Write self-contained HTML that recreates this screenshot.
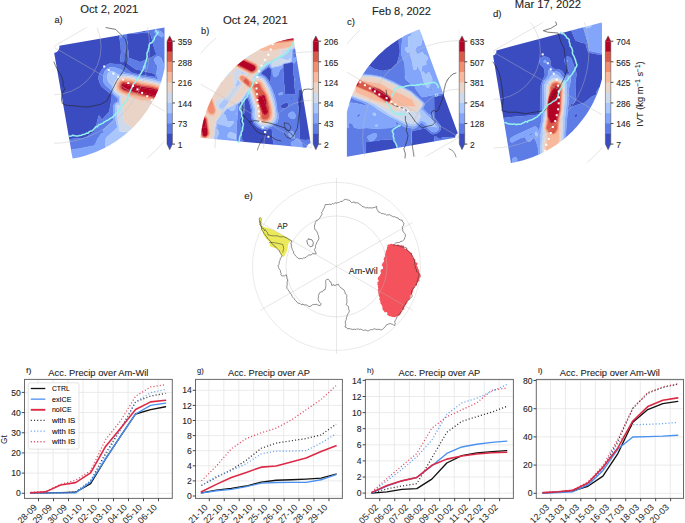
<!DOCTYPE html>
<html><head><meta charset="utf-8"><style>
html,body{margin:0;padding:0;background:#fff;}
body{width:685px;height:523px;overflow:hidden;}
svg{display:block;font-family:"Liberation Sans", sans-serif;}
text{paint-order:stroke;}
</style></head><body>
<svg width="685" height="523" viewBox="0 0 685 523">
<defs><clipPath id="ra"><rect x="0" y="0" width="164.5" height="200"/></clipPath><clipPath id="ca" clip-path="url(#ra)"><path d="M164.94 27.48 L165.42 30.46 L165.81 33.45 L166.13 36.46 L166.36 39.47 L166.52 42.48 L166.59 45.5 L166.59 48.52 L166.5 51.53 L166.34 54.55 L166.09 57.55 L165.76 60.56 L165.36 63.55 L164.87 66.53 L164.31 69.49 L163.67 72.44 L162.95 75.37 L162.15 78.28 L161.27 81.17 L160.32 84.03 L159.29 86.87 L158.19 89.68 L157.01 92.46 L155.76 95.21 L154.44 97.92 L153.04 100.6 L151.57 103.24 L150.04 105.83 L148.44 108.39 L146.76 110.9 L145.03 113.37 L143.22 115.79 L141.36 118.17 L139.43 120.49 L137.44 122.76 L135.39 124.97 L133.28 127.13 L131.12 129.24 L128.9 131.28 L126.62 133.27 L124.3 135.19 L121.92 137.05 L119.5 138.85 L117.03 140.58 L114.51 142.25 L111.95 143.85 L109.35 145.38 L106.71 146.84 L104.03 148.23 L101.31 149.55 L98.56 150.8 L95.78 151.97 L92.97 153.07 L90.13 154.09 L87.27 155.04 L84.38 155.91 L81.46 156.7 L78.53 157.41 L75.58 158.05 L72.61 158.61 L54.18 53.01 L55.54 52.61 L56.77 51.92 L57.81 50.98 L58.62 49.83 L59.16 48.52 L59.39 47.13 L59.31 45.73 Z"/></clipPath><clipPath id="ga"><rect x="54.2" y="27.5" width="110.3" height="130.9"/></clipPath><clipPath id="cb"><path d="M200.49 137.71 L200.76 135.24 L201.07 132.78 L201.44 130.33 L201.87 127.88 L202.35 125.45 L202.88 123.03 L203.47 120.62 L204.11 118.22 L204.8 115.84 L205.55 113.47 L206.34 111.13 L207.19 108.8 L208.1 106.49 L209.05 104.2 L210.05 101.93 L211.11 99.68 L212.21 97.46 L213.37 95.27 L214.57 93.1 L215.82 90.95 L217.11 88.84 L218.46 86.76 L219.85 84.7 L221.28 82.68 L222.76 80.69 L224.29 78.73 L225.85 76.81 L227.46 74.92 L229.11 73.07 L230.8 71.25 L232.54 69.48 L234.31 67.74 L236.12 66.04 L237.96 64.39 L239.84 62.77 L241.76 61.2 L243.71 59.67 L245.7 58.18 L247.72 56.74 L249.77 55.35 L251.85 54 L253.96 52.69 L256.1 51.44 L258.26 50.23 L260.46 49.07 L262.67 47.96 L264.92 46.9 L267.18 45.89 L269.47 44.93 L271.78 44.02 L274.1 43.16 L276.45 42.35 L278.81 41.6 L281.19 40.9 L283.59 40.25 L285.99 39.66 L288.41 39.12 L290.85 38.63 L293.29 38.2 L310.68 143.27 L309.78 143.51 L308.93 143.91 L308.18 144.46 L307.54 145.15 L307.04 145.94 L306.7 146.81 L306.52 147.73 Z"/></clipPath><clipPath id="gb"><rect x="200.7" y="38" width="110.80000000000001" height="110.19999999999999"/></clipPath><clipPath id="rc"><rect x="346.9" y="0" width="200" height="200"/></clipPath><clipPath id="cc" clip-path="url(#rc)"><path d="M345.91 156.87 L345.48 154.2 L345.11 151.51 L344.8 148.82 L344.55 146.12 L344.37 143.41 L344.26 140.7 L344.2 137.99 L344.21 135.28 L344.29 132.57 L344.43 129.86 L344.63 127.16 L344.9 124.46 L345.23 121.77 L345.62 119.09 L346.08 116.41 L346.59 113.75 L347.18 111.1 L347.82 108.47 L348.53 105.85 L349.29 103.25 L350.12 100.67 L351.01 98.11 L351.96 95.57 L352.97 93.05 L354.04 90.56 L355.16 88.1 L356.35 85.66 L357.59 83.25 L358.89 80.87 L360.24 78.52 L361.65 76.2 L363.11 73.92 L364.63 71.67 L366.2 69.46 L367.82 67.28 L369.49 65.15 L371.21 63.05 L372.98 61 L374.8 58.99 L376.66 57.02 L378.57 55.1 L380.53 53.22 L382.53 51.39 L384.57 49.6 L386.65 47.87 L388.78 46.18 L390.94 44.55 L393.14 42.97 L395.38 41.43 L397.65 39.96 L399.96 38.53 L402.3 37.16 L404.67 35.85 L407.07 34.59 L409.5 33.39 L411.96 32.25 L414.45 31.17 L416.96 30.14 L419.49 29.17 L457.82 133.35 L457.1 133.69 L456.47 134.17 L455.95 134.77 L455.55 135.46 L455.3 136.21 L455.2 137 L455.26 137.79 Z"/></clipPath><clipPath id="gc"><rect x="346.9" y="30.3" width="112.30000000000001" height="126.3"/></clipPath><clipPath id="rd"><rect x="0" y="0" width="602" height="200"/></clipPath><clipPath id="cd" clip-path="url(#rd)"><path d="M601.6 22.44 L602.38 25.54 L603.07 28.66 L603.67 31.79 L604.18 34.94 L604.6 38.11 L604.94 41.28 L605.18 44.46 L605.33 47.65 L605.4 50.84 L605.37 54.04 L605.25 57.23 L605.05 60.41 L604.75 63.59 L604.36 66.76 L603.89 69.92 L603.32 73.06 L602.67 76.18 L601.93 79.29 L601.1 82.37 L600.19 85.43 L599.18 88.46 L598.1 91.46 L596.93 94.43 L595.67 97.37 L594.34 100.27 L592.92 103.13 L591.42 105.94 L589.84 108.72 L588.19 111.45 L586.46 114.13 L584.65 116.76 L582.77 119.34 L580.82 121.87 L578.79 124.34 L576.7 126.75 L574.54 129.1 L572.32 131.39 L570.03 133.61 L567.68 135.77 L565.27 137.87 L562.8 139.89 L560.27 141.84 L557.7 143.73 L555.06 145.53 L552.38 147.27 L549.65 148.92 L546.88 150.5 L544.06 152 L541.2 153.42 L538.3 154.76 L535.37 156.01 L532.4 157.18 L529.4 158.27 L526.37 159.27 L523.31 160.19 L520.23 161.02 L517.12 161.76 L514 162.42 L510.86 162.98 L493.05 55.45 L493.97 55.18 L494.79 54.71 L495.48 54.05 L495.99 53.26 L496.31 52.36 L496.4 51.41 L496.27 50.47 Z"/></clipPath><clipPath id="gd"><rect x="493.4" y="22.4" width="108.60000000000002" height="140.2"/></clipPath></defs>
<rect width="685" height="523" fill="#fff"/>
<g clip-path="url(#ca)"><path d="M45.8 20.0 163.4 20.0 156.6 22.2 156.0 23.2 154.8 23.8 153.6 23.8 151.5 22.9 147.0 23.0 126.8 25.8 120.8 26.9 120.1 27.5 120.5 30.5 119.2 31.4 118.7 32.8 120.6 45.5 121.0 52.2 120.0 59.8 120.3 61.2 121.5 62.2 122.2 62.3 123.8 61.5 124.2 60.5 124.3 53.8 125.3 47.5 126.0 55.2 126.0 62.0 126.4 62.8 135.0 69.0 154.5 73.8 155.6 77.0 140.2 74.8 131.5 72.5 123.3 65.8 120.0 63.9 115.5 64.1 109.5 63.5 106.5 64.9 102.9 68.0 100.0 72.5 98.5 76.2 98.3 78.5 100.0 83.8 101.7 86.8 111.9 95.0 111.5 99.5 109.2 111.5 102.0 119.7 99.6 116.0 99.0 115.5 98.5 116.0 95.8 127.2 94.1 131.8 85.5 137.6 80.2 138.6 75.8 138.6 69.0 139.3 68.3 140.0 69.3 161.8 69.8 164.8 71.0 165.5 45.0 165.5 45.0 20.0 45.8 20.0ZM143.2 28.7 144.8 28.9 145.6 30.5 145.1 32.0 144.0 32.6 142.6 32.0 141.9 30.5 142.5 29.0 143.2 28.7ZM135.7 33.5 143.2 32.8 150.0 33.2 150.3 35.0 151.1 35.8 151.3 38.0 151.9 38.8 152.6 43.2 153.3 44.0 153.5 46.2 154.1 47.0 154.1 48.5 154.8 49.2 155.0 51.5 155.8 52.2 156.2 54.5 149.2 58.5 146.2 59.3 145.5 60.0 140.2 61.9 138.0 61.6 137.2 60.8 132.0 59.3 131.2 58.6 129.8 58.6 128.6 57.5 128.6 51.5 127.9 49.2 127.8 42.5 127.0 40.2 127.0 34.2 127.5 33.8 135.7 33.5ZM170.2 39.1 170.2 39.5 170.2 51.6 169.5 50.2 166.7 47.8 166.1 45.5 166.9 43.2 169.5 41.0 170.2 39.1ZM153.8 66.3 154.6 66.5 154.5 68.4 153.4 68.0 153.8 66.3ZM168.8 75.6 170.2 75.6 170.2 86.4 168.2 82.2 169.0 80.0 168.3 76.2 168.8 75.6ZM170.2 102.0 170.2 165.5 111.3 165.5 111.8 163.7 150.0 161.5 151.1 161.0 153.4 149.8 158.2 119.8 158.8 116.8 160.5 113.8 161.4 108.5 167.2 105.2 170.2 102.0ZM101.2 130.4 101.3 131.0 101.2 131.3 100.9 131.0 101.2 130.4Z" fill="#3b4cc0" stroke="#3b4cc0" stroke-width="0.3" fill-rule="evenodd"/><path d="M160.5 20.7 163.4 20.0 170.2 20.0 170.2 39.1 169.5 41.0 166.9 43.2 166.1 45.5 166.7 47.8 169.5 50.2 170.2 51.6 170.2 75.6 168.8 75.6 168.3 76.2 169.0 80.0 168.2 82.2 170.2 86.4 170.2 89.9 168.4 86.0 165.7 82.2 166.8 80.8 167.1 79.2 164.6 66.5 161.3 58.2 159.7 56.8 157.5 56.5 156.0 57.0 154.7 58.2 154.1 59.8 156.0 64.4 157.1 65.0 157.4 65.8 156.4 74.0 156.9 76.2 158.6 79.2 158.2 79.5 153.8 78.2 140.2 76.4 132.8 74.2 125.2 72.7 121.1 69.5 114.8 67.4 110.2 67.2 107.0 68.8 104.8 71.0 103.9 73.2 103.1 79.2 103.5 82.2 105.5 85.2 110.6 89.8 113.2 94.6 117.9 98.8 117.8 101.4 114.8 102.9 113.3 105.5 113.4 114.5 113.2 116.0 112.4 116.8 113.6 119.8 103.4 129.5 103.0 131.0 104.0 132.5 103.5 133.2 102.0 132.7 100.5 134.5 97.8 138.5 94.5 145.6 79.5 148.5 72.0 149.4 71.6 149.8 71.6 160.2 72.0 165.1 83.5 165.5 71.0 165.5 69.8 164.8 69.3 161.8 68.3 140.0 69.0 139.3 75.8 138.6 80.2 138.6 85.5 137.6 94.1 131.8 95.8 127.3 98.5 116.0 99.0 115.5 99.6 116.0 102.0 119.7 109.2 111.5 111.5 99.5 111.9 95.0 101.7 86.8 100.0 83.8 98.3 78.5 98.5 76.2 100.0 72.5 102.9 68.0 106.5 64.9 109.5 63.5 115.5 64.1 120.0 63.9 123.3 65.8 131.5 72.5 140.2 74.8 155.6 77.0 154.5 73.8 135.0 69.0 126.4 62.8 126.0 62.0 126.0 55.3 125.2 47.5 124.3 53.8 124.2 60.5 123.8 61.5 122.2 62.3 121.5 62.2 120.3 61.2 120.0 59.8 121.0 52.2 120.6 45.5 118.7 32.8 119.2 31.4 120.5 30.5 120.1 27.5 120.8 26.9 126.7 25.8 147.0 23.0 151.5 22.9 153.6 23.8 154.8 23.8 156.0 23.2 156.6 22.2 160.5 20.7ZM128.0 26.8 126.8 27.3 124.0 27.5 122.4 28.3 121.9 29.8 122.2 31.2 120.6 32.0 120.0 33.1 120.0 36.2 120.8 37.4 121.5 37.4 122.5 36.5 123.1 34.2 123.3 31.2 124.0 29.8 126.0 28.4 130.5 27.5 131.1 26.8 128.0 26.8ZM142.5 29.0 141.9 30.5 142.5 31.9 144.0 32.6 144.8 32.4 145.5 31.2 145.4 29.8 144.0 28.7 142.5 29.0ZM155.1 30.5 154.5 32.0 155.8 33.5 161.2 37.0 162.0 37.2 163.2 36.5 163.5 34.2 161.8 32.0 158.2 30.3 155.1 30.5ZM135.6 33.5 127.5 33.8 127.0 34.2 127.0 40.2 127.8 42.5 127.9 49.2 128.6 51.5 128.6 57.5 129.8 58.6 131.2 58.6 132.0 59.3 137.2 60.8 138.0 61.6 140.2 61.9 145.5 60.0 146.2 59.3 149.2 58.5 156.2 54.5 155.8 52.2 155.0 51.5 154.8 49.2 154.1 48.5 154.1 47.0 153.5 46.2 153.3 44.0 152.6 43.2 151.9 38.8 151.3 38.0 151.1 35.8 150.3 35.0 150.0 33.2 143.2 32.8 135.6 33.5ZM143.8 65.8 143.0 66.5 142.9 68.0 143.6 68.8 144.8 68.9 145.7 68.0 145.8 65.8 144.8 65.4 143.8 65.8ZM153.6 66.5 153.4 68.0 154.5 68.4 154.5 66.3 153.6 66.5ZM100.9 131.0 101.2 131.3 101.2 130.4 100.9 131.0ZM170.2 98.0 170.2 102.0 167.2 105.2 161.4 108.5 160.5 113.8 158.8 116.8 153.4 149.8 151.1 161.0 150.0 161.5 111.8 163.7 111.3 165.5 110.3 165.5 111.0 163.1 133.5 161.8 140.2 161.0 150.0 160.9 150.8 160.4 157.4 121.2 160.5 107.0 164.2 105.7 167.2 103.5 169.2 101.0 170.2 98.0ZM90.0 165.4 93.8 165.0 98.4 165.5 89.4 165.5 90.0 165.4Z" fill="#5d7ce6" stroke="#5d7ce6" stroke-width="0.3" fill-rule="evenodd"/><path d="M128.2 26.7 131.1 26.8 130.5 27.5 126.0 28.4 124.0 29.8 123.3 31.2 123.1 34.2 122.5 36.5 121.5 37.4 120.8 37.4 120.0 36.2 120.0 33.1 120.6 32.0 122.2 31.2 121.9 29.8 122.4 28.2 124.0 27.5 126.8 27.3 128.2 26.7ZM155.2 30.4 158.2 30.3 161.8 32.0 163.5 34.2 163.2 36.5 162.0 37.2 161.2 37.0 155.8 33.5 154.5 32.0 154.5 31.2 155.2 30.4ZM156.8 56.7 159.0 56.5 160.8 57.5 164.6 66.5 167.1 79.2 166.8 80.8 165.7 82.2 168.4 86.0 170.2 89.9 170.2 98.0 169.2 101.0 167.2 103.5 164.2 105.7 160.5 107.0 157.4 121.2 150.8 160.4 150.0 160.9 140.2 161.0 133.5 161.8 111.0 163.1 110.3 165.5 98.4 165.5 93.8 165.0 83.5 165.5 72.0 165.1 71.6 160.2 71.6 149.8 72.0 149.4 79.5 148.5 94.5 145.6 97.8 138.5 100.5 134.5 102.0 132.7 103.5 133.2 104.0 132.5 103.0 131.0 103.4 129.5 113.6 119.8 112.4 116.8 113.2 116.0 113.4 114.5 113.3 105.5 114.8 102.9 117.8 101.4 117.9 98.8 113.2 94.6 110.6 89.8 105.5 85.2 103.9 83.0 103.2 80.8 103.2 77.8 103.9 73.2 105.4 70.2 107.2 68.5 109.5 67.4 114.0 67.3 120.8 69.3 125.2 72.7 132.8 74.2 140.2 76.4 153.8 78.2 158.2 79.5 158.6 79.2 156.9 76.2 156.4 74.0 157.4 65.8 157.1 65.0 156.0 64.4 154.1 59.8 154.7 58.2 156.8 56.7ZM110.8 71.0 108.8 72.0 107.5 74.0 107.1 76.2 107.6 80.0 109.1 83.0 111.8 85.2 112.3 89.8 113.6 92.8 115.5 94.8 119.1 97.2 119.3 102.5 116.2 103.7 115.4 104.8 115.1 106.2 115.4 118.2 117.3 127.2 113.2 131.5 106.1 137.8 105.8 138.5 105.4 146.8 106.3 153.5 105.1 160.2 105.8 160.9 124.5 160.5 132.0 160.9 140.2 160.2 150.0 160.3 154.6 135.5 158.9 107.8 159.8 105.6 162.8 105.0 164.8 104.0 166.6 102.5 168.1 100.2 169.5 93.5 168.5 89.0 165.5 84.5 161.2 82.1 153.0 79.8 139.5 77.6 131.2 75.3 124.5 74.2 120.0 74.9 117.0 74.0 113.2 71.3 110.8 71.0ZM101.9 160.2 101.4 161.8 102.9 164.8 106.4 164.8 105.8 162.5 104.8 161.0 103.5 160.1 101.9 160.2ZM144.0 65.7 145.5 65.4 145.8 65.8 145.7 68.0 144.8 68.9 143.6 68.8 142.9 68.0 143.0 66.5 144.0 65.7Z" fill="#83a6fb" stroke="#83a6fb" stroke-width="0.3" fill-rule="evenodd"/><path d="M111.0 71.0 113.2 71.3 117.0 74.0 120.0 74.9 124.5 74.2 131.2 75.3 139.5 77.6 153.0 79.8 161.2 82.1 165.5 84.5 168.5 89.0 169.5 93.5 168.1 100.2 166.6 102.5 164.8 104.0 162.8 105.0 159.7 105.6 158.9 107.8 154.6 135.5 150.0 160.3 140.2 160.2 132.0 160.9 124.5 160.5 105.8 160.9 105.1 160.2 106.3 153.5 105.4 146.8 105.8 138.5 106.1 137.8 113.2 131.5 117.3 127.2 115.4 118.3 115.1 106.2 115.4 104.8 116.2 103.7 119.3 102.5 119.1 97.2 115.5 94.8 113.6 92.8 112.3 89.8 111.8 85.2 109.1 83.0 107.6 80.0 107.1 76.2 107.5 74.0 108.8 72.0 111.0 71.0ZM121.2 76.2 117.8 78.2 115.3 80.8 113.9 83.8 113.4 86.8 113.8 89.8 114.9 92.0 120.6 96.5 120.8 106.2 117.8 104.7 116.9 105.5 116.8 106.2 117.4 111.5 117.3 118.2 118.9 125.8 118.9 130.2 119.3 131.0 120.8 131.5 132.0 132.8 132.7 131.8 132.3 128.8 145.5 125.5 150.0 121.1 156.8 113.0 158.5 104.8 163.5 103.4 166.5 100.5 167.9 96.5 168.2 92.0 167.2 89.2 165.8 86.8 163.5 84.8 161.2 83.7 152.2 81.2 140.2 79.1 131.2 76.6 124.5 75.7 121.2 76.2ZM102.0 160.2 103.5 160.1 104.8 161.0 105.8 162.5 106.4 164.8 102.9 164.8 101.4 161.8 102.0 160.2Z" fill="#aac7fd" stroke="#aac7fd" stroke-width="0.3" fill-rule="evenodd"/><path d="M121.5 76.1 124.5 75.7 131.2 76.6 140.2 79.1 152.2 81.2 161.2 83.7 163.5 84.8 165.8 86.8 167.2 89.2 168.2 92.0 167.9 96.5 166.5 100.5 163.5 103.4 158.5 104.8 156.8 113.0 150.0 121.1 145.5 125.5 132.3 128.8 132.7 131.8 132.0 132.8 120.8 131.5 119.3 131.0 118.9 130.2 118.9 125.8 117.3 118.2 117.4 111.5 116.8 106.2 116.9 105.5 117.8 104.7 120.8 106.2 120.6 96.5 114.9 92.0 113.8 89.8 113.4 86.8 114.0 83.4 115.5 80.5 118.4 77.8 121.5 76.1ZM121.1 77.8 117.7 80.0 115.7 83.0 115.0 87.5 116.2 91.1 118.5 93.1 122.2 95.2 131.2 98.3 136.7 99.5 135.0 99.9 130.5 98.4 123.0 96.9 121.8 97.2 121.8 102.5 123.2 109.2 123.6 116.8 124.5 122.0 132.0 127.4 145.0 124.2 155.2 113.0 156.5 106.2 157.7 103.2 162.4 102.5 165.2 100.2 166.5 97.3 167.1 94.3 166.9 92.0 166.2 89.8 164.2 87.1 162.0 85.6 153.8 83.0 141.0 80.7 130.5 77.9 124.5 77.1 121.1 77.8ZM147.0 105.0 148.4 105.5 148.4 106.2 147.8 106.8 147.0 106.9 146.2 106.2 146.3 105.5 147.0 105.0Z" fill="#ced9ec" stroke="#ced9ec" stroke-width="0.3" fill-rule="evenodd"/><path d="M121.5 77.6 124.5 77.1 130.5 77.9 141.0 80.7 153.8 83.0 162.0 85.6 164.2 87.1 166.2 89.8 166.9 92.0 167.1 94.2 166.5 97.3 165.2 100.2 162.4 102.5 157.7 103.2 156.5 106.2 155.2 113.0 145.0 124.2 132.0 127.4 124.5 122.0 123.6 116.8 123.2 109.2 121.8 102.5 121.8 97.2 123.0 96.9 130.5 98.4 135.0 99.9 136.7 99.5 131.2 98.3 122.2 95.2 118.5 93.1 116.2 91.1 115.0 87.5 115.7 83.0 117.8 80.0 121.5 77.6ZM124.4 78.5 121.5 79.1 119.2 80.5 117.8 82.3 116.7 85.2 116.6 87.5 117.4 89.8 119.2 91.7 122.2 93.5 141.0 100.5 150.0 100.6 160.5 101.7 163.5 100.2 165.0 98.0 165.9 94.2 165.5 91.2 163.5 88.3 161.2 86.8 152.2 84.0 141.8 82.3 131.2 79.5 124.4 78.5ZM146.3 105.5 146.2 106.2 147.0 106.9 148.4 106.2 148.4 105.5 147.8 105.0 146.3 105.5Z" fill="#ead4c8" stroke="#ead4c8" stroke-width="0.3" fill-rule="evenodd"/><path d="M124.5 78.5 131.2 79.5 141.8 82.3 152.2 84.0 161.2 86.8 163.5 88.3 165.5 91.2 165.9 94.2 165.0 98.0 163.5 100.2 160.5 101.7 150.0 100.6 141.0 100.5 122.2 93.5 119.2 91.7 117.4 89.8 116.6 87.5 116.7 85.2 117.8 82.3 119.2 80.5 121.5 79.1 124.5 78.5ZM123.4 80.0 121.3 80.8 119.5 82.2 118.6 83.7 118.2 86.0 118.5 88.2 119.4 89.8 123.0 92.3 129.0 94.3 158.2 100.4 160.5 100.3 162.0 99.6 163.9 97.2 164.6 94.2 164.4 92.0 163.1 89.8 160.5 87.9 152.2 85.4 141.8 83.7 126.0 80.0 123.4 80.0Z" fill="#f7b89c" stroke="#f7b89c" stroke-width="0.3" fill-rule="evenodd"/><path d="M123.8 79.9 132.0 81.2 142.5 83.9 152.2 85.4 160.5 87.9 163.1 89.8 164.4 92.0 164.6 94.2 163.9 97.2 162.0 99.6 160.5 100.3 158.2 100.4 129.0 94.3 123.0 92.3 119.4 89.8 118.5 88.2 118.2 86.0 118.6 83.8 120.0 81.7 121.5 80.6 123.8 79.9ZM123.2 81.5 120.8 83.1 119.7 86.0 120.7 89.0 123.8 91.1 128.2 92.6 135.0 93.6 143.2 95.9 158.2 98.9 161.2 98.3 163.1 95.8 163.3 93.5 162.9 92.0 161.9 90.5 159.8 89.1 152.2 86.8 141.0 85.0 125.2 81.4 123.2 81.5Z" fill="#f18e70" stroke="#f18e70" stroke-width="0.3" fill-rule="evenodd"/><path d="M123.7 81.4 132.8 82.9 142.3 85.2 152.2 86.8 159.8 89.1 161.9 90.5 162.9 92.0 163.3 93.5 163.1 95.8 161.2 98.3 158.2 98.9 143.2 95.9 135.0 93.6 128.2 92.6 123.8 91.1 120.7 89.0 119.7 86.0 120.8 83.0 122.2 81.9 123.7 81.4ZM123.6 83.0 121.6 84.5 121.2 86.0 121.5 87.5 123.0 89.3 126.0 90.4 135.2 92.0 142.5 94.2 157.5 97.4 159.0 97.5 160.5 96.9 161.8 95.0 161.7 92.8 160.5 91.0 154.5 88.8 139.5 86.1 125.2 82.9 123.6 83.0Z" fill="#da5948" stroke="#da5948" stroke-width="0.3" fill-rule="evenodd"/><path d="M123.7 82.9 145.5 87.3 152.2 88.2 159.0 90.2 161.4 92.0 161.9 93.5 161.8 95.0 160.5 96.9 159.0 97.5 157.5 97.4 142.5 94.2 135.2 92.0 126.0 90.4 123.0 89.3 121.5 87.5 121.2 86.0 121.6 84.5 123.7 82.9ZM124.2 84.5 123.1 85.2 122.8 86.8 124.5 88.5 129.9 89.8 134.2 90.1 141.8 92.5 153.0 95.3 158.2 96.0 159.8 95.4 160.4 94.2 160.2 92.8 159.0 91.6 153.8 89.9 139.5 87.7 124.2 84.5Z" fill="#b40426" stroke="#b40426" stroke-width="0.3" fill-rule="evenodd"/><path d="M124.5 84.4 135.8 87.0 153.8 89.9 159.0 91.6 160.2 92.8 160.4 94.2 159.8 95.4 158.2 96.0 153.0 95.3 141.8 92.5 134.2 90.1 129.9 89.8 124.5 88.5 123.0 87.4 122.7 86.0 123.1 85.2 124.5 84.4Z" fill="#b40426" stroke="#b40426" stroke-width="0.3" fill-rule="evenodd"/></g>
<g clip-path="url(#ga)" stroke="#bdbdbd" stroke-width="0.5" fill="none" stroke-opacity="0.8"><circle cx="53.1" cy="46.8" r="48"/><circle cx="53.1" cy="46.8" r="96.5"/><circle cx="53.1" cy="46.8" r="146"/><line x1="53.1" y1="46.8" x2="269.61" y2="-78.2"/><line x1="53.1" y1="46.8" x2="269.61" y2="171.8"/><line x1="53.1" y1="46.8" x2="53.1" y2="296.8"/></g>
<g clip-path="url(#ra)"><polyline points="106,27.6 115.7,29.4 119.2,32.9 121.8,35.5 125.3,39 127.1,46 126.2,53 127.1,60 125.3,66.2 123.6,70.5 120.1,75.8 116.6,81.1 113.1,88.1 109.6,95.5 106.9,100.8 100.8,104.3 97.3,105.1 88.5,106.9 83.3,106.9 76.3,106 71,105.7 65.8,105.1 62.3,103.4 61.4,99 62.3,93.8 64.9,88.5 63.1,86.3 63.1,81.1 61.4,75.8 57.9,70.5 55.3,65.3 54,62" fill="none" stroke="#222" stroke-width="0.6" stroke-linejoin="round" stroke-linecap="round"/></g>
<polyline points="155.72,29.98 156.27,31.63 158.1,32.74 156.98,34.45 155.83,35.53 154.39,37.79 154.22,39.62 153.66,40.26 152.27,42.09 151.02,43.05 149.76,43.47 148.92,45.75 148.97,46.32 148.83,47.66 148.37,49.09 148.07,50.88 147.01,52.79 146.91,54.94 147.21,56.68 146.81,58.13 146.36,60.37 145.86,61.48 145.16,63.42 144.59,65.91 143.79,66.62 143.44,68.98 142.81,70.16 141.72,71.7 141.44,72.81 140.17,74.26 139.41,75.94 137.91,77.96 137.62,78.27 136.36,79.68 135.81,81.31 134.94,82.7 133.5,83.7 132.85,85.46 132.49,86.35 131.41,88.59 130.92,89.41 130.21,91.45 129.28,93.55 128.46,94.3 128.43,96.02 127.62,97.95 127.61,99.32 126.39,100.38 124.57,102.57 123.58,103.98 122.82,104.68 121.74,106.34 120.58,108.05 119.91,108.86 118.48,110.3 117.64,112.26 116.93,112.45 115.81,113.49 114.49,114.99 112.63,117.26 111.3,117.92 110.33,118.38 107.99,120.18 106.8,120.49 105.98,121.06 104.4,121.84 102.97,123.1 101.83,123.67 100.42,124.25 98.43,124.97 97.57,126.77 96,126.58 94.47,128.51 93.43,129.46 92.35,130.82 90.13,131.35 88.94,131.98 88.24,133.24 86.64,133.12 84.88,134.19 82.9,134.43 81.71,135.22 79.65,135.48 78.48,135.91 75.65,135.88 74.59,135.65 72.77,135.28 71.44,135.95 68.9,136.2" fill="none" stroke="#96f0ec" stroke-width="1.5" stroke-linejoin="round" stroke-linecap="round"/><rect x="103.2" y="65.5" width="2" height="2" fill="#fff"/><rect x="107.7" y="69" width="2" height="2" fill="#fff"/><rect x="112.4" y="72.5" width="2" height="2" fill="#fff"/><rect x="117.3" y="75.8" width="2" height="2" fill="#fff"/><rect x="122.1" y="78.7" width="2" height="2" fill="#fff"/><rect x="127.3" y="82.1" width="2" height="2" fill="#fff"/><rect x="131.9" y="85" width="2" height="2" fill="#fff"/><rect x="136.5" y="88.4" width="2" height="2" fill="#fff"/><rect x="141.1" y="91.9" width="2" height="2" fill="#fff"/><rect x="146.2" y="95.3" width="2" height="2" fill="#fff"/><rect x="150.8" y="98.8" width="2" height="2" fill="#fff"/>
<path d="M167 41.2 L169.7 35.9 L172.4 41.2 Z" fill="#b40426"/>
<path d="M167 144.1 L169.7 149.7 L172.4 144.1 Z" fill="#3b4cc0"/>
<rect x="167" y="41.2" width="5.4" height="10.89" fill="#b40426"/>
<rect x="167" y="51.49" width="5.4" height="10.89" fill="#da5948"/>
<rect x="167" y="61.78" width="5.4" height="10.89" fill="#f18e70"/>
<rect x="167" y="72.07" width="5.4" height="10.89" fill="#f7b89c"/>
<rect x="167" y="82.36" width="5.4" height="10.89" fill="#ead4c8"/>
<rect x="167" y="92.65" width="5.4" height="10.89" fill="#ced9ec"/>
<rect x="167" y="102.94" width="5.4" height="10.89" fill="#aac7fd"/>
<rect x="167" y="113.23" width="5.4" height="10.89" fill="#83a6fb"/>
<rect x="167" y="123.52" width="5.4" height="10.89" fill="#5d7ce6"/>
<rect x="167" y="133.81" width="5.4" height="10.29" fill="#3b4cc0"/>
<path d="M167 41.2 L169.7 35.9 L172.4 41.2 L172.4 144.1 L169.7 149.7 L167 144.1 Z" fill="none" stroke="#444" stroke-width="0.5"/>
<line x1="172.4" y1="41.2" x2="175" y2="41.2" stroke="#333" stroke-width="0.9"/>
<text x="177.8" y="45.05" font-size="8.5" fill="#262626" stroke="#262626" stroke-width="0.1">359</text>
<line x1="172.4" y1="61.78" x2="175" y2="61.78" stroke="#333" stroke-width="0.9"/>
<text x="177.8" y="65.63" font-size="8.5" fill="#262626" stroke="#262626" stroke-width="0.1">288</text>
<line x1="172.4" y1="82.36" x2="175" y2="82.36" stroke="#333" stroke-width="0.9"/>
<text x="177.8" y="86.21" font-size="8.5" fill="#262626" stroke="#262626" stroke-width="0.1">216</text>
<line x1="172.4" y1="102.94" x2="175" y2="102.94" stroke="#333" stroke-width="0.9"/>
<text x="177.8" y="106.79" font-size="8.5" fill="#262626" stroke="#262626" stroke-width="0.1">144</text>
<line x1="172.4" y1="123.52" x2="175" y2="123.52" stroke="#333" stroke-width="0.9"/>
<text x="177.8" y="127.37" font-size="8.5" fill="#262626" stroke="#262626" stroke-width="0.1">73</text>
<line x1="172.4" y1="144.1" x2="175" y2="144.1" stroke="#333" stroke-width="0.9"/>
<text x="177.8" y="147.95" font-size="8.5" fill="#262626" stroke="#262626" stroke-width="0.1">1</text>
<text x="109.3" y="13.1" font-size="10.9" text-anchor="middle" textLength="58.2" lengthAdjust="spacingAndGlyphs" fill="#1e1e1e" stroke="#1e1e1e" stroke-width="0.1">Oct 2, 2021</text>
<text x="54.4" y="22.8" font-size="9" textLength="8.2" lengthAdjust="spacingAndGlyphs" fill="#1e1e1e" stroke="#1e1e1e" stroke-width="0.1">a)</text>
<g clip-path="url(#cb)"><path d="M195.8 30.0 196.5 30.0 267.3 30.0 264.8 31.0 262.1 33.8 261.0 35.5 257.2 36.6 232.5 49.4 217.5 56.6 215.9 58.5 204.8 77.4 199.9 84.0 195.0 92.0 195.0 30.0 195.8 30.0ZM301.5 30.0 315.0 30.0 315.0 142.0 313.4 136.5 313.4 131.2 311.5 123.0 311.2 115.3 309.8 110.2 309.0 110.1 308.2 111.3 308.2 114.0 308.8 116.2 308.8 120.8 309.5 122.2 309.4 127.5 310.1 129.0 310.1 133.5 310.9 135.8 310.8 139.5 305.2 139.9 299.7 139.5 298.7 108.0 297.8 103.5 298.5 89.7 300.0 89.7 300.8 89.0 302.2 89.0 303.8 88.2 304.8 88.5 305.5 90.0 305.8 94.5 306.5 96.8 306.5 101.2 307.3 102.8 307.5 105.1 309.0 105.3 309.3 101.2 308.2 94.5 307.9 87.8 306.9 78.8 304.1 68.2 304.0 60.0 303.3 55.5 301.5 51.7 299.2 52.4 294.7 51.0 294.6 50.2 297.0 47.3 299.2 47.1 300.8 47.7 301.0 47.2 301.7 41.2 302.7 39.0 303.2 36.0 302.7 33.0 300.9 30.0 301.5 30.0ZM291.8 62.1 292.7 62.2 293.5 66.0 293.6 75.0 294.3 78.0 294.3 87.0 295.1 90.0 295.1 93.8 294.8 94.2 291.8 94.3 285.0 94.0 284.5 85.5 283.8 82.5 283.9 74.2 283.2 71.2 283.3 64.5 284.2 63.7 291.0 62.7 291.8 62.1ZM267.8 67.4 268.5 66.9 271.4 69.8 270.6 81.0 270.0 82.3 266.7 77.2 261.3 73.5 262.5 71.6 267.8 67.4ZM246.8 96.8 247.4 97.5 249.1 102.0 251.0 109.5 251.1 116.2 251.7 119.2 254.2 124.5 257.5 127.5 261.8 129.4 265.5 129.7 271.7 128.2 272.5 138.0 273.7 144.8 273.9 150.0 274.5 151.1 280.5 151.4 287.2 150.3 295.5 151.4 315.0 151.0 315.0 152.2 195.0 152.2 195.0 132.7 196.0 141.8 197.2 143.4 198.8 144.2 207.8 143.6 208.3 144.0 208.3 145.5 209.2 146.5 216.0 148.0 222.8 148.5 238.5 150.8 240.0 150.8 241.7 150.0 242.5 148.5 243.2 140.2 242.0 139.5 241.8 132.0 240.8 123.8 239.9 123.0 239.3 120.8 239.9 119.3 240.8 118.8 241.2 114.0 244.3 113.2 244.4 100.5 246.8 96.8ZM291.8 97.2 292.4 98.2 291.8 99.2 291.0 99.3 290.7 98.2 291.0 97.6 291.8 97.2ZM285.8 102.7 287.2 102.7 288.1 103.5 288.4 105.8 287.2 107.8 285.8 108.4 284.2 108.5 281.7 108.0 280.5 107.2 280.3 106.5 281.4 105.0 283.6 103.5 285.8 102.7Z" fill="#3b4cc0" stroke="#3b4cc0" stroke-width="0.3" fill-rule="evenodd"/><path d="M265.5 30.6 267.3 30.0 270.1 30.0 266.4 30.8 264.0 32.2 261.5 36.0 258.7 36.8 233.2 50.1 217.5 57.4 205.5 78.0 200.3 84.9 195.0 93.4 195.0 92.0 196.2 90.0 204.8 77.4 217.0 57.0 218.2 56.0 232.5 49.4 257.2 36.6 261.0 35.5 263.2 32.4 265.5 30.6ZM300.0 30.0 300.9 30.0 302.0 31.5 303.1 35.2 302.9 38.2 301.5 42.0 301.3 46.5 300.8 47.7 299.2 47.1 297.0 47.3 294.6 50.2 294.7 51.0 299.2 52.4 301.5 51.7 303.3 55.5 304.0 60.0 304.1 68.2 306.9 78.8 307.9 87.8 308.2 94.5 309.3 101.2 309.0 105.3 307.5 105.1 307.3 102.8 306.5 101.2 306.5 96.8 305.8 94.5 305.5 90.0 304.8 88.5 303.8 88.2 302.2 89.0 300.8 89.0 300.0 89.7 298.5 89.7 297.8 103.5 298.7 108.0 299.7 139.5 305.2 139.9 310.8 139.5 310.9 135.8 310.1 133.5 310.1 129.0 309.4 127.5 309.5 122.2 308.8 120.8 308.8 116.3 308.2 114.0 308.2 111.3 309.0 110.1 309.8 110.2 311.4 116.2 311.5 123.0 313.3 130.5 313.4 136.5 315.0 142.0 315.0 151.0 295.5 151.4 287.2 150.3 280.5 151.4 274.5 151.1 273.9 150.0 273.7 144.8 272.5 138.0 271.7 128.2 265.5 129.7 261.8 129.4 257.5 127.5 254.2 124.5 251.7 119.2 251.1 116.3 251.0 109.5 249.1 102.0 247.4 97.5 246.8 96.8 244.4 100.5 244.3 113.2 241.2 114.0 240.8 118.8 239.9 119.2 239.3 120.8 239.9 123.0 240.8 123.8 241.8 132.0 242.0 139.5 243.2 140.2 242.5 148.5 241.7 150.0 240.0 150.8 238.5 150.8 222.8 148.5 216.8 148.2 209.2 146.5 208.3 145.5 208.3 144.0 207.8 143.6 199.5 144.4 197.2 143.4 196.0 141.8 195.5 139.5 195.0 126.4 196.2 135.0 196.3 141.0 198.0 143.3 199.5 143.6 209.2 142.7 209.7 143.2 209.6 144.8 210.4 145.5 216.8 146.8 225.8 147.3 235.5 149.5 237.4 149.2 237.0 148.4 236.2 148.0 236.1 144.0 236.7 137.2 236.6 126.8 237.4 117.0 237.8 104.2 239.2 103.2 243.0 102.0 243.2 100.5 247.5 94.2 250.2 101.2 252.1 109.5 252.0 114.8 252.5 117.8 254.4 122.2 256.9 125.2 261.0 127.9 264.8 128.4 270.9 126.8 273.5 125.2 276.0 123.0 276.8 123.1 277.5 122.1 279.1 116.2 277.5 111.9 276.1 101.2 274.8 96.0 271.2 87.0 266.8 79.5 264.1 76.5 259.8 74.2 261.7 71.2 269.2 65.2 270.2 67.5 272.6 69.0 273.0 75.6 274.5 76.8 276.0 76.8 278.1 75.0 279.8 70.1 282.8 67.8 283.4 63.7 290.2 62.4 292.5 61.5 294.0 63.5 294.8 62.7 296.2 60.3 296.5 58.5 295.9 57.8 294.8 57.5 293.2 58.2 292.9 50.2 295.9 47.2 297.0 44.2 300.0 41.9 301.9 39.0 302.2 34.5 301.4 32.2 300.0 30.0ZM291.4 62.2 291.0 62.7 284.2 63.7 283.3 64.5 283.2 71.2 283.9 74.2 283.8 82.5 284.5 85.5 285.0 94.0 291.8 94.3 294.8 94.2 295.1 93.8 295.1 90.0 294.3 87.0 294.3 78.0 293.6 75.0 293.5 66.0 292.7 62.2 291.4 62.2ZM267.6 67.5 262.5 71.6 261.3 73.5 266.7 77.2 270.0 82.3 270.6 81.0 271.4 69.8 268.5 66.9 267.6 67.5ZM294.7 78.8 294.7 80.2 294.8 81.5 295.2 79.5 294.8 78.3 294.7 78.8ZM305.4 82.5 303.4 86.2 303.8 87.2 304.7 87.0 306.0 85.7 306.0 82.1 305.4 82.5ZM279.4 93.0 278.3 94.5 279.0 95.3 282.0 94.7 283.1 93.8 283.0 93.0 282.0 92.5 279.4 93.0ZM291.1 97.5 290.7 99.0 291.8 99.2 292.4 98.2 291.8 97.2 291.1 97.5ZM285.6 102.8 283.5 103.5 281.4 105.0 280.3 106.5 280.5 107.2 281.7 108.0 284.2 108.5 285.8 108.4 287.2 107.8 288.4 105.8 288.1 103.5 287.2 102.7 285.6 102.8ZM242.9 111.8 243.0 112.5 243.0 112.5 243.0 111.0 242.9 111.8ZM291.6 111.8 289.1 113.2 288.1 114.8 288.1 115.5 289.1 117.0 291.0 118.4 294.0 118.9 295.5 117.0 295.2 114.0 293.2 111.8 291.6 111.8ZM290.1 131.2 288.6 133.5 289.1 136.5 290.2 137.8 291.8 138.5 294.2 138.0 294.9 137.2 295.0 135.8 293.5 132.0 291.8 130.8 290.1 131.2ZM296.0 138.8 294.0 140.7 291.8 141.8 290.8 143.2 291.2 144.8 294.2 150.0 306.3 150.0 302.8 147.8 301.6 142.5 300.0 140.3 297.8 138.8 296.0 138.8Z" fill="#5d7ce6" stroke="#5d7ce6" stroke-width="0.3" fill-rule="evenodd"/><path d="M267.0 30.6 270.1 30.0 275.3 30.0 266.2 31.6 263.5 33.8 261.8 37.1 258.8 37.8 234.0 50.8 218.2 58.0 206.2 78.5 201.0 85.6 195.0 95.3 195.2 93.0 200.2 84.9 205.5 78.0 217.5 57.4 233.3 50.1 258.7 36.8 261.5 36.0 263.9 32.2 267.0 30.6ZM299.2 30.0 299.8 30.0 300.5 30.8 301.8 33.0 302.2 37.5 300.8 41.1 297.0 44.2 295.9 47.2 292.9 50.2 293.2 58.2 294.8 57.5 295.9 57.8 296.5 58.5 296.2 60.3 294.8 62.7 294.0 63.5 292.5 61.5 290.2 62.4 283.4 63.8 282.8 67.8 279.8 70.1 278.1 75.0 276.0 76.8 274.5 76.8 273.0 75.6 272.6 69.0 270.2 67.5 269.2 65.2 261.7 71.2 259.8 74.2 264.1 76.5 266.8 79.5 271.2 87.0 274.8 96.0 276.1 101.2 277.5 111.9 279.1 116.2 277.5 122.1 276.8 123.1 276.0 123.0 273.5 125.2 270.9 126.8 264.8 128.4 261.0 127.9 256.9 125.2 254.4 122.2 252.5 117.8 252.0 114.8 252.1 109.5 250.2 101.2 247.5 94.2 243.2 100.5 243.0 102.0 239.2 103.2 237.8 104.2 237.4 117.0 236.6 126.8 236.7 137.2 236.1 144.0 236.2 148.0 237.0 148.4 237.4 149.2 235.5 149.5 225.8 147.3 216.8 146.8 210.4 145.5 209.6 144.8 209.7 143.2 209.2 142.7 199.5 143.6 197.2 142.7 196.3 141.0 196.1 134.2 195.0 126.8 195.0 116.3 197.6 141.8 199.5 142.7 207.0 141.8 213.0 141.7 214.2 141.0 214.5 139.8 215.2 140.1 216.0 139.7 218.6 134.2 218.5 131.2 217.5 129.6 216.0 128.5 216.8 123.3 220.5 124.8 225.0 125.4 228.8 127.3 230.2 126.5 233.7 123.0 233.9 122.2 233.2 121.2 228.0 121.5 227.2 120.7 225.5 115.5 223.5 113.7 223.5 113.2 226.4 109.5 228.2 108.8 229.3 108.8 230.0 110.2 231.0 110.7 234.0 110.2 235.2 108.8 235.4 105.0 241.5 101.4 247.5 92.4 248.2 92.6 249.8 95.3 253.8 109.5 253.5 114.8 254.0 117.8 255.3 120.8 257.4 123.8 261.0 126.4 264.8 127.0 270.0 125.5 274.4 122.2 276.4 118.5 276.6 114.8 274.6 101.2 272.1 93.0 269.2 86.2 264.5 78.8 261.2 76.5 256.4 75.8 258.8 74.0 261.0 70.5 266.2 65.9 270.0 63.5 270.6 64.5 270.9 66.8 271.5 67.4 273.0 67.6 282.0 65.4 282.7 63.8 283.5 63.4 289.5 62.3 291.4 61.5 292.1 49.5 294.8 47.4 295.7 45.8 296.1 43.5 299.6 41.2 301.3 38.2 301.4 34.5 300.6 32.2 298.8 30.0 299.2 30.0ZM236.8 113.2 236.7 114.0 237.0 114.8 237.0 112.6 236.8 113.2ZM228.9 132.8 227.7 135.0 227.8 137.2 229.5 138.1 234.0 138.6 235.5 139.9 236.0 134.2 231.0 132.3 229.5 132.3 228.9 132.8ZM235.4 141.8 232.5 144.5 230.8 147.0 235.5 148.2 235.4 141.8ZM294.8 78.3 295.2 79.5 294.8 81.5 294.7 79.5 294.8 78.3ZM306.0 82.1 306.0 85.7 304.7 87.0 303.8 87.2 303.4 86.2 306.0 82.1ZM279.8 92.9 282.0 92.5 283.0 93.0 283.1 93.8 282.0 94.7 279.0 95.3 278.3 94.5 278.5 93.8 279.8 92.9ZM243.0 111.0 243.1 111.8 243.0 112.5 242.9 111.8 243.0 111.0ZM291.7 111.7 294.0 112.2 295.4 114.8 295.5 117.0 294.0 118.9 291.0 118.4 289.1 117.0 288.1 115.5 288.1 114.8 289.1 113.2 291.7 111.7ZM290.2 131.1 292.5 131.0 294.0 132.8 295.0 136.5 294.2 138.0 291.8 138.5 290.2 137.8 289.1 136.5 288.6 133.5 289.3 132.0 290.2 131.1ZM296.2 138.6 298.5 139.1 300.7 141.0 301.9 143.2 302.8 147.8 306.3 150.0 294.2 150.0 291.2 144.8 290.8 143.2 291.8 141.8 294.0 140.7 296.2 138.6Z" fill="#83a6fb" stroke="#83a6fb" stroke-width="0.3" fill-rule="evenodd"/><path d="M270.8 30.7 275.3 30.0 286.0 30.0 275.2 30.8 266.9 32.2 264.0 34.5 262.5 38.1 258.8 38.9 234.2 51.7 219.0 58.6 210.8 72.0 207.2 78.8 201.3 87.0 195.0 97.3 195.0 95.3 196.3 93.0 201.1 85.5 206.3 78.5 218.2 58.0 234.0 50.8 258.8 37.8 261.8 37.1 263.5 33.8 265.1 32.2 267.8 31.1 270.8 30.7ZM298.5 30.0 300.1 31.5 301.2 33.8 301.5 36.0 301.3 38.2 299.6 41.2 296.1 43.5 295.7 45.8 294.8 47.4 292.1 49.5 291.4 61.5 289.5 62.3 283.5 63.4 282.7 63.8 282.0 65.4 273.0 67.6 271.5 67.4 270.9 66.8 270.6 64.5 270.0 63.5 266.2 65.9 261.0 70.5 258.8 74.0 256.4 75.8 261.2 76.5 264.5 78.8 269.2 86.2 272.1 93.0 274.6 101.2 276.6 114.8 276.4 118.5 274.4 122.2 270.0 125.5 264.8 127.0 261.0 126.4 257.4 123.8 255.3 120.8 254.0 117.8 253.5 114.8 253.8 109.5 249.8 95.3 248.2 92.6 247.5 92.4 241.5 101.4 235.4 105.0 235.2 108.8 234.0 110.2 231.0 110.7 230.0 110.2 229.3 108.8 228.2 108.8 226.4 109.5 223.4 113.2 225.5 115.5 227.3 120.8 228.8 121.7 233.2 121.2 233.9 122.2 233.1 123.8 228.8 127.3 225.0 125.4 220.5 124.8 216.8 123.3 216.0 128.5 218.2 130.5 218.8 132.8 218.1 135.8 216.0 139.7 215.2 140.1 214.5 139.8 214.2 141.0 212.2 142.0 207.8 141.7 199.5 142.7 198.0 142.2 197.1 140.2 197.1 135.0 195.0 116.3 195.0 109.7 198.4 141.0 199.5 141.7 207.8 140.8 212.2 141.0 213.1 140.2 214.6 134.2 215.3 126.0 216.4 120.8 220.3 116.2 225.6 108.8 232.3 105.8 240.8 100.7 248.2 90.1 250.3 93.0 251.3 95.2 255.4 109.5 255.3 117.0 256.1 119.2 258.0 122.2 261.0 124.8 264.8 125.6 269.2 124.3 273.0 121.5 274.5 119.2 275.2 117.0 274.4 107.2 272.6 99.8 268.6 88.5 264.8 81.2 262.5 78.7 258.8 77.5 254.2 78.3 253.7 78.0 254.7 75.8 257.9 73.5 260.2 69.9 266.2 64.6 275.2 59.7 285.0 53.0 288.0 49.3 291.8 48.7 293.8 47.2 294.8 45.8 295.5 42.7 298.5 41.2 300.4 38.2 300.6 34.5 299.7 32.2 297.8 30.0 298.5 30.0ZM279.5 58.5 277.2 59.2 272.0 62.2 271.6 66.0 272.2 66.5 276.0 65.9 282.0 64.3 282.8 63.2 290.3 61.5 290.2 58.1 288.8 59.8 287.2 60.4 282.8 58.7 279.5 58.5ZM241.5 72.0 242.2 71.7 243.1 72.0 245.6 73.5 245.9 74.2 243.0 73.5 240.8 73.7 241.5 72.0ZM237.8 79.1 240.8 83.3 240.8 83.7 237.8 86.1 236.2 86.4 234.8 86.1 237.8 79.1ZM224.2 98.9 228.0 100.4 228.5 101.2 228.6 102.8 223.5 108.8 220.5 108.9 218.9 107.2 218.7 105.0 224.2 98.9ZM237.0 112.6 237.0 114.0 237.0 114.8 236.7 114.0 237.0 112.6ZM229.5 132.3 231.0 132.3 236.0 134.2 235.5 139.9 234.0 138.6 229.5 138.1 227.8 137.2 227.7 135.0 229.5 132.3ZM235.5 141.5 235.5 148.2 230.8 147.0 232.5 144.5 235.5 141.5Z" fill="#aac7fd" stroke="#aac7fd" stroke-width="0.3" fill-rule="evenodd"/><path d="M276.0 30.7 289.4 30.0 284.2 31.0 275.2 31.7 267.0 33.1 264.5 35.2 263.2 39.1 259.5 39.6 235.5 52.4 226.5 56.7 219.7 59.2 211.5 72.6 209.0 78.0 202.5 87.0 195.0 99.1 195.0 97.3 197.2 93.4 207.2 78.8 210.8 72.0 219.0 58.6 234.2 51.8 258.8 38.9 262.5 38.1 264.0 34.5 266.2 32.5 268.5 31.8 276.0 30.7ZM297.0 30.0 297.8 30.0 298.5 30.7 300.1 33.0 300.7 35.2 300.6 37.5 299.2 40.5 297.8 41.8 295.5 42.8 294.8 45.8 293.8 47.2 291.8 48.7 288.0 49.3 285.0 53.0 275.2 59.7 266.2 64.6 260.2 69.9 257.9 73.5 254.7 75.8 253.7 78.0 254.2 78.3 258.8 77.5 262.5 78.7 264.8 81.2 268.6 88.5 272.6 99.8 274.4 107.2 275.2 117.0 274.5 119.2 273.0 121.5 269.2 124.3 264.8 125.6 261.0 124.8 258.0 122.2 256.1 119.2 255.3 117.0 255.4 109.5 251.3 95.2 250.3 93.0 248.2 90.1 240.8 100.7 232.3 105.8 225.6 108.8 220.3 116.2 216.4 120.8 215.3 126.0 214.7 133.5 213.0 140.5 212.2 141.0 207.8 140.8 199.5 141.7 198.8 141.4 198.2 140.2 198.0 134.2 195.0 109.7 195.0 104.2 196.9 116.2 199.2 140.2 200.2 140.8 204.4 140.2 207.0 139.3 210.0 137.4 211.0 139.5 212.2 139.5 213.9 132.8 214.2 126.0 215.4 120.8 222.0 111.8 221.2 111.2 218.2 110.7 216.8 109.2 215.4 104.2 216.0 101.8 217.2 99.8 219.0 98.3 220.5 97.9 222.8 98.6 225.0 97.2 227.5 94.5 233.4 86.2 234.1 84.8 233.4 81.8 233.1 72.8 236.8 68.2 244.9 72.0 247.5 73.5 248.0 74.2 246.8 76.1 243.8 74.5 242.2 74.3 240.8 74.6 239.2 75.8 238.6 77.2 238.8 79.5 242.6 84.0 242.4 84.8 234.4 96.8 228.7 103.5 227.0 106.5 228.0 106.6 231.6 105.0 240.0 99.9 248.2 88.5 249.6 89.2 252.5 94.5 255.0 104.2 257.0 109.5 256.9 117.0 258.8 121.0 261.8 123.5 264.8 124.1 268.5 123.0 272.2 120.0 273.8 116.2 273.8 112.5 273.0 106.5 269.3 93.8 263.9 82.5 262.2 80.2 259.5 79.0 256.5 79.1 252.8 80.8 251.5 80.2 251.6 79.5 253.9 75.0 257.2 72.9 259.5 69.2 264.8 64.5 263.9 63.8 263.3 62.2 264.0 60.1 264.8 59.4 265.5 59.3 266.3 60.0 266.6 62.2 267.8 62.3 273.0 59.5 280.3 54.8 280.6 54.0 280.2 53.2 280.3 51.8 281.5 49.5 283.5 49.1 285.8 49.8 286.5 49.5 286.7 48.8 291.0 48.0 293.2 46.6 294.1 45.0 294.2 42.8 298.1 40.5 299.8 37.5 299.6 33.8 298.3 31.5 296.5 30.0 297.0 30.0ZM241.5 72.0 240.8 73.7 243.0 73.5 245.9 74.2 245.6 73.5 243.0 71.9 241.5 72.0ZM237.4 79.5 234.7 85.5 234.7 86.1 236.2 86.4 237.8 86.1 240.8 83.7 240.8 83.2 237.8 79.1 237.4 79.5ZM224.2 99.0 218.7 105.0 218.9 107.2 220.5 108.9 223.5 108.8 228.6 102.8 228.5 101.2 228.0 100.4 225.1 99.0 224.2 99.0ZM241.5 51.6 243.8 51.0 246.8 52.5 248.2 54.4 250.3 59.2 246.0 58.0 240.0 54.3 238.0 54.0 241.5 51.6ZM279.8 58.5 282.8 58.7 287.2 60.4 288.8 59.8 290.2 58.1 290.3 61.5 282.8 63.2 282.0 64.3 276.0 65.9 272.2 66.5 271.6 66.0 272.0 62.2 277.5 59.1 279.8 58.5ZM221.2 68.1 223.2 68.2 224.5 69.8 224.2 71.9 226.5 70.7 228.8 70.5 231.2 72.0 231.5 73.5 229.0 75.8 226.5 76.9 224.2 76.7 222.7 75.2 222.0 75.6 218.4 81.0 213.8 91.0 213.0 91.7 211.5 91.8 210.0 90.7 209.5 89.2 212.6 84.0 219.6 69.8 221.2 68.1Z" fill="#ced9ec" stroke="#ced9ec" stroke-width="0.3" fill-rule="evenodd"/><path d="M286.5 30.7 289.4 30.0 293.7 30.0 284.2 31.8 268.5 33.5 266.3 34.5 265.1 36.0 264.5 38.2 264.9 40.5 266.4 42.8 265.5 43.4 261.0 43.7 259.5 44.5 258.7 45.8 258.5 47.2 259.4 49.5 261.0 50.7 267.0 50.6 279.8 48.3 290.2 47.3 291.8 46.8 292.8 45.8 293.4 44.2 292.9 42.0 297.0 40.5 298.4 39.0 299.2 36.8 299.1 34.5 298.0 32.2 296.2 30.7 294.1 30.0 296.5 30.0 299.3 33.0 300.0 36.8 298.8 39.8 297.2 41.2 294.2 42.8 293.8 45.8 291.8 47.7 287.2 48.5 285.8 49.8 283.5 49.1 281.5 49.5 280.3 51.8 280.2 53.2 280.6 54.0 280.3 54.8 271.5 60.4 267.0 62.4 266.6 62.2 266.2 59.9 265.5 59.3 264.8 59.4 264.0 60.1 263.3 62.2 263.9 63.8 264.8 64.5 259.5 69.2 257.2 72.9 253.9 75.0 251.5 80.2 252.7 80.8 256.5 79.1 259.5 79.0 262.2 80.2 263.9 82.5 269.3 93.8 273.0 106.5 273.8 112.5 273.8 116.2 272.2 120.0 268.5 123.0 264.8 124.1 261.8 123.5 258.8 121.0 256.9 117.0 257.0 109.5 255.0 104.2 252.5 94.5 249.6 89.2 248.2 88.5 240.0 99.9 231.6 105.0 228.0 106.6 227.0 106.5 228.7 103.5 234.4 96.8 242.4 84.8 242.6 84.0 238.8 79.5 238.6 77.2 239.2 75.8 240.8 74.6 242.2 74.3 243.8 74.5 246.8 76.1 248.0 74.2 247.5 73.5 244.9 72.0 236.8 68.2 233.1 72.8 233.4 81.8 234.1 84.8 233.4 86.2 227.5 94.5 225.0 97.2 222.8 98.6 220.5 97.9 219.0 98.3 217.2 99.8 216.0 101.8 215.4 104.2 216.8 109.2 218.2 110.7 221.2 111.2 222.0 111.7 215.4 120.8 214.2 126.0 213.9 132.8 212.2 139.5 211.0 139.5 210.0 137.4 207.0 139.3 204.4 140.2 199.5 140.6 197.7 126.0 196.9 116.2 195.0 104.2 195.0 99.1 202.5 87.0 209.0 78.0 211.4 72.8 219.0 60.0 219.8 59.2 226.5 56.7 235.5 52.4 258.8 40.0 263.2 39.1 264.5 35.2 267.0 33.1 275.2 31.7 286.5 30.7ZM241.2 51.8 238.0 54.0 240.0 54.3 246.0 58.0 250.3 59.2 248.2 54.4 246.8 52.5 243.8 51.0 241.2 51.8ZM235.7 55.5 233.2 57.2 232.0 60.0 232.2 63.0 234.0 65.6 250.5 74.0 254.2 73.8 257.2 71.4 258.3 69.0 258.2 66.8 257.2 64.6 255.8 63.1 245.1 58.5 239.7 55.5 237.8 55.1 235.7 55.5ZM219.4 62.2 218.9 63.8 219.3 65.2 220.5 66.3 221.8 66.0 222.5 64.5 222.1 63.0 220.5 61.8 219.4 62.2ZM221.0 68.2 218.8 71.2 212.6 84.0 209.5 89.2 210.0 90.7 211.5 91.8 213.0 91.7 213.8 91.0 218.4 81.0 222.0 75.6 222.8 75.2 224.2 76.7 226.5 76.9 229.0 75.8 231.5 73.5 231.2 72.0 228.8 70.5 226.5 70.7 224.2 71.9 224.5 69.8 223.5 68.5 222.8 68.0 221.0 68.2ZM240.3 75.8 239.2 78.0 240.0 80.1 246.8 86.5 250.9 88.5 253.1 92.2 256.2 103.5 258.3 108.8 258.7 111.8 258.5 117.0 259.3 119.2 261.0 121.3 263.2 122.5 265.5 122.5 268.5 121.4 270.9 119.2 272.1 117.0 272.4 112.5 271.8 107.2 268.2 94.5 262.5 83.0 261.0 81.3 258.8 80.4 256.5 80.6 252.8 82.2 247.5 77.8 243.8 75.4 242.2 75.0 240.3 75.8ZM219.7 82.5 220.5 83.5 222.0 83.7 222.5 83.2 221.2 82.4 219.7 82.5ZM205.6 91.5 203.7 93.0 203.1 95.2 204.4 102.0 206.2 108.0 205.8 111.0 207.0 113.2 208.5 114.5 210.8 115.6 213.0 115.7 215.2 113.3 216.0 110.2 211.7 95.2 210.9 93.0 210.0 92.1 207.8 91.2 205.6 91.5ZM201.0 115.5 198.8 117.6 198.0 120.0 200.0 135.0 200.6 136.5 201.8 138.0 203.2 138.7 205.5 138.7 207.2 138.0 208.9 136.5 210.1 133.5 208.0 118.5 206.6 116.2 204.8 115.2 202.5 115.0 201.0 115.5Z" fill="#ead4c8" stroke="#ead4c8" stroke-width="0.3" fill-rule="evenodd"/><path d="M289.5 30.7 293.2 30.0 295.5 30.3 298.0 32.2 299.2 35.2 299.1 37.5 297.8 39.8 296.2 40.9 292.9 42.0 293.4 44.2 292.8 45.8 291.8 46.8 266.2 50.7 261.0 50.7 258.9 48.8 258.5 46.5 259.8 44.2 261.0 43.7 266.2 43.1 266.4 42.8 264.9 40.5 264.5 38.2 265.1 36.0 267.0 34.0 269.2 33.4 284.2 31.8 289.5 30.7ZM289.6 31.5 268.1 34.5 266.8 35.2 265.7 36.8 265.3 38.2 265.7 40.5 267.7 42.8 270.0 43.4 284.2 42.4 294.8 40.7 297.0 39.5 298.0 38.2 298.5 36.0 298.1 33.8 297.1 32.2 295.5 31.1 294.0 30.8 289.6 31.5ZM236.3 55.3 238.5 55.2 240.0 55.6 244.5 58.2 255.0 62.7 256.5 63.7 257.6 65.2 258.3 67.5 258.1 69.8 256.8 72.0 254.2 73.8 250.5 74.0 234.0 65.6 232.2 63.0 232.0 60.0 233.4 57.0 236.3 55.3ZM236.2 56.2 233.9 57.8 232.8 60.0 233.1 63.0 234.8 65.1 250.5 73.0 253.5 73.1 256.2 71.2 257.1 69.8 257.4 67.5 257.0 66.0 255.8 64.3 239.2 56.3 236.2 56.2ZM219.8 61.8 221.2 62.1 222.4 63.8 222.4 65.2 221.3 66.3 219.8 65.9 219.0 64.6 219.0 63.0 219.8 61.8ZM240.8 75.4 242.2 75.0 243.8 75.4 247.5 77.8 252.8 82.2 256.5 80.6 258.8 80.4 261.0 81.3 262.5 83.0 268.2 94.5 271.8 107.2 272.4 112.5 272.1 117.0 270.9 119.2 268.5 121.4 265.5 122.5 263.2 122.5 261.0 121.3 259.3 119.3 258.5 117.0 258.7 111.7 258.3 108.8 256.2 103.5 253.1 92.2 250.9 88.5 246.8 86.5 240.0 80.1 239.3 78.8 239.3 77.2 240.8 75.4ZM242.2 75.8 240.8 76.3 240.0 77.6 240.5 79.5 243.8 82.9 247.9 86.2 249.8 87.4 252.3 87.8 254.2 91.5 257.4 102.8 259.9 109.5 260.0 117.0 260.5 118.5 261.8 120.1 263.2 120.9 265.5 121.0 267.8 120.2 269.6 118.5 270.6 116.2 271.0 112.5 270.5 107.2 267.2 95.2 262.7 87.8 261.2 84.0 259.9 82.5 258.0 81.9 255.8 82.3 253.5 83.8 246.6 78.0 242.2 75.8ZM219.7 82.4 221.2 82.4 222.5 83.2 222.0 83.7 220.5 83.5 219.9 83.2 219.7 82.4ZM206.2 91.3 208.9 91.5 210.9 93.0 215.9 109.5 215.7 112.5 214.5 114.4 213.0 115.7 210.8 115.6 208.5 114.5 207.0 113.2 205.8 111.0 206.2 108.0 204.4 102.0 203.1 95.2 204.0 92.7 206.2 91.3ZM209.1 93.8 207.9 95.2 204.8 96.9 204.7 98.2 208.4 111.8 210.0 113.4 212.2 113.9 214.5 112.5 215.0 110.2 210.8 96.1 210.0 94.1 209.1 93.8ZM201.0 115.5 202.5 115.0 204.8 115.2 206.6 116.2 208.0 118.5 210.1 133.5 208.9 136.5 207.2 138.0 205.5 138.7 203.2 138.7 201.8 138.0 200.6 136.5 200.0 135.0 198.0 120.0 198.8 117.6 201.0 115.5ZM201.4 116.2 199.6 117.8 198.8 120.0 200.9 135.0 202.5 137.4 204.0 137.9 205.5 137.9 207.8 136.5 208.8 135.0 209.2 133.5 207.3 119.2 206.2 117.2 205.0 116.2 203.2 115.8 201.4 116.2Z" fill="#f7b89c" stroke="#f7b89c" stroke-width="0.3" fill-rule="evenodd"/><path d="M290.2 31.3 294.8 30.9 296.2 31.6 297.6 33.0 298.3 34.5 298.5 36.8 298.0 38.2 296.7 39.8 294.8 40.7 284.2 42.4 270.0 43.4 268.5 43.1 267.0 42.2 265.5 39.8 265.7 36.8 266.8 35.2 268.5 34.4 284.2 32.5 290.2 31.3ZM289.7 32.2 268.5 35.2 266.6 36.8 266.1 38.2 266.3 39.8 267.8 41.8 270.0 42.6 285.0 41.3 294.8 39.9 296.5 39.0 297.5 37.5 297.8 36.0 297.3 33.8 296.2 32.5 294.0 31.6 289.7 32.2ZM236.2 56.2 239.2 56.3 255.8 64.3 257.0 66.0 257.4 67.5 257.1 69.8 256.2 71.2 253.5 73.1 250.5 73.0 234.8 65.1 233.1 63.0 232.8 60.0 234.0 57.6 236.2 56.2ZM236.7 57.0 234.8 58.1 233.7 60.0 233.8 62.2 235.4 64.5 251.2 72.3 253.5 72.1 255.6 70.5 256.4 67.5 255.0 64.9 239.2 57.2 236.7 57.0ZM242.3 75.7 246.6 78.0 253.5 83.8 255.8 82.3 258.0 81.9 259.9 82.5 261.2 84.0 262.7 87.8 267.2 95.2 270.5 107.2 271.0 112.5 270.6 116.2 269.6 118.5 267.8 120.2 265.5 121.0 263.2 120.9 261.8 120.1 260.5 118.5 260.0 117.0 259.9 109.5 257.4 102.8 254.2 91.5 252.3 87.8 249.8 87.4 247.9 86.2 243.8 82.9 240.5 79.5 240.0 77.6 240.8 76.3 242.3 75.7ZM245.1 78.0 243.8 80.2 243.7 81.8 248.2 85.5 249.6 85.5 248.7 81.0 245.1 78.0ZM255.4 84.0 254.0 85.5 253.9 87.8 255.5 90.8 257.4 97.5 257.8 101.2 261.7 112.5 261.5 117.0 262.3 118.5 263.2 119.2 264.8 119.6 266.2 119.3 267.8 118.4 268.8 117.0 269.4 112.5 269.0 107.2 266.2 96.0 264.8 93.3 261.6 89.2 259.5 84.4 257.2 83.4 255.4 84.0ZM209.2 93.6 210.0 94.1 210.8 96.1 215.0 110.2 214.5 112.5 212.2 113.9 210.0 113.4 208.4 111.8 204.7 98.2 204.8 96.9 207.9 95.2 209.2 93.6ZM201.8 116.1 204.0 115.9 205.5 116.5 206.7 117.8 207.3 119.2 209.2 133.5 208.8 135.0 207.8 136.5 205.5 137.9 204.0 137.9 202.5 137.4 200.9 135.0 198.8 120.0 199.6 117.8 201.8 116.1ZM201.6 117.0 200.2 118.1 199.6 120.0 201.6 134.2 202.8 136.5 204.0 137.1 205.5 137.0 207.5 135.8 208.3 133.5 206.6 120.0 206.1 118.5 204.8 117.1 203.2 116.7 201.6 117.0Z" fill="#f18e70" stroke="#f18e70" stroke-width="0.3" fill-rule="evenodd"/><path d="M290.2 32.1 294.0 31.6 295.5 32.0 296.7 33.0 297.8 36.0 297.5 37.5 296.5 39.0 294.8 39.9 285.0 41.3 270.0 42.6 267.8 41.8 266.3 39.8 266.1 38.2 266.6 36.8 268.5 35.2 290.2 32.1ZM289.8 33.0 269.2 35.9 267.2 37.5 267.1 39.8 268.3 41.2 270.0 41.8 291.8 39.7 294.8 39.2 296.2 38.2 297.0 36.8 297.1 35.2 295.7 33.0 294.0 32.4 289.8 33.0ZM237.0 56.9 239.2 57.2 255.0 64.9 256.4 67.5 255.6 70.5 253.5 72.1 251.2 72.3 235.4 64.5 233.8 62.2 233.7 60.0 234.8 58.1 237.0 56.9ZM237.6 57.8 235.6 58.5 234.6 60.0 234.7 62.2 235.9 63.8 251.2 71.3 253.5 71.1 255.0 69.8 255.4 67.5 254.2 65.5 239.2 58.1 237.6 57.8ZM245.2 78.0 248.7 81.0 249.6 85.5 248.2 85.5 243.7 81.8 243.8 80.2 245.2 78.0ZM255.8 83.8 258.0 83.5 259.5 84.4 261.6 89.2 264.8 93.3 266.2 96.0 269.0 107.2 269.4 112.5 268.8 117.0 267.8 118.4 266.2 119.3 264.8 119.6 263.2 119.2 262.3 118.5 261.5 117.0 261.7 112.5 257.8 101.2 257.4 97.5 256.0 92.2 253.8 87.0 254.0 85.5 255.8 83.8ZM262.2 95.2 259.5 96.0 258.8 96.8 258.0 98.3 258.0 99.8 262.7 113.2 264.0 114.5 265.5 114.7 267.1 114.0 268.0 112.5 266.2 105.8 266.3 101.2 264.8 95.9 264.0 95.1 262.2 95.2ZM201.8 116.9 203.2 116.7 204.8 117.1 206.1 118.5 206.6 120.0 208.3 133.5 207.5 135.8 205.5 137.0 204.0 137.1 202.8 136.5 201.6 134.2 199.6 120.0 200.2 118.1 201.8 116.9ZM201.9 117.8 200.5 119.3 200.3 120.8 202.4 134.2 203.2 135.8 204.0 136.2 205.5 136.1 207.0 135.1 207.4 133.5 205.9 120.8 204.8 118.1 203.2 117.5 201.9 117.8Z" fill="#da5948" stroke="#da5948" stroke-width="0.3" fill-rule="evenodd"/><path d="M290.2 32.9 294.0 32.4 295.7 33.0 297.1 35.3 297.0 36.8 296.2 38.2 294.8 39.2 291.8 39.7 270.0 41.8 268.3 41.2 267.1 39.8 267.2 37.5 269.2 35.9 290.2 32.9ZM289.9 33.8 269.5 36.8 268.2 37.5 267.8 39.0 268.5 40.5 269.2 40.7 274.5 40.5 291.4 39.0 294.8 38.4 295.9 37.5 296.3 35.2 295.4 33.8 294.0 33.2 289.9 33.8ZM237.8 57.7 254.2 65.5 255.4 67.5 255.0 69.8 253.5 71.1 251.2 71.3 235.9 63.8 234.7 62.3 234.6 60.0 235.6 58.5 237.8 57.7ZM236.2 59.2 235.4 60.8 235.5 61.8 236.7 63.0 237.7 63.0 237.1 59.2 236.2 59.2ZM254.1 69.0 254.3 69.0 254.2 68.7 254.1 69.0ZM262.5 95.2 264.0 95.1 264.8 96.0 266.3 101.2 266.2 105.8 268.0 111.8 267.1 114.0 265.5 114.7 264.0 114.5 262.7 113.2 258.0 99.8 258.0 98.2 258.8 96.8 259.5 96.0 262.5 95.2ZM260.0 96.8 259.0 97.5 258.5 99.0 259.7 103.5 263.2 112.8 264.4 114.0 265.5 114.1 267.0 113.1 267.3 111.8 263.4 98.2 261.8 96.6 260.0 96.8ZM202.5 117.5 204.2 117.7 205.6 119.2 207.2 129.8 207.4 134.2 206.2 135.9 204.8 136.3 203.2 135.8 202.7 135.0 200.5 123.0 200.5 119.2 201.0 118.4 202.5 117.5ZM201.6 121.5 201.7 125.2 202.5 127.3 205.5 128.1 205.5 123.0 204.8 121.3 202.5 120.8 201.8 121.0 201.6 121.5Z" fill="#b40426" stroke="#b40426" stroke-width="0.3" fill-rule="evenodd"/><path d="M290.2 33.7 294.0 33.2 295.4 33.8 296.3 35.2 295.9 37.5 294.8 38.4 291.4 39.0 274.5 40.5 269.2 40.7 268.5 40.5 267.8 39.0 268.2 37.5 269.5 36.8 290.2 33.7ZM236.2 59.2 237.1 59.2 237.7 63.0 236.7 63.0 235.5 61.8 235.5 60.3 236.2 59.2ZM254.2 68.7 254.3 69.0 254.3 69.0 254.1 69.0 254.2 68.7ZM260.2 96.6 261.8 96.6 263.0 97.5 264.1 100.5 267.3 111.8 267.0 113.1 265.5 114.1 264.4 114.0 263.2 112.8 259.0 101.2 258.6 98.2 260.2 96.6ZM201.8 121.0 203.2 120.8 204.8 121.3 205.5 123.0 205.5 128.1 202.5 127.3 201.7 125.2 201.8 121.0Z" fill="#b40426" stroke="#b40426" stroke-width="0.3" fill-rule="evenodd"/></g>
<g clip-path="url(#gb)" stroke="#bdbdbd" stroke-width="0.5" fill="none" stroke-opacity="0.8"><circle cx="311.5" cy="148.2" r="48"/><circle cx="311.5" cy="148.2" r="96.5"/><circle cx="311.5" cy="148.2" r="146"/><line x1="311.5" y1="148.2" x2="94.99" y2="273.2"/><line x1="311.5" y1="148.2" x2="94.99" y2="23.2"/><line x1="311.5" y1="148.2" x2="311.5" y2="-101.8"/></g>
<polyline points="240.5,102.5 243.1,107.6 241.8,112.8 245.7,118 249.5,121.8 254.7,120.5 262.5,121.8 270.2,123.1 278,125.7 285.7,128.3 289.6,132.2 293.4,136 290.9,138.6 287,137.3 284.4,133.4" fill="none" stroke="#222" stroke-width="0.6" stroke-linejoin="round" stroke-linecap="round"/>
<polyline points="293.4,136 297.3,128.3 298.6,118 299.9,107.6 299.9,99.9 302.5,92.1 303.8,89.5 309,89 311.5,89.5 314,88" fill="none" stroke="#222" stroke-width="0.6" stroke-linejoin="round" stroke-linecap="round"/>
<polyline points="249.5,121.8 250.8,124.4 253.4,127 256,130.9 259.9,133.4 265,134.7 270.2,136 274.1,138.6 276.7,139.9 281,141" fill="none" stroke="#222" stroke-width="0.6" stroke-linejoin="round" stroke-linecap="round"/>
<polyline points="262.5,138.6 260.5,142.5 258.6,146.4 257.5,150" fill="none" stroke="#222" stroke-width="0.5" stroke-linejoin="round" stroke-linecap="round"/>
<polyline points="284.4,123 288.5,123.5 290.9,127 289.5,130.9 286,130 284.4,126 284.4,123" fill="none" stroke="#222" stroke-width="0.5" stroke-linejoin="round" stroke-linecap="round"/>
<polyline points="292.92,42.68 291.82,44.13 292,45.04 290.95,46.59 289.86,47.5 288.49,49.59 288.38,51.28 287.89,51.8 286.57,53.49 285.19,54.4 283.79,54.77 281.95,56.37 281.02,56.27 279.9,56.94 278.44,57.69 276.93,58.58 274.66,59.59 273.35,60.72 272.43,61.43 271.02,61.85 269.56,63.07 268.05,63.16 266.34,64.07 264.98,65.53 263.39,65.22 262.55,66.97 261.43,67.54 260.1,68.9 259.58,69.82 258.07,71.09 257.65,72.97 256.45,75.2 256.47,75.72 255.52,77.34 255.28,79.17 254.7,80.67 253.44,81.62 252.95,83.32 252.76,84.13 251.84,86.27 251.52,87.01 250.63,89.04 249.51,91.12 248.51,91.85 248.29,93.55 247.31,95.47 247.11,96.82 246.03,97.86 244.35,100.03 243.5,101.42 242.88,102.1 241.94,103.74 241.06,105.58 240.65,106.53 239.5,108.1 240.1,110.2 240.83,110.52 241.44,111.77 241.81,113.47 241.63,115.95 242,116.82 242.73,118.3 242.09,121.13 242.6,122.46 243.48,124.06 243,125.87 242.67,127.97 242.63,129.39 242.32,130.81 241.16,132.35 241.12,134.97 240.3,135.41 239.52,137.96 239.44,139.37 239.31,141.19 238.6,142.4" fill="none" stroke="#96f0ec" stroke-width="1.5" stroke-linejoin="round" stroke-linecap="round"/><rect x="271.6" y="43.2" width="2" height="2" fill="#fff"/><rect x="269.7" y="48.5" width="2" height="2" fill="#fff"/><rect x="267.4" y="53.8" width="2" height="2" fill="#fff"/><rect x="264" y="58.8" width="2" height="2" fill="#fff"/><rect x="260.5" y="64.6" width="2" height="2" fill="#fff"/><rect x="258.2" y="70.3" width="2" height="2" fill="#fff"/><rect x="256.4" y="76" width="2" height="2" fill="#fff"/><rect x="255.5" y="81.8" width="2" height="2" fill="#fff"/><rect x="255.5" y="87.5" width="2" height="2" fill="#fff"/><rect x="256" y="93.2" width="2" height="2" fill="#fff"/><rect x="256.4" y="99" width="2" height="2" fill="#fff"/><rect x="257.1" y="104.7" width="2" height="2" fill="#fff"/><rect x="257.8" y="110.5" width="2" height="2" fill="#fff"/><rect x="258.2" y="115" width="2" height="2" fill="#fff"/><rect x="259.4" y="120.8" width="2" height="2" fill="#fff"/><rect x="261.7" y="126.5" width="2" height="2" fill="#fff"/><rect x="264" y="131.1" width="2" height="2" fill="#fff"/><rect x="267.4" y="135.7" width="2" height="2" fill="#fff"/>
<path d="M313.15 41.2 L315.85 35.9 L318.55 41.2 Z" fill="#b40426"/>
<path d="M313.15 144.1 L315.85 149.7 L318.55 144.1 Z" fill="#3b4cc0"/>
<rect x="313.15" y="41.2" width="5.4" height="10.89" fill="#b40426"/>
<rect x="313.15" y="51.49" width="5.4" height="10.89" fill="#da5948"/>
<rect x="313.15" y="61.78" width="5.4" height="10.89" fill="#f18e70"/>
<rect x="313.15" y="72.07" width="5.4" height="10.89" fill="#f7b89c"/>
<rect x="313.15" y="82.36" width="5.4" height="10.89" fill="#ead4c8"/>
<rect x="313.15" y="92.65" width="5.4" height="10.89" fill="#ced9ec"/>
<rect x="313.15" y="102.94" width="5.4" height="10.89" fill="#aac7fd"/>
<rect x="313.15" y="113.23" width="5.4" height="10.89" fill="#83a6fb"/>
<rect x="313.15" y="123.52" width="5.4" height="10.89" fill="#5d7ce6"/>
<rect x="313.15" y="133.81" width="5.4" height="10.29" fill="#3b4cc0"/>
<path d="M313.15 41.2 L315.85 35.9 L318.55 41.2 L318.55 144.1 L315.85 149.7 L313.15 144.1 Z" fill="none" stroke="#444" stroke-width="0.5"/>
<line x1="318.55" y1="41.2" x2="321.15" y2="41.2" stroke="#333" stroke-width="0.9"/>
<text x="323.95" y="45.05" font-size="8.5" fill="#262626" stroke="#262626" stroke-width="0.1">206</text>
<line x1="318.55" y1="61.78" x2="321.15" y2="61.78" stroke="#333" stroke-width="0.9"/>
<text x="323.95" y="65.63" font-size="8.5" fill="#262626" stroke="#262626" stroke-width="0.1">165</text>
<line x1="318.55" y1="82.36" x2="321.15" y2="82.36" stroke="#333" stroke-width="0.9"/>
<text x="323.95" y="86.21" font-size="8.5" fill="#262626" stroke="#262626" stroke-width="0.1">124</text>
<line x1="318.55" y1="102.94" x2="321.15" y2="102.94" stroke="#333" stroke-width="0.9"/>
<text x="323.95" y="106.79" font-size="8.5" fill="#262626" stroke="#262626" stroke-width="0.1">84</text>
<line x1="318.55" y1="123.52" x2="321.15" y2="123.52" stroke="#333" stroke-width="0.9"/>
<text x="323.95" y="127.37" font-size="8.5" fill="#262626" stroke="#262626" stroke-width="0.1">43</text>
<line x1="318.55" y1="144.1" x2="321.15" y2="144.1" stroke="#333" stroke-width="0.9"/>
<text x="323.95" y="147.95" font-size="8.5" fill="#262626" stroke="#262626" stroke-width="0.1">2</text>
<text x="255.3" y="24.3" font-size="10.9" text-anchor="middle" textLength="64.8" lengthAdjust="spacingAndGlyphs" fill="#1e1e1e" stroke="#1e1e1e" stroke-width="0.1">Oct 24, 2021</text>
<text x="201.1" y="33.7" font-size="9" textLength="8.2" lengthAdjust="spacingAndGlyphs" fill="#1e1e1e" stroke="#1e1e1e" stroke-width="0.1">b)</text>
<g clip-path="url(#cc)"><path d="M340.8 25.0 342.3 25.0 342.7 30.2 341.7 31.8 340.0 32.3 340.0 25.0 340.8 25.0ZM391.8 25.5 393.5 25.0 401.8 25.0 400.4 30.2 400.3 32.5 399.6 34.0 399.6 36.2 398.8 37.8 398.8 43.8 399.5 45.2 399.9 51.2 399.6 54.2 397.4 61.8 397.4 63.2 391.0 69.5 388.8 69.6 387.2 70.3 385.0 70.3 382.8 71.1 381.2 70.4 379.0 70.4 377.5 69.6 375.2 69.3 369.2 66.0 366.2 65.0 365.5 64.3 360.2 62.0 360.0 61.8 364.1 55.0 365.0 52.8 369.6 46.8 369.7 46.0 377.1 34.8 379.4 30.2 381.2 29.1 388.8 27.0 389.5 26.4 391.0 26.2 391.8 25.5ZM455.5 25.0 470.5 25.0 470.5 31.3 466.8 31.4 462.2 32.9 460.0 33.1 458.5 32.0 455.9 28.0 455.0 25.8 455.0 25.0 455.5 25.0ZM360.2 39.2 361.0 38.9 361.6 39.2 361.4 41.5 360.2 43.7 358.8 44.4 357.7 43.8 357.8 42.2 360.2 39.2ZM434.5 46.4 436.8 46.1 438.8 46.8 439.8 47.9 439.7 49.0 437.5 50.0 435.2 50.0 434.4 48.2 434.5 46.4ZM411.2 86.4 412.1 87.2 412.0 87.8 410.8 86.5 411.2 86.4ZM454.8 92.2 457.0 92.1 457.3 92.5 457.4 96.2 458.1 98.5 458.2 103.0 458.9 105.2 459.0 110.5 459.6 112.8 459.8 116.5 460.6 118.8 461.2 130.8 461.9 133.0 461.9 137.5 461.5 137.9 457.8 138.1 451.0 137.0 443.5 137.3 441.9 137.5 441.2 138.8 440.5 139.1 438.2 138.4 436.6 136.8 434.5 136.5 433.8 146.0 412.0 146.0 411.6 133.0 412.0 131.1 421.0 129.2 422.5 128.0 423.2 128.0 426.2 129.2 431.5 134.1 433.8 134.3 437.5 133.0 439.5 131.5 440.5 130.0 441.0 127.8 440.5 125.4 434.3 117.2 434.1 97.0 440.5 95.2 450.2 93.7 451.0 93.1 453.2 93.0 454.8 92.2ZM469.8 118.7 470.5 118.4 470.5 124.4 468.2 124.0 467.2 123.2 467.0 122.5 468.1 120.2 469.8 118.7ZM349.8 130.0 352.0 129.9 353.2 130.0 351.2 130.6 349.4 130.0 349.8 130.0ZM340.8 131.5 341.1 133.0 340.0 133.9 340.0 131.2 340.8 131.5ZM394.8 138.8 396.6 144.2 396.6 146.5 397.2 147.2 398.0 152.5 400.0 158.3 403.0 158.0 404.5 158.4 405.2 160.0 405.3 162.2 393.1 162.2 394.1 160.8 392.5 160.6 365.9 160.0 365.9 142.8 366.2 141.7 370.8 141.7 373.0 141.1 377.5 140.9 380.5 140.0 392.5 139.5 394.8 138.8ZM449.5 149.5 451.7 149.3 458.5 151.4 460.5 153.2 460.4 154.8 458.6 156.2 451.8 158.3 449.5 158.3 445.8 157.3 444.6 156.2 444.5 154.8 447.5 151.0 449.5 149.5ZM469.8 159.0 470.5 158.9 470.5 162.2 467.1 162.2 468.1 160.0 469.8 159.0Z" fill="#3b4cc0" stroke="#3b4cc0" stroke-width="0.3" fill-rule="evenodd"/><path d="M343.0 25.0 385.9 25.0 386.5 26.5 388.8 26.6 391.6 25.0 393.5 25.0 391.8 25.5 391.0 26.2 389.5 26.4 388.8 27.0 381.2 29.1 379.8 29.9 369.6 46.8 365.0 52.8 364.1 55.0 360.0 61.8 361.0 62.6 369.2 66.0 375.2 69.3 383.5 71.1 385.0 70.3 391.0 69.5 397.4 63.2 397.4 61.8 399.6 54.2 399.9 51.2 399.5 45.2 398.8 43.8 398.8 37.8 399.6 36.2 399.6 34.0 400.3 32.5 400.4 30.2 401.0 28.8 401.4 25.8 401.8 25.0 405.1 25.0 405.0 28.0 402.9 29.5 402.7 35.5 401.3 48.2 401.4 55.0 404.5 63.2 405.1 70.0 404.9 78.2 406.8 80.5 411.2 84.3 415.4 86.5 415.9 87.2 415.0 88.0 421.8 97.2 440.5 93.7 446.5 93.4 447.7 92.5 445.5 87.2 442.9 76.0 436.7 56.5 432.7 48.2 431.1 40.8 427.0 28.5 427.2 25.0 436.9 25.0 435.1 31.0 435.1 32.5 436.0 34.0 438.2 34.9 440.5 35.0 442.8 34.3 444.0 33.2 444.8 31.8 445.0 29.5 442.7 26.5 442.2 25.0 455.0 25.0 455.9 28.0 458.5 32.0 460.0 33.1 462.2 32.9 466.8 31.4 470.5 31.3 470.5 36.4 467.5 36.8 465.4 37.7 463.9 39.2 463.5 40.8 464.0 42.2 465.6 43.8 468.2 45.3 470.5 45.9 470.5 63.9 467.7 64.8 466.8 66.2 467.4 67.8 468.2 68.5 470.5 69.4 470.5 93.5 466.0 93.6 464.5 94.2 463.6 95.5 463.9 97.0 465.2 98.5 468.2 100.5 470.5 101.0 470.5 118.4 468.1 120.2 467.0 122.5 467.2 123.2 468.2 124.0 470.5 124.4 470.5 158.9 468.1 160.0 467.1 162.2 405.3 162.2 405.2 160.0 404.5 158.4 403.0 158.0 400.0 158.3 398.0 152.5 397.2 147.2 396.6 146.5 396.6 144.2 394.8 138.8 392.5 139.5 380.5 140.0 377.5 140.9 365.9 142.0 365.9 160.0 366.2 160.3 394.1 160.8 393.1 162.2 379.4 162.2 379.2 160.8 373.0 160.6 368.5 160.8 368.3 162.2 347.9 162.2 342.2 158.9 340.0 158.1 340.0 133.9 340.8 133.5 341.2 132.2 340.0 131.2 340.0 122.3 340.8 121.8 341.5 119.5 340.9 117.2 340.0 116.5 340.0 104.4 342.2 104.9 343.0 106.5 343.5 119.5 344.3 127.8 344.8 128.5 349.2 127.8 348.4 124.8 349.0 123.4 349.8 123.1 351.2 123.3 352.8 124.5 354.3 127.8 358.8 128.4 367.0 128.0 375.2 128.8 389.5 128.1 397.0 126.0 400.0 126.5 400.4 126.2 400.2 125.5 398.6 124.0 399.2 123.6 404.5 127.0 412.8 128.6 415.0 128.2 417.1 127.0 421.0 122.4 423.2 123.6 427.8 128.3 432.2 132.0 434.5 132.3 436.8 131.4 438.2 130.0 438.9 127.8 438.2 125.5 433.7 118.7 433.0 112.4 430.8 115.5 427.8 113.6 422.9 108.2 424.5 105.2 424.3 103.0 423.8 102.3 411.2 91.2 393.2 81.5 381.2 76.5 373.0 75.0 366.2 74.4 361.8 72.7 356.1 68.5 356.5 67.9 359.7 67.0 362.1 65.5 362.3 64.8 361.8 64.0 360.3 63.3 354.2 62.7 352.0 63.1 351.9 64.8 353.8 67.0 353.5 67.1 347.5 66.3 343.8 66.8 340.0 67.9 340.0 32.3 341.5 31.9 342.4 31.0 342.8 29.5 342.3 25.0 343.0 25.0ZM348.6 36.2 347.0 37.8 346.7 39.2 348.2 40.9 350.5 40.8 352.3 39.2 352.8 37.0 351.2 35.8 348.6 36.2ZM449.1 38.5 448.1 40.8 448.8 42.0 449.5 42.1 451.3 40.8 451.5 39.2 450.2 38.1 449.1 38.5ZM360.2 39.2 357.8 42.2 357.7 43.8 358.8 44.4 360.2 43.7 361.6 40.8 361.6 39.2 361.0 38.9 360.2 39.2ZM369.6 39.2 367.6 41.5 367.6 43.0 368.5 43.5 370.1 43.0 371.0 41.5 370.8 39.3 369.6 39.2ZM434.4 46.8 434.4 48.2 435.2 50.0 437.5 50.0 439.7 49.0 439.6 47.5 438.2 46.5 436.0 46.1 434.4 46.8ZM345.0 49.0 343.0 51.2 342.6 52.8 342.8 54.2 344.5 56.4 346.0 57.2 347.5 57.4 348.8 56.5 349.6 55.0 349.8 51.2 349.0 49.6 347.5 48.6 345.0 49.0ZM410.8 86.5 411.2 87.2 412.0 87.8 412.0 87.2 411.2 86.4 410.8 86.5ZM454.1 92.5 451.0 93.1 450.2 93.7 448.0 93.7 446.5 94.5 444.2 94.5 442.8 95.1 437.5 95.8 434.1 97.0 434.3 117.2 440.5 125.4 441.0 127.8 440.5 130.0 439.5 131.5 437.5 133.0 433.8 134.3 431.5 134.1 426.2 129.2 423.2 128.0 422.5 128.0 421.0 129.2 412.0 131.1 411.6 133.0 412.0 146.0 433.8 146.0 434.5 136.5 436.6 136.8 438.2 138.4 440.5 139.1 441.2 138.8 441.9 137.5 443.5 137.3 451.0 137.0 457.8 138.1 461.5 137.9 461.9 137.5 461.9 133.0 461.2 130.8 460.6 118.8 459.8 116.5 459.6 112.8 459.0 110.5 458.9 105.2 458.2 103.0 458.1 98.5 457.4 96.2 457.3 92.5 457.0 92.1 454.1 92.5ZM349.4 130.0 351.2 130.6 353.2 130.0 351.2 129.9 349.4 130.0ZM372.9 133.8 368.5 135.7 367.4 136.8 367.7 138.2 369.7 141.2 373.8 140.5 377.0 136.0 377.0 134.5 376.0 133.6 374.5 133.3 372.9 133.8ZM411.6 146.5 410.6 149.5 411.2 150.5 412.0 150.6 414.0 148.8 414.7 146.5 411.6 146.5ZM430.7 146.5 429.2 148.0 428.5 150.2 429.0 152.5 430.0 153.2 431.5 153.1 433.8 151.9 435.3 149.5 435.2 148.0 434.4 146.5 430.7 146.5ZM449.4 149.5 447.5 151.0 444.5 154.8 444.6 156.2 445.8 157.3 449.5 158.3 451.7 158.3 458.6 156.2 460.4 154.8 460.5 153.2 460.0 152.5 457.8 151.1 451.8 149.3 449.4 149.5ZM355.0 67.7 355.1 67.8 355.0 67.8 355.0 67.7ZM431.5 88.3 432.6 88.8 432.8 89.5 432.2 90.3 431.5 90.4 430.8 89.5 431.5 88.3ZM346.0 95.9 350.3 97.0 355.8 100.1 361.8 101.9 367.6 105.2 367.0 105.7 365.5 105.5 355.8 103.2 347.4 102.2 346.7 98.5 345.3 96.2 346.0 95.9ZM368.5 106.0 368.5 106.0 368.5 106.0 368.5 106.0ZM358.8 114.0 360.4 114.2 360.4 115.8 358.8 116.9 357.2 116.7 356.7 115.8 357.0 115.0 358.8 114.0ZM395.5 121.7 396.4 121.8 398.6 123.2 397.8 124.9 397.0 125.0 396.2 124.5 395.5 123.0 395.5 121.7Z" fill="#5d7ce6" stroke="#5d7ce6" stroke-width="0.3" fill-rule="evenodd"/><path d="M386.5 25.0 387.2 25.0 391.6 25.0 388.8 26.6 386.5 26.5 385.9 25.0 386.5 25.0ZM405.2 25.0 427.2 25.0 427.0 28.5 428.1 32.5 431.1 40.8 432.7 48.2 436.5 55.8 440.4 67.8 443.1 76.8 445.5 87.2 447.5 91.8 447.7 92.5 446.8 93.2 440.5 93.7 421.8 97.2 415.0 88.0 415.9 87.2 415.4 86.5 411.2 84.3 405.2 78.8 404.5 63.2 401.4 55.0 401.3 48.2 402.7 35.5 402.9 29.5 405.0 28.0 405.2 25.0ZM421.4 26.5 416.5 27.1 409.0 29.3 406.4 29.5 406.8 30.0 411.2 30.1 411.6 31.0 410.9 33.2 411.1 35.5 410.5 36.1 409.0 36.3 407.9 37.8 408.4 43.0 408.2 47.2 405.2 47.8 405.2 49.8 407.5 53.1 409.8 51.8 409.9 54.2 412.2 61.7 413.4 69.2 415.0 70.0 416.5 69.1 416.9 67.8 416.5 63.3 416.7 64.8 420.8 71.5 423.7 82.0 426.2 87.1 427.8 87.8 429.2 87.0 429.5 84.2 431.5 82.6 432.2 81.4 432.2 78.5 429.2 72.2 428.5 72.3 425.5 74.9 424.0 72.2 423.2 71.5 422.5 72.1 421.8 71.8 421.5 70.8 422.2 65.5 426.2 64.8 426.1 61.0 427.8 59.0 427.7 57.2 426.2 55.4 424.0 54.5 422.5 51.7 419.5 53.6 417.2 54.3 415.2 50.5 415.4 49.0 417.0 46.8 418.8 45.7 421.0 45.6 421.3 44.5 421.8 41.2 422.5 39.2 420.3 34.8 422.5 32.5 421.8 32.1 421.0 32.9 420.2 32.5 424.8 28.3 424.9 27.2 424.8 26.3 421.4 26.5ZM423.2 31.8 423.2 31.8 423.3 31.8 423.2 31.7 423.2 31.8ZM431.0 88.8 431.3 90.2 432.3 90.2 432.6 88.8 431.5 88.3 431.0 88.8ZM437.5 25.0 442.2 25.0 442.7 26.5 444.6 28.8 445.1 30.2 444.8 31.8 444.0 33.2 442.8 34.3 440.5 35.0 438.2 34.9 436.0 34.0 435.3 33.2 435.1 31.0 436.9 25.0 437.5 25.0ZM349.0 36.1 351.2 35.8 352.8 37.0 352.3 39.2 351.2 40.4 349.8 41.1 348.0 40.8 346.7 39.3 347.0 37.8 349.0 36.1ZM467.5 36.8 470.5 36.4 470.5 45.9 466.8 44.5 464.7 43.0 463.6 41.5 463.6 40.0 464.5 38.5 467.5 36.8ZM449.5 38.2 451.0 38.4 451.6 40.0 450.2 41.7 448.8 42.0 448.2 41.5 448.2 40.0 449.5 38.2ZM370.0 39.1 370.8 39.3 371.0 40.0 370.7 42.2 369.2 43.4 367.8 43.2 367.8 41.2 370.0 39.1ZM345.2 48.9 346.8 48.5 348.2 48.9 349.8 51.2 349.6 55.0 348.8 56.5 347.5 57.4 346.0 57.2 344.5 56.4 342.8 54.2 342.6 52.8 343.0 51.2 345.2 48.9ZM352.0 63.1 353.5 62.7 358.0 62.9 361.8 64.0 362.3 64.8 361.2 66.2 356.5 67.9 356.1 68.5 362.5 73.1 366.2 74.4 373.0 75.0 381.2 76.5 393.2 81.5 412.0 91.6 423.8 102.2 424.3 103.0 424.5 105.2 422.9 108.2 427.7 113.5 430.8 115.5 433.0 112.4 433.7 118.8 438.6 126.2 438.8 128.5 438.2 130.0 436.8 131.4 435.2 132.1 432.2 132.0 427.8 128.3 423.2 123.6 421.0 122.4 417.1 127.0 415.0 128.2 412.8 128.6 404.5 127.0 399.2 123.6 398.6 124.0 400.2 125.5 400.4 126.2 400.0 126.5 397.0 126.0 389.5 128.1 375.2 128.8 367.0 128.0 358.8 128.4 354.3 127.8 352.8 124.5 351.2 123.3 349.8 123.1 349.0 123.4 348.4 124.8 349.2 127.8 345.2 128.6 344.5 128.3 343.5 119.5 343.0 106.5 342.2 104.9 340.0 104.4 340.0 91.5 346.0 92.8 348.2 95.1 366.8 102.2 373.2 106.0 379.0 110.3 389.5 116.5 397.7 120.2 405.2 124.5 411.2 126.1 414.2 126.2 416.5 125.0 421.0 120.2 425.5 122.1 428.5 126.3 436.8 127.2 431.7 119.5 427.0 115.4 423.2 111.2 420.9 109.8 423.2 105.1 423.2 103.0 411.2 92.1 391.8 82.0 380.5 77.2 371.5 75.6 361.8 74.9 354.2 70.4 349.8 69.0 344.5 68.7 340.0 70.0 340.0 67.9 343.0 66.9 348.2 66.3 353.8 67.0 351.9 64.8 352.0 63.1ZM355.0 67.8 355.0 67.8 355.1 67.8 355.0 67.7 355.0 67.8ZM345.3 96.2 346.7 98.5 347.4 102.2 355.8 103.2 365.5 105.5 367.0 105.7 367.6 105.3 361.8 101.9 355.0 99.8 350.3 97.0 346.8 96.0 345.3 96.2ZM345.2 103.8 344.8 104.5 345.2 109.8 347.5 108.3 349.6 105.3 349.1 104.5 345.2 103.8ZM368.5 106.0 368.5 106.0 368.5 106.0 368.5 106.0 368.5 106.0ZM372.6 113.5 373.2 115.0 374.5 115.7 375.2 115.7 376.1 115.0 376.0 113.7 375.2 113.1 373.8 112.8 372.6 113.5ZM358.0 114.2 356.7 115.8 357.2 116.7 358.8 116.9 360.4 115.8 360.2 114.1 358.0 114.2ZM395.4 121.8 396.2 124.5 397.0 125.0 397.8 124.9 398.6 123.2 396.4 121.8 395.4 121.8ZM375.8 124.8 374.9 126.2 377.8 126.2 378.1 125.5 377.6 124.8 375.8 124.8ZM469.8 63.9 470.5 63.9 470.5 69.4 468.2 68.5 467.4 67.8 466.8 66.2 467.7 64.8 469.8 63.9ZM465.2 93.8 470.5 93.5 470.5 101.0 467.5 100.1 464.4 97.8 463.6 95.5 465.2 93.8ZM340.8 117.0 341.4 118.8 341.4 120.2 340.8 121.8 340.0 122.3 340.0 116.5 340.8 117.0ZM373.0 133.7 374.5 133.3 376.0 133.6 377.0 134.5 377.0 136.0 373.8 140.5 369.7 141.2 367.7 138.2 367.4 136.8 368.5 135.7 373.0 133.7ZM412.0 146.5 414.7 146.5 414.7 147.2 413.5 149.5 412.0 150.6 411.2 150.5 410.6 149.5 411.2 147.1 412.0 146.5ZM430.8 146.5 434.4 146.5 435.2 148.0 435.3 149.5 433.8 151.9 431.5 153.1 430.0 153.2 429.0 152.5 428.5 150.2 429.2 148.0 430.8 146.5ZM340.8 158.3 347.0 161.5 347.9 162.2 340.0 162.2 340.0 158.1 340.8 158.3ZM368.5 160.7 379.2 160.8 379.4 162.2 368.3 162.2 368.5 160.7Z" fill="#83a6fb" stroke="#83a6fb" stroke-width="0.3" fill-rule="evenodd"/><path d="M421.8 26.5 424.8 26.3 424.9 27.2 424.8 28.3 420.2 32.5 421.0 32.9 421.8 32.1 422.5 32.5 420.3 34.8 422.5 39.2 421.8 41.2 421.3 44.5 421.0 45.6 418.8 45.7 417.0 46.8 415.4 49.0 415.2 50.5 417.2 54.3 419.5 53.6 422.5 51.7 424.0 54.5 426.2 55.4 427.7 57.2 427.8 59.0 426.1 61.0 426.2 64.8 422.2 65.5 421.5 70.8 421.8 71.8 422.5 72.1 423.2 71.5 424.0 72.2 425.5 74.9 428.5 72.3 429.2 72.2 432.2 78.5 432.2 81.4 431.5 82.6 429.5 84.2 429.2 87.0 427.8 87.8 426.2 87.1 423.7 82.0 420.8 71.5 416.7 64.8 416.5 63.3 416.9 67.8 416.5 69.1 415.0 70.0 413.4 69.2 412.2 61.8 409.9 54.2 409.8 51.8 407.5 53.1 405.2 49.8 405.2 47.8 408.2 47.2 408.4 43.0 407.9 37.8 409.0 36.3 410.5 36.1 411.1 35.5 410.9 33.2 411.6 31.0 411.2 30.1 406.8 30.0 406.4 29.5 409.0 29.3 416.5 27.1 421.8 26.5ZM423.2 31.7 423.3 31.8 423.2 31.8 423.2 31.8 423.2 31.7ZM342.2 69.1 346.0 68.6 350.5 69.1 354.2 70.4 361.8 74.9 371.5 75.6 380.5 77.2 391.8 82.0 411.2 92.1 423.2 103.0 423.2 105.1 420.9 109.8 423.2 111.2 427.0 115.4 431.7 119.5 436.8 127.2 428.5 126.3 425.5 122.1 421.0 120.2 416.5 125.0 414.2 126.2 411.2 126.1 405.2 124.5 397.7 120.2 389.5 116.5 379.0 110.3 373.2 106.0 366.8 102.2 348.2 95.1 346.0 92.8 340.0 91.5 340.0 88.9 347.5 90.8 347.7 93.2 348.2 94.0 373.7 103.8 390.2 114.4 402.2 120.8 406.8 122.6 412.0 123.8 415.0 123.4 417.9 121.0 420.3 117.2 420.5 115.0 419.0 111.2 419.1 110.5 422.4 104.5 422.5 103.8 410.5 92.7 391.2 82.8 380.5 78.1 371.5 76.5 358.8 75.5 352.8 72.1 348.2 71.0 343.8 71.0 340.0 72.5 340.0 70.0 342.2 69.1ZM345.2 103.7 349.1 104.5 349.6 105.2 347.5 108.3 345.2 109.8 344.8 104.5 345.2 103.7ZM403.7 112.0 404.5 112.0 405.4 112.0 404.5 112.2 403.7 112.0ZM373.0 113.1 374.5 112.8 375.9 113.5 376.0 115.1 375.2 115.7 373.8 115.4 372.6 114.2 373.0 113.1ZM376.0 124.6 377.6 124.8 378.1 125.5 377.8 126.2 374.9 126.2 376.0 124.6Z" fill="#aac7fd" stroke="#aac7fd" stroke-width="0.3" fill-rule="evenodd"/><path d="M342.2 71.3 345.2 70.8 349.0 71.1 353.1 72.2 358.8 75.5 371.5 76.5 380.5 78.1 391.2 82.8 410.5 92.7 422.5 103.8 422.4 104.5 419.1 110.5 419.0 111.3 420.5 115.0 420.5 116.5 419.5 118.8 416.5 122.4 414.2 123.6 411.2 123.7 406.5 122.5 402.2 120.8 390.2 114.4 373.7 103.8 348.2 94.0 347.7 93.2 347.5 90.8 340.0 88.9 340.0 86.0 342.2 87.5 344.5 87.6 347.5 83.5 347.6 82.8 346.8 82.3 340.0 83.2 340.0 72.5 342.2 71.3ZM350.5 75.3 349.8 75.3 349.1 76.0 349.0 79.7 348.3 82.0 349.0 93.3 367.9 100.8 379.8 104.8 387.2 108.5 394.8 111.3 399.2 111.3 401.8 110.5 402.6 108.2 405.2 107.1 406.8 107.5 407.3 108.2 407.5 110.5 410.5 111.3 417.2 111.5 421.3 104.5 421.0 103.3 409.7 93.2 390.6 83.5 380.4 79.0 370.8 77.3 361.8 77.0 352.3 75.2 352.0 74.7 350.5 75.3ZM403.7 112.0 404.5 112.2 405.4 112.0 404.5 112.0 403.7 112.0ZM417.2 118.0 417.3 118.0 417.2 117.7 417.2 118.0Z" fill="#ced9ec" stroke="#ced9ec" stroke-width="0.3" fill-rule="evenodd"/><path d="M351.2 75.0 352.0 74.7 352.3 75.2 361.8 77.0 370.8 77.3 380.4 79.0 390.6 83.5 409.7 93.2 421.0 103.3 421.3 104.5 417.2 111.5 410.5 111.3 407.5 110.5 407.3 108.2 406.8 107.5 405.2 107.1 402.6 108.2 401.8 110.5 399.2 111.3 394.8 111.3 387.2 108.5 379.8 104.8 367.9 100.8 349.0 93.3 348.4 81.2 349.0 79.7 349.1 76.0 349.8 75.3 351.2 75.0ZM354.0 78.2 351.4 80.5 351.5 84.2 353.5 86.3 355.7 87.2 355.9 91.8 356.6 92.5 360.2 94.3 374.5 100.2 394.8 106.1 414.2 106.4 415.4 106.0 412.0 99.7 401.5 94.3 394.0 91.6 380.5 83.8 363.2 80.8 356.5 77.9 354.0 78.2ZM343.0 82.7 346.0 82.3 347.6 82.8 346.7 85.0 344.5 87.6 342.2 87.5 340.0 86.0 340.0 83.2 343.0 82.7ZM417.2 117.7 417.3 118.0 417.2 118.0 417.2 118.0 417.2 117.7Z" fill="#ead4c8" stroke="#ead4c8" stroke-width="0.3" fill-rule="evenodd"/><path d="M354.2 78.1 357.2 78.1 363.2 80.8 380.5 83.8 394.0 91.6 401.5 94.3 412.0 99.7 415.4 106.0 414.2 106.4 394.8 106.1 374.5 100.2 360.2 94.3 356.6 92.5 355.9 91.8 355.7 87.2 353.5 86.3 351.5 84.2 351.4 80.5 354.2 78.1ZM354.1 79.0 352.8 80.1 352.0 82.0 352.4 84.2 353.9 85.8 373.0 93.7 376.0 95.4 378.2 97.6 386.5 102.7 389.5 102.7 391.4 100.8 391.7 98.5 390.6 96.2 379.8 88.4 372.4 85.8 357.2 78.9 355.8 78.6 354.1 79.0Z" fill="#f7b89c" stroke="#f7b89c" stroke-width="0.3" fill-rule="evenodd"/><path d="M354.2 78.9 357.2 78.9 372.4 85.8 379.8 88.4 390.6 96.2 391.7 98.5 391.4 100.8 389.5 102.7 386.5 102.7 378.2 97.6 376.0 95.4 373.0 93.7 353.9 85.8 352.4 84.2 352.0 82.0 352.8 80.1 354.2 78.9ZM354.1 79.8 352.9 81.2 352.7 82.8 353.2 84.2 354.2 85.2 373.0 92.9 386.5 101.9 388.8 102.2 390.6 100.8 391.1 98.5 390.2 96.8 379.8 89.3 373.0 86.8 357.2 79.6 355.8 79.3 354.1 79.8Z" fill="#f18e70" stroke="#f18e70" stroke-width="0.3" fill-rule="evenodd"/><path d="M354.2 79.7 355.8 79.3 357.2 79.6 373.0 86.8 379.8 89.3 390.2 96.8 391.1 98.5 390.6 100.8 388.8 102.2 386.5 101.9 373.0 92.9 354.2 85.2 353.2 84.2 352.7 82.8 352.9 81.2 354.2 79.7ZM354.2 80.5 353.4 82.0 354.1 84.2 357.2 85.7 358.0 85.2 358.7 83.5 358.0 81.2 357.2 80.5 354.2 80.5ZM372.9 88.0 372.0 88.8 371.9 91.0 373.0 92.2 387.2 101.5 388.7 101.5 390.2 100.0 389.5 97.0 382.8 91.7 374.5 87.7 372.9 88.0Z" fill="#da5948" stroke="#da5948" stroke-width="0.3" fill-rule="evenodd"/><path d="M354.2 80.5 357.2 80.5 358.0 81.2 358.7 83.5 358.0 85.2 357.2 85.7 354.1 84.2 353.4 82.0 354.2 80.5ZM373.0 87.9 374.5 87.7 382.8 91.7 389.5 97.0 390.2 100.0 388.7 101.5 387.2 101.5 373.0 92.2 371.9 91.0 371.8 90.2 372.0 88.8 373.0 87.9ZM374.1 88.8 374.0 91.8 374.5 92.5 380.5 96.0 382.0 95.8 383.1 94.8 383.1 92.5 382.0 91.5 376.0 88.7 374.1 88.8Z" fill="#b40426" stroke="#b40426" stroke-width="0.3" fill-rule="evenodd"/><path d="M374.5 88.5 376.0 88.7 382.3 91.8 383.1 92.5 383.1 94.8 382.0 95.8 380.5 96.0 374.5 92.5 374.0 91.8 374.1 88.8 374.5 88.5Z" fill="#b40426" stroke="#b40426" stroke-width="0.3" fill-rule="evenodd"/></g>
<g clip-path="url(#gc)" stroke="#bdbdbd" stroke-width="0.5" fill="none" stroke-opacity="0.8"><circle cx="459.2" cy="137.1" r="48"/><circle cx="459.2" cy="137.1" r="96.5"/><circle cx="459.2" cy="137.1" r="146"/><line x1="459.2" y1="137.1" x2="242.69" y2="262.1"/><line x1="459.2" y1="137.1" x2="242.69" y2="12.1"/><line x1="459.2" y1="137.1" x2="459.2" y2="-112.9"/></g>
<polyline points="447.4,80 445.7,83.4 444,90 443.2,96.8 440.7,103.5 438.2,110.2 436,112 434,110.2 431.5,111.9 432.3,118.6 435.6,122 432.3,125.3 427.3,126.2 422.2,127.8 418.9,125.3 415.5,122 412.1,116.9 408.8,112.7 403.8,108.5 398.7,106.9 393.7,105.2 390.3,101.8 387,96.8 386.1,90.1" fill="none" stroke="#222" stroke-width="0.6" stroke-linejoin="round" stroke-linecap="round"/>
<polyline points="447.4,80 450,76.5 453,74 456,73" fill="none" stroke="#222" stroke-width="0.6" stroke-linejoin="round" stroke-linecap="round"/>
<polyline points="405.4,116 405.4,120.3 407.1,125.3 406.3,130.4 408,135.4 407.1,140.4 405.4,145.5 403.8,148.8 405.4,153.9 405,158" fill="none" stroke="#222" stroke-width="0.6" stroke-linejoin="round" stroke-linecap="round"/>
<polyline points="412.1,143.8 413,150.5 413.8,156.4" fill="none" stroke="#222" stroke-width="0.5" stroke-linejoin="round" stroke-linecap="round"/>
<polyline points="449.1,148.8 452.4,150.5 455,153.9 456,157" fill="none" stroke="#222" stroke-width="0.5" stroke-linejoin="round" stroke-linecap="round"/>
<polyline points="391.72,96.88 391.99,95.36 393.53,93.31 393.85,91.89 394.13,90.1 394.12,89.49 395.38,88.48 397.34,87.47 398.47,87.64 400.17,87.47 401.86,86.77 403.17,87.32 405.37,86.17 407.38,85.79 409.07,85.49 410.67,85.31 411.51,85.24 413.31,85.42 415.51,85.18 417.21,84.68 418.86,84.97 420.46,84.13 421.86,84.12 423.64,84.66 425.19,83.42 427.19,83.83 428.91,83.06 430.38,82.98 432.67,82.46 433.97,82.29 435.76,83.09 436.79,84.24 437.82,85.32 438.2,87.6" fill="none" stroke="#96f0ec" stroke-width="1.5" stroke-linejoin="round" stroke-linecap="round"/><polyline points="386.72,101.88 387.22,103.73 389,105.04 389.77,106.63 390.5,107.58 390.95,109.71 392.66,111.44 393.99,112 395.12,113.24 396.82,114.15 398.53,113.67 399.8,114.42 401.97,113.47 403.98,114.14 405.4,115.3" fill="none" stroke="#96f0ec" stroke-width="1.5" stroke-linejoin="round" stroke-linecap="round"/><polyline points="400.12,125.38 398.15,126.36 397.47,126.81 395.55,127.89 393.96,128.8 392.09,130.89 393.01,132.93 393.54,133.8 393.24,135.84 393.52,137.55 393.99,138.77 394.02,141.22 394.94,141.97 395.68,143.49 396.47,145.04 397,147.1" fill="none" stroke="#96f0ec" stroke-width="1.5" stroke-linejoin="round" stroke-linecap="round"/><circle cx="436.5" cy="95" r="1.3" fill="none" stroke="#96f0ec" stroke-width="0.9"/><rect x="359.3" y="81.2" width="2" height="2" fill="#fff"/><rect x="363.9" y="84.2" width="2" height="2" fill="#fff"/><rect x="368.8" y="87.3" width="2" height="2" fill="#fff"/><rect x="373.8" y="90.4" width="2" height="2" fill="#fff"/><rect x="378.3" y="93.5" width="2" height="2" fill="#fff"/><rect x="385.6" y="97.2" width="2" height="2" fill="#fff"/><rect x="390.3" y="100.8" width="2" height="2" fill="#fff"/><rect x="394.4" y="103.5" width="2" height="2" fill="#fff"/><rect x="398.6" y="106.3" width="2" height="2" fill="#fff"/><rect x="402.7" y="108.2" width="2" height="2" fill="#fff"/><rect x="406.9" y="110.5" width="2" height="2" fill="#fff"/>
<path d="M459.3 41.2 L462 35.9 L464.7 41.2 Z" fill="#b40426"/>
<path d="M459.3 144.1 L462 149.7 L464.7 144.1 Z" fill="#3b4cc0"/>
<rect x="459.3" y="41.2" width="5.4" height="10.89" fill="#b40426"/>
<rect x="459.3" y="51.49" width="5.4" height="10.89" fill="#da5948"/>
<rect x="459.3" y="61.78" width="5.4" height="10.89" fill="#f18e70"/>
<rect x="459.3" y="72.07" width="5.4" height="10.89" fill="#f7b89c"/>
<rect x="459.3" y="82.36" width="5.4" height="10.89" fill="#ead4c8"/>
<rect x="459.3" y="92.65" width="5.4" height="10.89" fill="#ced9ec"/>
<rect x="459.3" y="102.94" width="5.4" height="10.89" fill="#aac7fd"/>
<rect x="459.3" y="113.23" width="5.4" height="10.89" fill="#83a6fb"/>
<rect x="459.3" y="123.52" width="5.4" height="10.89" fill="#5d7ce6"/>
<rect x="459.3" y="133.81" width="5.4" height="10.29" fill="#3b4cc0"/>
<path d="M459.3 41.2 L462 35.9 L464.7 41.2 L464.7 144.1 L462 149.7 L459.3 144.1 Z" fill="none" stroke="#444" stroke-width="0.5"/>
<line x1="464.7" y1="41.2" x2="467.3" y2="41.2" stroke="#333" stroke-width="0.9"/>
<text x="470.1" y="45.05" font-size="8.5" fill="#262626" stroke="#262626" stroke-width="0.1">633</text>
<line x1="464.7" y1="61.78" x2="467.3" y2="61.78" stroke="#333" stroke-width="0.9"/>
<text x="470.1" y="65.63" font-size="8.5" fill="#262626" stroke="#262626" stroke-width="0.1">507</text>
<line x1="464.7" y1="82.36" x2="467.3" y2="82.36" stroke="#333" stroke-width="0.9"/>
<text x="470.1" y="86.21" font-size="8.5" fill="#262626" stroke="#262626" stroke-width="0.1">381</text>
<line x1="464.7" y1="102.94" x2="467.3" y2="102.94" stroke="#333" stroke-width="0.9"/>
<text x="470.1" y="106.79" font-size="8.5" fill="#262626" stroke="#262626" stroke-width="0.1">254</text>
<line x1="464.7" y1="123.52" x2="467.3" y2="123.52" stroke="#333" stroke-width="0.9"/>
<text x="470.1" y="127.37" font-size="8.5" fill="#262626" stroke="#262626" stroke-width="0.1">128</text>
<line x1="464.7" y1="144.1" x2="467.3" y2="144.1" stroke="#333" stroke-width="0.9"/>
<text x="470.1" y="147.95" font-size="8.5" fill="#262626" stroke="#262626" stroke-width="0.1">2</text>
<text x="401.5" y="15" font-size="10.9" text-anchor="middle" textLength="59" lengthAdjust="spacingAndGlyphs" fill="#1e1e1e" stroke="#1e1e1e" stroke-width="0.1">Feb 8, 2022</text>
<text x="346.9" y="25" font-size="9" textLength="8" lengthAdjust="spacingAndGlyphs" fill="#1e1e1e" stroke="#1e1e1e" stroke-width="0.1">c)</text>
<g clip-path="url(#cd)"><path d="M485.8 15.0 598.7 15.0 586.2 16.3 581.8 17.5 580.6 18.8 580.3 20.2 581.2 26.2 578.7 27.8 578.8 28.5 576.5 28.3 572.8 28.8 571.2 29.2 570.9 30.0 575.6 40.5 581.0 42.5 585.5 43.5 587.6 51.0 588.5 52.3 592.2 53.5 605.8 55.5 608.2 54.8 609.3 52.5 608.6 46.5 609.6 37.5 609.1 21.8 607.7 15.0 610.2 15.0 610.2 170.2 562.5 170.2 564.8 161.2 564.9 152.2 566.5 145.5 566.8 138.9 567.5 141.0 567.1 144.8 567.5 145.6 570.5 144.5 575.0 144.0 578.1 142.5 578.6 141.8 578.6 138.8 580.2 136.6 581.2 136.5 582.4 137.2 583.4 140.2 586.2 140.8 594.5 139.6 597.2 138.8 602.0 136.3 605.8 136.2 607.0 135.8 607.3 135.0 605.2 126.0 604.8 120.0 603.7 114.8 603.9 107.2 601.8 95.2 601.5 88.5 600.8 87.0 599.5 87.0 596.1 92.2 596.7 93.8 596.5 94.5 591.5 96.7 584.3 102.8 578.0 104.4 570.5 107.5 570.2 106.5 570.8 103.5 572.8 103.4 574.2 102.8 575.4 100.5 575.7 91.5 575.3 84.0 576.5 74.2 576.0 71.2 571.4 58.5 569.8 56.9 567.5 56.5 566.0 57.0 564.5 58.9 564.5 61.5 569.5 73.5 566.8 74.1 565.2 75.2 564.5 74.7 562.8 72.0 560.8 70.2 557.8 69.1 554.8 69.1 552.1 67.5 550.7 65.2 550.4 60.8 549.5 58.5 547.2 57.0 544.2 56.4 542.8 56.7 540.9 57.8 539.9 59.2 539.4 61.5 540.1 64.5 543.3 67.5 544.2 69.0 544.9 75.0 541.6 82.5 540.8 85.5 539.8 114.2 533.8 115.3 506.8 117.4 502.2 118.3 501.4 119.2 501.5 135.0 500.9 146.2 501.0 152.2 501.5 154.3 503.0 156.2 504.5 155.2 506.0 154.9 507.3 156.0 507.5 157.5 506.8 160.5 506.0 161.7 504.5 162.6 503.0 162.8 501.9 165.8 501.6 168.8 502.2 169.7 503.8 170.1 514.2 169.9 522.5 168.1 528.8 170.2 485.0 170.2 485.0 15.0 485.8 15.0ZM575.8 114.0 577.2 113.8 577.5 115.5 576.5 117.0 575.0 117.2 574.1 116.2 574.2 115.5 575.8 114.0ZM569.7 141.0 570.3 141.8 569.8 142.7 568.9 141.8 569.0 141.1 569.7 141.0ZM534.5 170.2 534.5 170.2 534.3 170.2 534.5 170.2Z" fill="#3b4cc0" stroke="#3b4cc0" stroke-width="0.3" fill-rule="evenodd"/><path d="M593.8 15.7 598.7 15.0 607.7 15.0 608.0 15.8 609.0 21.0 609.6 37.5 608.6 45.8 609.3 52.5 608.9 54.0 607.2 55.3 605.8 55.5 594.5 53.9 588.8 52.5 587.6 51.0 585.5 43.5 581.0 42.5 575.6 40.5 571.1 30.8 571.2 29.2 576.5 28.3 578.8 28.5 578.7 27.8 581.2 26.2 580.3 20.2 580.6 18.8 581.8 17.5 586.2 16.3 593.8 15.7ZM603.1 15.8 596.8 17.1 585.5 18.1 582.5 19.1 581.9 20.2 583.2 27.3 587.9 43.5 589.2 50.3 590.0 51.0 592.2 51.6 602.0 53.6 606.5 54.1 607.2 53.6 607.7 52.5 606.8 45.0 608.4 39.0 608.6 35.2 606.9 26.2 607.0 20.2 606.5 16.2 605.8 15.4 603.1 15.8ZM542.0 57.0 545.0 56.4 548.8 57.8 550.2 60.0 550.7 65.2 552.1 67.5 554.8 69.1 557.8 69.1 560.8 70.2 562.8 72.0 564.5 74.7 565.2 75.2 566.8 74.1 569.5 73.5 564.5 61.5 564.5 58.9 566.0 57.0 567.5 56.5 569.8 56.9 571.4 58.5 576.0 71.2 576.5 74.2 575.3 84.0 575.7 91.5 575.4 100.5 574.2 102.8 572.8 103.4 570.8 103.5 570.2 106.5 570.5 107.5 578.0 104.4 584.3 102.8 591.5 96.7 596.5 94.5 596.7 93.8 596.1 92.2 598.2 88.5 599.8 86.8 600.5 86.8 601.2 87.5 601.8 95.2 603.9 107.2 603.7 114.8 604.8 120.0 605.2 126.0 607.3 135.0 607.0 135.8 605.8 136.2 602.0 136.3 597.2 138.8 594.5 139.6 586.2 140.8 583.4 140.2 582.4 137.2 581.2 136.5 580.2 136.6 578.6 138.8 578.6 141.8 578.1 142.5 575.0 144.0 570.5 144.5 567.5 145.6 567.1 144.8 567.5 141.0 566.8 138.9 566.5 145.5 564.9 152.2 565.1 158.2 564.5 163.1 562.5 170.2 560.6 170.2 562.9 160.5 563.4 152.2 564.9 145.5 567.9 108.0 569.1 99.8 568.7 89.2 570.6 81.8 570.9 78.0 569.8 75.8 568.2 75.2 566.0 76.5 565.2 78.4 562.2 76.5 560.0 73.2 558.5 71.9 556.2 71.5 553.2 72.1 550.2 70.1 548.8 70.3 548.1 71.2 548.1 75.0 546.3 78.0 543.5 81.3 542.3 84.8 542.4 107.2 541.2 121.5 539.0 131.3 536.8 127.4 536.0 126.7 534.5 126.5 515.0 135.6 510.7 138.0 509.8 139.5 510.4 141.8 512.0 142.6 520.2 138.2 524.8 136.9 527.0 140.8 529.2 141.7 530.8 141.0 533.8 136.8 536.5 142.5 538.3 149.3 538.1 157.5 535.6 165.8 535.9 168.0 536.8 170.3 528.5 170.2 522.5 168.1 515.0 169.9 503.0 170.0 501.6 168.8 502.1 165.0 503.0 162.8 505.2 162.3 506.4 161.2 507.2 159.0 507.5 156.8 506.8 155.2 506.0 154.9 504.5 155.2 503.0 156.2 501.5 154.3 501.0 152.2 500.9 146.2 501.5 135.0 501.4 119.2 502.2 118.3 506.8 117.4 533.8 115.3 539.8 114.2 540.8 85.5 541.6 82.5 544.9 75.0 544.2 69.0 542.8 66.9 540.5 65.1 539.5 63.0 539.9 59.2 542.0 57.0ZM543.9 60.8 543.6 61.5 544.2 62.9 546.5 62.8 546.4 61.5 545.8 60.4 545.0 60.3 543.9 60.8ZM566.8 60.7 567.0 61.5 567.5 61.6 568.3 60.8 567.5 60.4 566.8 60.7ZM593.3 102.8 592.4 103.5 592.4 104.2 594.5 105.4 597.0 105.0 598.2 103.5 596.8 102.4 593.3 102.8ZM575.7 114.0 574.2 115.5 574.1 116.2 575.0 117.2 576.5 117.0 577.5 115.5 577.2 113.8 575.7 114.0ZM583.9 121.5 583.2 122.7 583.2 124.1 584.0 125.4 584.8 125.6 586.0 124.5 586.2 122.8 585.5 121.4 584.8 121.2 583.9 121.5ZM569.5 141.0 569.0 141.1 568.9 141.8 569.8 142.7 570.3 141.8 569.5 141.0ZM513.7 157.5 512.4 159.0 511.9 161.2 512.1 163.5 512.8 164.6 513.5 164.7 515.0 164.0 516.5 162.4 517.3 159.8 516.9 158.2 515.8 157.1 513.7 157.5ZM530.4 167.2 529.8 168.0 531.5 168.3 533.2 168.0 532.2 167.0 530.4 167.2ZM532.2 132.6 533.1 132.8 532.2 134.5 530.8 135.0 528.5 135.0 532.2 132.6Z" fill="#5d7ce6" stroke="#5d7ce6" stroke-width="0.3" fill-rule="evenodd"/><path d="M603.5 15.7 605.8 15.4 606.5 16.2 607.0 20.2 606.9 26.2 608.6 36.0 608.4 39.0 606.8 45.0 607.7 52.5 607.2 53.6 606.5 54.1 602.0 53.6 592.2 51.6 590.0 51.0 589.3 50.3 587.9 43.5 583.2 27.3 581.9 20.2 582.5 19.1 585.5 18.1 596.8 17.1 603.5 15.7ZM585.5 20.2 584.5 21.8 584.1 23.3 584.8 26.5 585.5 27.6 587.0 28.2 590.0 27.6 591.3 26.2 591.8 24.8 591.4 21.8 590.0 20.3 588.5 19.7 587.0 19.6 585.5 20.2ZM605.6 31.5 603.5 33.3 602.3 36.0 602.9 38.2 605.8 40.3 606.8 36.8 606.5 33.8 605.6 31.5ZM600.9 51.0 602.7 51.8 604.8 51.8 602.8 50.7 600.9 51.0ZM544.2 60.5 545.0 60.3 546.1 60.8 546.5 62.8 544.2 62.9 543.6 61.5 544.2 60.5ZM567.5 60.4 568.3 60.7 567.5 61.6 567.0 61.5 566.8 60.8 567.5 60.4ZM548.8 70.3 550.2 70.1 553.2 72.1 556.2 71.5 558.5 71.9 560.0 73.2 562.2 76.5 565.2 78.4 566.0 76.5 567.5 75.4 569.8 75.7 570.8 77.2 570.6 81.8 568.7 89.2 569.1 99.8 567.9 108.0 564.9 145.5 563.4 152.2 562.9 160.5 561.1 168.8 560.6 170.2 558.5 170.2 560.9 160.5 561.8 152.2 563.5 144.8 564.9 119.2 567.0 99.0 566.3 90.0 566.6 84.8 566.1 82.5 564.3 80.2 559.8 77.2 557.0 74.7 554.0 74.5 551.8 75.3 550.4 76.5 549.6 78.0 545.6 81.8 544.2 84.9 544.7 105.0 543.2 120.0 540.6 134.2 540.8 140.2 540.1 147.0 540.3 157.5 538.1 165.8 538.4 168.0 539.4 170.2 536.8 170.3 535.9 168.0 535.6 165.8 538.1 157.5 538.3 149.2 536.5 142.5 533.8 136.8 530.8 141.0 529.2 141.7 527.0 140.8 524.8 136.9 520.2 138.2 512.0 142.6 510.4 141.8 509.8 139.5 510.7 138.0 515.0 135.6 534.5 126.5 536.0 126.7 536.8 127.4 539.0 131.3 541.2 121.5 542.4 107.2 542.3 84.8 543.5 81.3 546.3 78.0 548.1 75.0 548.1 71.2 548.8 70.3ZM535.2 132.0 535.2 134.2 536.0 136.3 537.5 135.9 537.7 134.2 536.8 131.7 535.2 132.0ZM531.9 132.8 529.2 134.2 528.5 135.0 530.8 135.0 532.2 134.5 533.1 132.8 531.9 132.8ZM593.8 102.6 596.0 102.3 597.5 102.6 598.2 103.5 598.0 104.2 596.0 105.3 593.2 105.0 592.4 104.2 592.4 103.5 593.8 102.6ZM584.0 121.4 585.5 121.4 586.3 123.0 586.0 124.5 584.8 125.6 583.9 125.2 583.2 123.8 584.0 121.4ZM514.2 157.1 515.8 157.1 516.5 157.6 517.2 159.0 517.3 160.5 515.8 163.3 513.5 164.7 512.8 164.6 512.1 163.5 512.0 160.5 512.8 158.4 514.2 157.1ZM530.8 167.0 532.2 167.0 533.2 168.0 531.5 168.3 529.8 168.0 530.8 167.0Z" fill="#83a6fb" stroke="#83a6fb" stroke-width="0.3" fill-rule="evenodd"/><path d="M586.2 19.8 587.8 19.6 589.8 20.2 590.9 21.0 591.7 22.5 591.5 25.8 590.8 27.0 589.2 27.9 586.2 28.1 584.8 26.5 584.1 24.0 584.2 22.5 584.9 21.0 586.2 19.8ZM605.8 31.4 606.8 36.8 605.8 40.3 602.9 38.2 602.3 36.0 603.5 33.3 605.8 31.4ZM601.2 50.8 602.8 50.7 604.8 51.8 602.7 51.8 600.9 51.0 601.2 50.8ZM552.5 74.9 555.5 74.3 557.8 75.1 559.8 77.2 565.1 81.0 566.5 84.0 566.3 90.0 567.1 98.2 564.9 119.2 563.4 145.5 561.8 152.2 561.0 159.8 559.1 168.8 558.5 170.2 556.1 170.2 557.3 168.0 559.0 160.5 560.0 153.0 562.0 144.8 562.9 119.2 565.0 96.0 564.6 85.5 563.6 82.5 561.5 80.4 558.5 78.7 556.2 78.1 553.2 78.0 548.6 81.8 547.0 84.0 546.3 86.2 546.5 102.8 545.8 106.5 545.7 111.8 543.0 127.5 542.8 139.5 541.8 146.2 542.2 157.5 540.2 165.8 540.5 168.0 541.6 170.2 539.4 170.2 538.4 168.0 538.1 165.8 540.3 157.5 540.1 147.0 540.8 140.2 540.6 134.2 543.2 120.0 544.7 105.0 544.1 85.5 545.8 81.6 549.6 78.0 551.0 75.9 552.5 74.9ZM535.2 131.9 536.8 131.7 537.7 134.2 537.5 135.9 536.0 136.3 535.2 134.2 535.2 131.9Z" fill="#aac7fd" stroke="#aac7fd" stroke-width="0.3" fill-rule="evenodd"/><path d="M552.5 78.4 553.2 78.0 556.2 78.1 559.2 79.0 563.0 81.8 564.5 84.8 565.0 96.8 562.9 119.2 562.0 144.8 560.2 152.2 559.2 159.8 557.3 168.0 556.1 170.2 553.7 170.2 555.5 167.2 557.5 159.8 558.4 153.0 560.4 144.8 561.2 125.2 561.0 120.0 562.7 110.2 563.6 87.8 562.7 84.0 560.8 81.7 557.8 80.1 554.8 79.8 552.5 80.6 550.2 82.4 548.8 84.8 548.1 87.0 547.7 96.8 546.2 106.5 546.3 114.0 543.9 127.5 544.1 129.8 545.3 132.8 544.7 140.2 543.6 146.2 543.9 157.5 542.0 165.8 542.4 168.0 543.6 170.2 541.6 170.2 540.5 168.0 540.2 165.8 542.2 157.5 541.8 146.2 542.8 139.5 543.0 127.5 545.7 111.8 545.8 106.5 546.5 102.8 546.3 86.2 548.0 82.5 552.5 78.4Z" fill="#ced9ec" stroke="#ced9ec" stroke-width="0.3" fill-rule="evenodd"/><path d="M554.0 80.0 557.0 79.9 560.8 81.7 562.7 84.0 563.6 87.0 562.7 110.2 561.0 120.0 561.2 125.2 560.4 144.8 558.4 153.0 557.5 159.8 555.2 168.0 553.7 170.2 551.1 170.2 553.2 167.8 554.2 163.5 555.7 159.8 558.4 146.2 559.1 136.5 559.2 127.5 562.1 107.2 562.5 86.2 561.6 84.0 560.0 82.3 557.8 81.1 555.5 80.8 553.2 81.3 551.6 82.5 549.9 84.8 549.1 87.0 548.6 95.2 546.6 106.5 546.8 117.0 544.9 127.5 545.4 130.5 547.4 133.5 546.8 141.0 545.6 147.8 545.8 150.5 546.9 153.0 547.8 159.0 547.3 160.5 544.2 163.4 543.8 165.0 544.2 168.0 546.0 170.2 543.6 170.2 542.4 168.0 542.0 165.8 543.9 157.5 543.6 146.2 544.7 140.2 545.3 132.8 544.1 129.8 543.9 127.5 546.3 114.0 546.2 106.5 547.7 96.8 548.1 87.0 548.8 84.8 550.2 82.5 552.5 80.6 554.0 80.0Z" fill="#ead4c8" stroke="#ead4c8" stroke-width="0.3" fill-rule="evenodd"/><path d="M554.8 80.9 557.8 81.1 560.2 82.5 562.0 84.8 562.7 87.8 562.0 108.8 560.2 118.5 559.2 127.5 559.1 136.5 558.5 145.3 556.9 152.2 556.1 158.2 553.2 167.8 551.1 170.2 546.0 170.2 544.2 168.0 543.7 165.8 544.2 163.4 547.3 160.5 547.8 159.0 546.9 153.0 545.8 150.5 545.6 147.8 546.8 141.0 547.4 133.5 545.4 130.5 544.9 128.2 546.8 117.0 546.6 106.5 548.6 95.2 549.3 86.2 551.6 82.5 554.8 80.9ZM553.1 82.5 551.0 84.7 550.1 87.0 549.3 94.5 548.5 97.5 547.0 106.5 547.6 117.8 545.8 127.5 546.1 129.8 547.5 132.0 549.5 133.5 552.5 134.5 554.8 134.0 556.2 133.0 557.9 129.8 559.3 118.5 561.0 110.2 561.9 88.5 561.4 85.5 559.2 82.9 556.2 81.8 553.1 82.5ZM556.2 144.8 555.2 147.0 555.5 148.2 556.2 147.2 556.2 144.8Z" fill="#f7b89c" stroke="#f7b89c" stroke-width="0.3" fill-rule="evenodd"/><path d="M553.2 82.4 556.2 81.8 559.2 82.9 561.4 85.5 561.9 88.5 561.0 110.2 559.3 118.5 557.9 129.8 556.2 133.0 554.8 134.0 552.5 134.5 549.5 133.5 547.5 132.0 546.1 129.8 545.8 127.5 547.6 117.8 547.0 106.5 548.5 97.5 549.3 94.5 550.1 87.0 551.5 84.0 553.2 82.4ZM553.8 83.2 552.5 84.3 551.3 86.2 550.3 93.0 548.8 97.5 547.3 107.2 547.7 116.2 548.4 119.2 546.8 127.5 546.9 129.0 548.8 132.0 550.2 132.9 552.5 133.4 554.0 133.2 555.5 132.2 557.1 129.0 558.2 118.5 560.2 110.2 561.0 89.2 560.8 86.4 559.1 84.0 556.2 82.8 553.8 83.2ZM556.2 144.7 556.2 147.2 555.5 148.2 555.2 147.0 556.2 144.7Z" fill="#f18e70" stroke="#f18e70" stroke-width="0.3" fill-rule="evenodd"/><path d="M554.0 83.2 557.0 82.9 559.2 84.1 560.8 86.4 561.0 90.0 560.2 110.3 558.2 118.5 557.1 129.0 555.5 132.2 554.0 133.2 552.5 133.4 550.2 132.9 548.8 132.0 546.9 129.0 546.8 127.5 548.4 119.2 547.7 116.2 547.3 107.2 548.8 97.5 550.3 93.0 551.3 86.2 552.5 84.3 554.0 83.2ZM555.2 86.2 551.3 91.5 549.2 97.5 547.8 106.5 548.1 116.2 550.0 121.5 551.0 122.9 556.2 121.5 559.1 111.8 559.9 99.8 559.1 90.0 556.2 86.1 555.5 85.9 555.2 86.2ZM553.7 132.0 554.0 132.0 554.0 132.0 554.0 131.9 553.7 132.0Z" fill="#da5948" stroke="#da5948" stroke-width="0.3" fill-rule="evenodd"/><path d="M555.5 85.9 556.4 86.2 559.1 90.0 559.9 99.8 559.1 111.8 556.2 121.5 551.0 122.9 550.0 121.5 548.1 116.2 547.8 106.5 549.2 97.5 551.3 91.5 555.5 85.9ZM555.2 87.0 551.8 91.6 550.0 96.0 548.2 107.2 548.5 116.2 551.0 122.4 555.1 121.5 555.8 120.8 558.7 110.2 559.4 99.8 558.6 90.8 556.2 86.9 555.5 86.7 555.2 87.0ZM554.0 131.9 554.0 132.0 553.7 132.0 554.0 131.9Z" fill="#b40426" stroke="#b40426" stroke-width="0.3" fill-rule="evenodd"/><path d="M555.5 86.7 556.2 86.9 557.9 89.2 558.7 91.5 559.4 99.8 558.7 110.2 555.8 120.8 555.1 121.5 551.0 122.4 548.5 116.2 548.2 107.2 548.7 103.5 549.5 97.9 551.0 93.5 552.3 90.8 555.5 86.7Z" fill="#b40426" stroke="#b40426" stroke-width="0.3" fill-rule="evenodd"/></g>
<g clip-path="url(#gd)" stroke="#bdbdbd" stroke-width="0.5" fill="none" stroke-opacity="0.8"><circle cx="492.4" cy="51.5" r="48"/><circle cx="492.4" cy="51.5" r="96.5"/><circle cx="492.4" cy="51.5" r="146"/><line x1="492.4" y1="51.5" x2="708.91" y2="-73.5"/><line x1="492.4" y1="51.5" x2="708.91" y2="176.5"/><line x1="492.4" y1="51.5" x2="492.4" y2="301.5"/></g>
<g clip-path="url(#rd)"><polyline points="555.8,21.9 556.7,24.8 550.7,28.4 543.3,30.7 547.8,32.2 558.1,33 561.1,42.6 564.1,48.5 565.6,60.4 567,69.3 564.1,78.1 561.1,84.1 556.7,91.5 552.2,97.4 547.8,104.8 544.8,110.7 534.4,112.2 525.6,113.7 516.7,112.2 507.8,112.2 501.9,110.7 503.3,98.9 501.9,87 500.4,78.1 498.9,72.2 495.9,66.3 493,62" fill="none" stroke="#222" stroke-width="0.6" stroke-linejoin="round" stroke-linecap="round"/></g>
<polyline points="560.82,32.28 561.75,33.41 563.97,34.01 564.95,35.24 565.9,35.83 566.56,37.61 568.48,38.98 569.22,39.68 569.13,41.56 569.61,43.11 570.07,44.11 570.11,46.35 571.04,46.88 571.78,48.19 572.25,49.57 572.66,51.1 572.31,52.74 572.92,54.63 573.92,56.09 574.43,57.28 575.01,59.25 575.54,60.09 575.86,61.76 576.54,63.98 576.99,64.42 576.54,66.5 575.81,67.41 574.87,69.1 574.74,70.36 573.27,71.99 572.31,73.84 570.59,76.04 570.07,76.52 568.7,77.84 568.04,79.37 567.05,80.57 565.5,81.37 564.73,82.92 564.26,83.59 562.92,85.83 562.17,86.66 560.92,88.64 559.45,90.69 558.73,91.39 558.79,93.05 558.09,94.93 558.17,96.25 557.53,97.4 556.29,99.67 554.86,100.68 553.66,100.98 552.14,102.24 550.56,103.51 549.45,103.89 547.6,104.9 546.67,106.94 545.88,107.2 544.96,108.39 543.84,110.04 542.12,112.18 540.94,112.72 540.19,113.68 538.07,115.98 537.1,116.79 536.2,117.4 534.53,118.21 533.02,119.32 531.79,119.75 530.3,120.18 528.23,120.75 527.29,122.17 525.56,121.41 523.87,122.76 522.67,123.13 521.43,123.92 519.13,124.25 517.56,124.18 516.48,124.74 514.5,123.92 512.36,124.29 510.35,124.08 509.44,124.05 507.65,123.48 506.75,123.08 504.8,122.6" fill="none" stroke="#96f0ec" stroke-width="1.5" stroke-linejoin="round" stroke-linecap="round"/><rect x="541.7" y="53.4" width="2" height="2" fill="#fff"/><rect x="546.8" y="62.3" width="2" height="2" fill="#fff"/><rect x="549.7" y="68.3" width="2" height="2" fill="#fff"/><rect x="552.7" y="72.7" width="2" height="2" fill="#fff"/><rect x="555.7" y="78.6" width="2" height="2" fill="#fff"/><rect x="557.1" y="84.6" width="2" height="2" fill="#fff"/><rect x="557.7" y="90.5" width="2" height="2" fill="#fff"/><rect x="558" y="96.4" width="2" height="2" fill="#fff"/><rect x="557.7" y="102.3" width="2" height="2" fill="#fff"/><rect x="557.1" y="108.3" width="2" height="2" fill="#fff"/><rect x="555.7" y="114.2" width="2" height="2" fill="#fff"/><rect x="554.2" y="120.1" width="2" height="2" fill="#fff"/><rect x="551.8" y="126" width="2" height="2" fill="#fff"/><rect x="549.7" y="132" width="2" height="2" fill="#fff"/><rect x="547.7" y="137.9" width="2" height="2" fill="#fff"/><rect x="545.3" y="143.8" width="2" height="2" fill="#fff"/><rect x="543.8" y="149.7" width="2" height="2" fill="#fff"/>
<path d="M605.4 41.2 L608.1 35.9 L610.8 41.2 Z" fill="#b40426"/>
<path d="M605.4 144.1 L608.1 149.7 L610.8 144.1 Z" fill="#3b4cc0"/>
<rect x="605.4" y="41.2" width="5.4" height="10.89" fill="#b40426"/>
<rect x="605.4" y="51.49" width="5.4" height="10.89" fill="#da5948"/>
<rect x="605.4" y="61.78" width="5.4" height="10.89" fill="#f18e70"/>
<rect x="605.4" y="72.07" width="5.4" height="10.89" fill="#f7b89c"/>
<rect x="605.4" y="82.36" width="5.4" height="10.89" fill="#ead4c8"/>
<rect x="605.4" y="92.65" width="5.4" height="10.89" fill="#ced9ec"/>
<rect x="605.4" y="102.94" width="5.4" height="10.89" fill="#aac7fd"/>
<rect x="605.4" y="113.23" width="5.4" height="10.89" fill="#83a6fb"/>
<rect x="605.4" y="123.52" width="5.4" height="10.89" fill="#5d7ce6"/>
<rect x="605.4" y="133.81" width="5.4" height="10.29" fill="#3b4cc0"/>
<path d="M605.4 41.2 L608.1 35.9 L610.8 41.2 L610.8 144.1 L608.1 149.7 L605.4 144.1 Z" fill="none" stroke="#444" stroke-width="0.5"/>
<line x1="610.8" y1="41.2" x2="613.4" y2="41.2" stroke="#333" stroke-width="0.9"/>
<text x="616.2" y="45.05" font-size="8.5" fill="#262626" stroke="#262626" stroke-width="0.1">704</text>
<line x1="610.8" y1="61.78" x2="613.4" y2="61.78" stroke="#333" stroke-width="0.9"/>
<text x="616.2" y="65.63" font-size="8.5" fill="#262626" stroke="#262626" stroke-width="0.1">565</text>
<line x1="610.8" y1="82.36" x2="613.4" y2="82.36" stroke="#333" stroke-width="0.9"/>
<text x="616.2" y="86.21" font-size="8.5" fill="#262626" stroke="#262626" stroke-width="0.1">425</text>
<line x1="610.8" y1="102.94" x2="613.4" y2="102.94" stroke="#333" stroke-width="0.9"/>
<text x="616.2" y="106.79" font-size="8.5" fill="#262626" stroke="#262626" stroke-width="0.1">286</text>
<line x1="610.8" y1="123.52" x2="613.4" y2="123.52" stroke="#333" stroke-width="0.9"/>
<text x="616.2" y="127.37" font-size="8.5" fill="#262626" stroke="#262626" stroke-width="0.1">146</text>
<line x1="610.8" y1="144.1" x2="613.4" y2="144.1" stroke="#333" stroke-width="0.9"/>
<text x="616.2" y="147.95" font-size="8.5" fill="#262626" stroke="#262626" stroke-width="0.1">7</text>
<text x="548" y="8" font-size="10.9" text-anchor="middle" textLength="66.3" lengthAdjust="spacingAndGlyphs" fill="#1e1e1e" stroke="#1e1e1e" stroke-width="0.1">Mar 17, 2022</text>
<text x="493" y="17.3" font-size="9" textLength="8.6" lengthAdjust="spacingAndGlyphs" fill="#1e1e1e" stroke="#1e1e1e" stroke-width="0.1">d)</text>
<text transform="translate(643.4,126.7) rotate(-90)" font-size="9.3" fill="#1e1e1e" stroke="#1e1e1e" stroke-width="0.1">IVT (kg m<tspan dy="-3" font-size="6.5">−1</tspan><tspan dy="3"> s</tspan><tspan dy="-3" font-size="6.5">−1</tspan><tspan dy="3">)</tspan></text>
<line x1="38.1" y1="379.4" x2="38.1" y2="498.4" stroke="#e6e6e6" stroke-width="0.8"/><line x1="53.1" y1="379.4" x2="53.1" y2="498.4" stroke="#e6e6e6" stroke-width="0.8"/><line x1="68.1" y1="379.4" x2="68.1" y2="498.4" stroke="#e6e6e6" stroke-width="0.8"/><line x1="83.1" y1="379.4" x2="83.1" y2="498.4" stroke="#e6e6e6" stroke-width="0.8"/><line x1="98.1" y1="379.4" x2="98.1" y2="498.4" stroke="#e6e6e6" stroke-width="0.8"/><line x1="113.1" y1="379.4" x2="113.1" y2="498.4" stroke="#e6e6e6" stroke-width="0.8"/><line x1="128.1" y1="379.4" x2="128.1" y2="498.4" stroke="#e6e6e6" stroke-width="0.8"/><line x1="143.1" y1="379.4" x2="143.1" y2="498.4" stroke="#e6e6e6" stroke-width="0.8"/><line x1="158.1" y1="379.4" x2="158.1" y2="498.4" stroke="#e6e6e6" stroke-width="0.8"/><line x1="24.5" y1="493.3" x2="172.3" y2="493.3" stroke="#e6e6e6" stroke-width="0.8"/><line x1="24.5" y1="473.12" x2="172.3" y2="473.12" stroke="#e6e6e6" stroke-width="0.8"/><line x1="24.5" y1="452.94" x2="172.3" y2="452.94" stroke="#e6e6e6" stroke-width="0.8"/><line x1="24.5" y1="432.76" x2="172.3" y2="432.76" stroke="#e6e6e6" stroke-width="0.8"/><line x1="24.5" y1="412.58" x2="172.3" y2="412.58" stroke="#e6e6e6" stroke-width="0.8"/><line x1="24.5" y1="392.4" x2="172.3" y2="392.4" stroke="#e6e6e6" stroke-width="0.8"/>
<polyline points="30.6,492.69 45.6,492.69 60.6,492.69 75.6,492.29 90.6,480.99 105.6,453.34 120.6,429.33 135.6,401.88 150.6,396.03 165.6,393.41" fill="none" stroke="#111111" stroke-width="1.25" stroke-dasharray="1.1 2.1" stroke-linejoin="round" stroke-opacity="0.85"/>
<polyline points="30.6,492.69 45.6,492.69 60.6,492.69 75.6,492.29 90.6,480.59 105.6,455.77 120.6,429.33 135.6,401.88 150.6,392.8 165.6,389.37" fill="none" stroke="#4a90f0" stroke-width="1.25" stroke-dasharray="1.1 2.1" stroke-linejoin="round" stroke-opacity="0.85"/>
<polyline points="30.6,492.29 45.6,491.48 60.6,484.42 75.6,480.18 90.6,470.7 105.6,439.62 120.6,420.85 135.6,396.23 150.6,386.95 165.6,384.73" fill="none" stroke="#dc2a46" stroke-width="1.25" stroke-dasharray="1.1 2.1" stroke-linejoin="round" stroke-opacity="0.85"/>
<polyline points="30.6,492.8 45.6,492.8 60.6,492.69 75.6,492.29 90.6,483.61 105.6,458.99 120.6,436.19 135.6,413.99 150.6,409.55 165.6,406.73" fill="none" stroke="#111111" stroke-width="1.35" stroke-linejoin="round" stroke-linecap="round"/>
<polyline points="30.6,492.9 45.6,492.9 60.6,492.9 75.6,492.9 90.6,482 105.6,458.99 120.6,436.19 135.6,413.99 150.6,405.32 165.6,403.1" fill="none" stroke="#4a90f0" stroke-width="1.35" stroke-linejoin="round" stroke-linecap="round"/>
<polyline points="30.6,492.69 45.6,491.89 60.6,485.03 75.6,482.6 90.6,472.92 105.6,446.48 120.6,428.32 135.6,409.55 150.6,401.88 165.6,400.27" fill="none" stroke="#dc2a46" stroke-width="1.6" stroke-linejoin="round" stroke-linecap="round"/>
<rect x="24.5" y="379.4" width="147.8" height="119" fill="none" stroke="#6a6a6a" stroke-width="1.0"/>
<line x1="21.7" y1="493.3" x2="24.5" y2="493.3" stroke="#333" stroke-width="0.9"/>
<text x="20.7" y="496.4" font-size="8.6" text-anchor="end" fill="#1e1e1e" stroke="#1e1e1e" stroke-width="0.1">0</text>
<line x1="21.7" y1="473.12" x2="24.5" y2="473.12" stroke="#333" stroke-width="0.9"/>
<text x="20.7" y="476.22" font-size="8.6" text-anchor="end" fill="#1e1e1e" stroke="#1e1e1e" stroke-width="0.1">10</text>
<line x1="21.7" y1="452.94" x2="24.5" y2="452.94" stroke="#333" stroke-width="0.9"/>
<text x="20.7" y="456.04" font-size="8.6" text-anchor="end" fill="#1e1e1e" stroke="#1e1e1e" stroke-width="0.1">20</text>
<line x1="21.7" y1="432.76" x2="24.5" y2="432.76" stroke="#333" stroke-width="0.9"/>
<text x="20.7" y="435.86" font-size="8.6" text-anchor="end" fill="#1e1e1e" stroke="#1e1e1e" stroke-width="0.1">30</text>
<line x1="21.7" y1="412.58" x2="24.5" y2="412.58" stroke="#333" stroke-width="0.9"/>
<text x="20.7" y="415.68" font-size="8.6" text-anchor="end" fill="#1e1e1e" stroke="#1e1e1e" stroke-width="0.1">40</text>
<line x1="21.7" y1="392.4" x2="24.5" y2="392.4" stroke="#333" stroke-width="0.9"/>
<text x="20.7" y="395.5" font-size="8.6" text-anchor="end" fill="#1e1e1e" stroke="#1e1e1e" stroke-width="0.1">50</text>
<line x1="38.5" y1="498.4" x2="38.5" y2="501.2" stroke="#333" stroke-width="0.9"/>
<text transform="translate(37.5,508) rotate(-45)" font-size="9" text-anchor="end" fill="#262626">28-09</text>
<line x1="53.5" y1="498.4" x2="53.5" y2="501.2" stroke="#333" stroke-width="0.9"/>
<text transform="translate(52.5,508) rotate(-45)" font-size="9" text-anchor="end" fill="#262626">29-09</text>
<line x1="68.5" y1="498.4" x2="68.5" y2="501.2" stroke="#333" stroke-width="0.9"/>
<text transform="translate(67.5,508) rotate(-45)" font-size="9" text-anchor="end" fill="#262626">30-09</text>
<line x1="83.5" y1="498.4" x2="83.5" y2="501.2" stroke="#333" stroke-width="0.9"/>
<text transform="translate(82.5,508) rotate(-45)" font-size="9" text-anchor="end" fill="#262626">01-10</text>
<line x1="98.5" y1="498.4" x2="98.5" y2="501.2" stroke="#333" stroke-width="0.9"/>
<text transform="translate(97.5,508) rotate(-45)" font-size="9" text-anchor="end" fill="#262626">02-10</text>
<line x1="113.5" y1="498.4" x2="113.5" y2="501.2" stroke="#333" stroke-width="0.9"/>
<text transform="translate(112.5,508) rotate(-45)" font-size="9" text-anchor="end" fill="#262626">03-10</text>
<line x1="128.5" y1="498.4" x2="128.5" y2="501.2" stroke="#333" stroke-width="0.9"/>
<text transform="translate(127.5,508) rotate(-45)" font-size="9" text-anchor="end" fill="#262626">04-10</text>
<line x1="143.5" y1="498.4" x2="143.5" y2="501.2" stroke="#333" stroke-width="0.9"/>
<text transform="translate(142.5,508) rotate(-45)" font-size="9" text-anchor="end" fill="#262626">05-10</text>
<line x1="158.5" y1="498.4" x2="158.5" y2="501.2" stroke="#333" stroke-width="0.9"/>
<text transform="translate(157.5,508) rotate(-45)" font-size="9" text-anchor="end" fill="#262626">06-10</text>
<text x="98.4" y="375.9" font-size="9.6" text-anchor="middle" textLength="100.1" lengthAdjust="spacingAndGlyphs" fill="#1e1e1e" stroke="#1e1e1e" stroke-width="0.1">Acc. Precip over Am-Wil</text>
<text x="26.1" y="372.9" font-size="8" textLength="5.4" lengthAdjust="spacingAndGlyphs" fill="#1e1e1e" stroke="#1e1e1e" stroke-width="0.1">f)</text>
<line x1="208.88" y1="379.4" x2="208.88" y2="498.4" stroke="#e6e6e6" stroke-width="0.8"/><line x1="223.84" y1="379.4" x2="223.84" y2="498.4" stroke="#e6e6e6" stroke-width="0.8"/><line x1="238.8" y1="379.4" x2="238.8" y2="498.4" stroke="#e6e6e6" stroke-width="0.8"/><line x1="253.76" y1="379.4" x2="253.76" y2="498.4" stroke="#e6e6e6" stroke-width="0.8"/><line x1="268.72" y1="379.4" x2="268.72" y2="498.4" stroke="#e6e6e6" stroke-width="0.8"/><line x1="283.68" y1="379.4" x2="283.68" y2="498.4" stroke="#e6e6e6" stroke-width="0.8"/><line x1="298.64" y1="379.4" x2="298.64" y2="498.4" stroke="#e6e6e6" stroke-width="0.8"/><line x1="313.6" y1="379.4" x2="313.6" y2="498.4" stroke="#e6e6e6" stroke-width="0.8"/><line x1="328.56" y1="379.4" x2="328.56" y2="498.4" stroke="#e6e6e6" stroke-width="0.8"/><line x1="195.5" y1="496" x2="342.4" y2="496" stroke="#e6e6e6" stroke-width="0.8"/><line x1="195.5" y1="480.9" x2="342.4" y2="480.9" stroke="#e6e6e6" stroke-width="0.8"/><line x1="195.5" y1="465.8" x2="342.4" y2="465.8" stroke="#e6e6e6" stroke-width="0.8"/><line x1="195.5" y1="450.7" x2="342.4" y2="450.7" stroke="#e6e6e6" stroke-width="0.8"/><line x1="195.5" y1="435.6" x2="342.4" y2="435.6" stroke="#e6e6e6" stroke-width="0.8"/><line x1="195.5" y1="420.5" x2="342.4" y2="420.5" stroke="#e6e6e6" stroke-width="0.8"/><line x1="195.5" y1="405.4" x2="342.4" y2="405.4" stroke="#e6e6e6" stroke-width="0.8"/><line x1="195.5" y1="390.3" x2="342.4" y2="390.3" stroke="#e6e6e6" stroke-width="0.8"/>
<polyline points="201.4,485.51 216.36,477.5 231.32,469.88 246.28,460.29 261.24,448.28 276.2,443.07 291.16,440.81 306.12,438.54 321.08,435 336.04,424.27" fill="none" stroke="#111111" stroke-width="1.25" stroke-dasharray="1.1 2.1" stroke-linejoin="round" stroke-opacity="0.85"/>
<polyline points="201.4,485.51 216.36,476.29 231.32,470.63 246.28,463.69 261.24,453.87 276.2,451.08 291.16,451.08 306.12,450.62 321.08,443.07 336.04,433.86" fill="none" stroke="#4a90f0" stroke-width="1.25" stroke-dasharray="1.1 2.1" stroke-linejoin="round" stroke-opacity="0.85"/>
<polyline points="201.4,480.9 216.36,466.03 231.32,448.81 246.28,438.54 261.24,432.81 276.2,428.2 291.16,420.12 306.12,409.78 321.08,399.51 336.04,385.69" fill="none" stroke="#dc2a46" stroke-width="1.25" stroke-dasharray="1.1 2.1" stroke-linejoin="round" stroke-opacity="0.85"/>
<polyline points="201.4,492.83 216.36,490.11 231.32,488.3 246.28,486.03 261.24,482.11 276.2,480.22 291.16,479.77 306.12,479.09 321.08,478.18 336.04,474.03" fill="none" stroke="#111111" stroke-width="1.35" stroke-linejoin="round" stroke-linecap="round"/>
<polyline points="201.4,493.13 216.36,490.79 231.32,489.43 246.28,486.71 261.24,483.17 276.2,482.49 291.16,482.33 306.12,482.33 321.08,479.77 336.04,474.71" fill="none" stroke="#4a90f0" stroke-width="1.35" stroke-linejoin="round" stroke-linecap="round"/>
<polyline points="201.4,491.7 216.36,484.37 231.32,477.5 246.28,472.44 261.24,467.16 276.2,466.03 291.16,462.1 306.12,458.02 321.08,451.61 336.04,445.79" fill="none" stroke="#dc2a46" stroke-width="1.6" stroke-linejoin="round" stroke-linecap="round"/>
<rect x="195.5" y="379.4" width="146.9" height="119" fill="none" stroke="#6a6a6a" stroke-width="1.0"/>
<line x1="192.7" y1="496" x2="195.5" y2="496" stroke="#333" stroke-width="0.9"/>
<text x="191.7" y="499.1" font-size="8.6" text-anchor="end" fill="#1e1e1e" stroke="#1e1e1e" stroke-width="0.1">0</text>
<line x1="192.7" y1="480.9" x2="195.5" y2="480.9" stroke="#333" stroke-width="0.9"/>
<text x="191.7" y="484" font-size="8.6" text-anchor="end" fill="#1e1e1e" stroke="#1e1e1e" stroke-width="0.1">2</text>
<line x1="192.7" y1="465.8" x2="195.5" y2="465.8" stroke="#333" stroke-width="0.9"/>
<text x="191.7" y="468.9" font-size="8.6" text-anchor="end" fill="#1e1e1e" stroke="#1e1e1e" stroke-width="0.1">4</text>
<line x1="192.7" y1="450.7" x2="195.5" y2="450.7" stroke="#333" stroke-width="0.9"/>
<text x="191.7" y="453.8" font-size="8.6" text-anchor="end" fill="#1e1e1e" stroke="#1e1e1e" stroke-width="0.1">6</text>
<line x1="192.7" y1="435.6" x2="195.5" y2="435.6" stroke="#333" stroke-width="0.9"/>
<text x="191.7" y="438.7" font-size="8.6" text-anchor="end" fill="#1e1e1e" stroke="#1e1e1e" stroke-width="0.1">8</text>
<line x1="192.7" y1="420.5" x2="195.5" y2="420.5" stroke="#333" stroke-width="0.9"/>
<text x="191.7" y="423.6" font-size="8.6" text-anchor="end" fill="#1e1e1e" stroke="#1e1e1e" stroke-width="0.1">10</text>
<line x1="192.7" y1="405.4" x2="195.5" y2="405.4" stroke="#333" stroke-width="0.9"/>
<text x="191.7" y="408.5" font-size="8.6" text-anchor="end" fill="#1e1e1e" stroke="#1e1e1e" stroke-width="0.1">12</text>
<line x1="192.7" y1="390.3" x2="195.5" y2="390.3" stroke="#333" stroke-width="0.9"/>
<text x="191.7" y="393.4" font-size="8.6" text-anchor="end" fill="#1e1e1e" stroke="#1e1e1e" stroke-width="0.1">14</text>
<line x1="209.28" y1="498.4" x2="209.28" y2="501.2" stroke="#333" stroke-width="0.9"/>
<text transform="translate(208.28,508) rotate(-45)" font-size="9" text-anchor="end" fill="#262626">21-10</text>
<line x1="224.24" y1="498.4" x2="224.24" y2="501.2" stroke="#333" stroke-width="0.9"/>
<text transform="translate(223.24,508) rotate(-45)" font-size="9" text-anchor="end" fill="#262626">22-10</text>
<line x1="239.2" y1="498.4" x2="239.2" y2="501.2" stroke="#333" stroke-width="0.9"/>
<text transform="translate(238.2,508) rotate(-45)" font-size="9" text-anchor="end" fill="#262626">23-10</text>
<line x1="254.16" y1="498.4" x2="254.16" y2="501.2" stroke="#333" stroke-width="0.9"/>
<text transform="translate(253.16,508) rotate(-45)" font-size="9" text-anchor="end" fill="#262626">24-10</text>
<line x1="269.12" y1="498.4" x2="269.12" y2="501.2" stroke="#333" stroke-width="0.9"/>
<text transform="translate(268.12,508) rotate(-45)" font-size="9" text-anchor="end" fill="#262626">25-10</text>
<line x1="284.08" y1="498.4" x2="284.08" y2="501.2" stroke="#333" stroke-width="0.9"/>
<text transform="translate(283.08,508) rotate(-45)" font-size="9" text-anchor="end" fill="#262626">26-10</text>
<line x1="299.04" y1="498.4" x2="299.04" y2="501.2" stroke="#333" stroke-width="0.9"/>
<text transform="translate(298.04,508) rotate(-45)" font-size="9" text-anchor="end" fill="#262626">27-10</text>
<line x1="314" y1="498.4" x2="314" y2="501.2" stroke="#333" stroke-width="0.9"/>
<text transform="translate(313,508) rotate(-45)" font-size="9" text-anchor="end" fill="#262626">28-10</text>
<line x1="328.96" y1="498.4" x2="328.96" y2="501.2" stroke="#333" stroke-width="0.9"/>
<text transform="translate(327.96,508) rotate(-45)" font-size="9" text-anchor="end" fill="#262626">29-10</text>
<text x="268.95" y="375.9" font-size="9.6" text-anchor="middle" textLength="81.8" lengthAdjust="spacingAndGlyphs" fill="#1e1e1e" stroke="#1e1e1e" stroke-width="0.1">Acc. Precip over AP</text>
<text x="197.1" y="372.9" font-size="8" textLength="6.7" lengthAdjust="spacingAndGlyphs" fill="#1e1e1e" stroke="#1e1e1e" stroke-width="0.1">g)</text>
<line x1="379.39" y1="379.4" x2="379.39" y2="498.4" stroke="#e6e6e6" stroke-width="0.8"/><line x1="394.37" y1="379.4" x2="394.37" y2="498.4" stroke="#e6e6e6" stroke-width="0.8"/><line x1="409.35" y1="379.4" x2="409.35" y2="498.4" stroke="#e6e6e6" stroke-width="0.8"/><line x1="424.33" y1="379.4" x2="424.33" y2="498.4" stroke="#e6e6e6" stroke-width="0.8"/><line x1="439.31" y1="379.4" x2="439.31" y2="498.4" stroke="#e6e6e6" stroke-width="0.8"/><line x1="454.29" y1="379.4" x2="454.29" y2="498.4" stroke="#e6e6e6" stroke-width="0.8"/><line x1="469.27" y1="379.4" x2="469.27" y2="498.4" stroke="#e6e6e6" stroke-width="0.8"/><line x1="484.25" y1="379.4" x2="484.25" y2="498.4" stroke="#e6e6e6" stroke-width="0.8"/><line x1="499.23" y1="379.4" x2="499.23" y2="498.4" stroke="#e6e6e6" stroke-width="0.8"/><line x1="365.4" y1="493.1" x2="513.4" y2="493.1" stroke="#e6e6e6" stroke-width="0.8"/><line x1="365.4" y1="477" x2="513.4" y2="477" stroke="#e6e6e6" stroke-width="0.8"/><line x1="365.4" y1="460.9" x2="513.4" y2="460.9" stroke="#e6e6e6" stroke-width="0.8"/><line x1="365.4" y1="444.8" x2="513.4" y2="444.8" stroke="#e6e6e6" stroke-width="0.8"/><line x1="365.4" y1="428.7" x2="513.4" y2="428.7" stroke="#e6e6e6" stroke-width="0.8"/><line x1="365.4" y1="412.6" x2="513.4" y2="412.6" stroke="#e6e6e6" stroke-width="0.8"/><line x1="365.4" y1="396.5" x2="513.4" y2="396.5" stroke="#e6e6e6" stroke-width="0.8"/><line x1="365.4" y1="380.4" x2="513.4" y2="380.4" stroke="#e6e6e6" stroke-width="0.8"/>
<polyline points="371.9,493.1 386.88,488.91 401.86,486.02 416.84,483.68 431.82,458 446.8,432.32 461.78,421.29 476.76,416.71 491.74,412.12 506.72,406.4" fill="none" stroke="#111111" stroke-width="1.25" stroke-dasharray="1.1 2.1" stroke-linejoin="round" stroke-opacity="0.85"/>
<polyline points="371.9,492.38 386.88,480.86 401.86,469.43 416.84,456.79 431.82,440.13 446.8,414.37 461.78,402.94 476.76,398.27 491.74,391.51 506.72,384.59" fill="none" stroke="#4a90f0" stroke-width="1.25" stroke-dasharray="1.1 2.1" stroke-linejoin="round" stroke-opacity="0.85"/>
<polyline points="371.9,491.89 386.88,478.61 401.86,465.97 416.84,453.41 431.82,428.22 446.8,416.71 461.78,409.78 476.76,402.94 491.74,390.3 506.72,387.97" fill="none" stroke="#dc2a46" stroke-width="1.25" stroke-dasharray="1.1 2.1" stroke-linejoin="round" stroke-opacity="0.85"/>
<polyline points="371.9,493.1 386.88,491.89 401.86,489.4 416.84,488.67 431.82,479.09 446.8,462.99 461.78,455.67 476.76,452.93 491.74,451.56 506.72,450.6" fill="none" stroke="#111111" stroke-width="1.35" stroke-linejoin="round" stroke-linecap="round"/>
<polyline points="371.9,492.78 386.88,486.02 401.86,480.86 416.84,477.48 431.82,465.97 446.8,453.41 461.78,446.97 476.76,444.24 491.74,442.38 506.72,441.18" fill="none" stroke="#4a90f0" stroke-width="1.35" stroke-linejoin="round" stroke-linecap="round"/>
<polyline points="371.9,492.38 386.88,485.53 401.86,480.86 416.84,477.48 431.82,465.33 446.8,459.13 461.78,456.07 476.76,454.06 491.74,452.69 506.72,452.21" fill="none" stroke="#dc2a46" stroke-width="1.6" stroke-linejoin="round" stroke-linecap="round"/>
<rect x="365.4" y="379.4" width="148" height="119" fill="none" stroke="#6a6a6a" stroke-width="1.0"/>
<line x1="362.6" y1="493.1" x2="365.4" y2="493.1" stroke="#333" stroke-width="0.9"/>
<text x="361.6" y="496.2" font-size="8.6" text-anchor="end" fill="#1e1e1e" stroke="#1e1e1e" stroke-width="0.1">0</text>
<line x1="362.6" y1="477" x2="365.4" y2="477" stroke="#333" stroke-width="0.9"/>
<text x="361.6" y="480.1" font-size="8.6" text-anchor="end" fill="#1e1e1e" stroke="#1e1e1e" stroke-width="0.1">2</text>
<line x1="362.6" y1="460.9" x2="365.4" y2="460.9" stroke="#333" stroke-width="0.9"/>
<text x="361.6" y="464" font-size="8.6" text-anchor="end" fill="#1e1e1e" stroke="#1e1e1e" stroke-width="0.1">4</text>
<line x1="362.6" y1="444.8" x2="365.4" y2="444.8" stroke="#333" stroke-width="0.9"/>
<text x="361.6" y="447.9" font-size="8.6" text-anchor="end" fill="#1e1e1e" stroke="#1e1e1e" stroke-width="0.1">6</text>
<line x1="362.6" y1="428.7" x2="365.4" y2="428.7" stroke="#333" stroke-width="0.9"/>
<text x="361.6" y="431.8" font-size="8.6" text-anchor="end" fill="#1e1e1e" stroke="#1e1e1e" stroke-width="0.1">8</text>
<line x1="362.6" y1="412.6" x2="365.4" y2="412.6" stroke="#333" stroke-width="0.9"/>
<text x="361.6" y="415.7" font-size="8.6" text-anchor="end" fill="#1e1e1e" stroke="#1e1e1e" stroke-width="0.1">10</text>
<line x1="362.6" y1="396.5" x2="365.4" y2="396.5" stroke="#333" stroke-width="0.9"/>
<text x="361.6" y="399.6" font-size="8.6" text-anchor="end" fill="#1e1e1e" stroke="#1e1e1e" stroke-width="0.1">12</text>
<line x1="362.6" y1="380.4" x2="365.4" y2="380.4" stroke="#333" stroke-width="0.9"/>
<text x="361.6" y="383.5" font-size="8.6" text-anchor="end" fill="#1e1e1e" stroke="#1e1e1e" stroke-width="0.1">14</text>
<line x1="379.79" y1="498.4" x2="379.79" y2="501.2" stroke="#333" stroke-width="0.9"/>
<text transform="translate(378.79,508) rotate(-45)" font-size="9" text-anchor="end" fill="#262626">05-02</text>
<line x1="394.77" y1="498.4" x2="394.77" y2="501.2" stroke="#333" stroke-width="0.9"/>
<text transform="translate(393.77,508) rotate(-45)" font-size="9" text-anchor="end" fill="#262626">06-02</text>
<line x1="409.75" y1="498.4" x2="409.75" y2="501.2" stroke="#333" stroke-width="0.9"/>
<text transform="translate(408.75,508) rotate(-45)" font-size="9" text-anchor="end" fill="#262626">07-02</text>
<line x1="424.73" y1="498.4" x2="424.73" y2="501.2" stroke="#333" stroke-width="0.9"/>
<text transform="translate(423.73,508) rotate(-45)" font-size="9" text-anchor="end" fill="#262626">08-02</text>
<line x1="439.71" y1="498.4" x2="439.71" y2="501.2" stroke="#333" stroke-width="0.9"/>
<text transform="translate(438.71,508) rotate(-45)" font-size="9" text-anchor="end" fill="#262626">09-02</text>
<line x1="454.69" y1="498.4" x2="454.69" y2="501.2" stroke="#333" stroke-width="0.9"/>
<text transform="translate(453.69,508) rotate(-45)" font-size="9" text-anchor="end" fill="#262626">10-02</text>
<line x1="469.67" y1="498.4" x2="469.67" y2="501.2" stroke="#333" stroke-width="0.9"/>
<text transform="translate(468.67,508) rotate(-45)" font-size="9" text-anchor="end" fill="#262626">11-02</text>
<line x1="484.65" y1="498.4" x2="484.65" y2="501.2" stroke="#333" stroke-width="0.9"/>
<text transform="translate(483.65,508) rotate(-45)" font-size="9" text-anchor="end" fill="#262626">12-02</text>
<line x1="499.63" y1="498.4" x2="499.63" y2="501.2" stroke="#333" stroke-width="0.9"/>
<text transform="translate(498.63,508) rotate(-45)" font-size="9" text-anchor="end" fill="#262626">13-02</text>
<text x="439.4" y="375.9" font-size="9.6" text-anchor="middle" textLength="81.8" lengthAdjust="spacingAndGlyphs" fill="#1e1e1e" stroke="#1e1e1e" stroke-width="0.1">Acc. Precip over AP</text>
<text x="367" y="372.9" font-size="8" textLength="6.9" lengthAdjust="spacingAndGlyphs" fill="#1e1e1e" stroke="#1e1e1e" stroke-width="0.1">h)</text>
<line x1="550.49" y1="379.4" x2="550.49" y2="498.4" stroke="#e6e6e6" stroke-width="0.8"/><line x1="565.46" y1="379.4" x2="565.46" y2="498.4" stroke="#e6e6e6" stroke-width="0.8"/><line x1="580.43" y1="379.4" x2="580.43" y2="498.4" stroke="#e6e6e6" stroke-width="0.8"/><line x1="595.39" y1="379.4" x2="595.39" y2="498.4" stroke="#e6e6e6" stroke-width="0.8"/><line x1="610.37" y1="379.4" x2="610.37" y2="498.4" stroke="#e6e6e6" stroke-width="0.8"/><line x1="625.34" y1="379.4" x2="625.34" y2="498.4" stroke="#e6e6e6" stroke-width="0.8"/><line x1="640.31" y1="379.4" x2="640.31" y2="498.4" stroke="#e6e6e6" stroke-width="0.8"/><line x1="655.27" y1="379.4" x2="655.27" y2="498.4" stroke="#e6e6e6" stroke-width="0.8"/><line x1="670.25" y1="379.4" x2="670.25" y2="498.4" stroke="#e6e6e6" stroke-width="0.8"/><line x1="536.3" y1="493.3" x2="683.5" y2="493.3" stroke="#e6e6e6" stroke-width="0.8"/><line x1="536.3" y1="465.1" x2="683.5" y2="465.1" stroke="#e6e6e6" stroke-width="0.8"/><line x1="536.3" y1="436.9" x2="683.5" y2="436.9" stroke="#e6e6e6" stroke-width="0.8"/><line x1="536.3" y1="408.7" x2="683.5" y2="408.7" stroke="#e6e6e6" stroke-width="0.8"/><line x1="536.3" y1="380.5" x2="683.5" y2="380.5" stroke="#e6e6e6" stroke-width="0.8"/>
<polyline points="543,492.74 557.97,491.89 572.94,490.34 587.91,483.43 602.88,468.48 617.85,441.27 632.82,408.28 647.79,393.33 662.76,387.55 677.73,384.17" fill="none" stroke="#111111" stroke-width="1.25" stroke-dasharray="1.1 2.1" stroke-linejoin="round" stroke-opacity="0.85"/>
<polyline points="543,492.74 557.97,492.03 572.94,490.48 587.91,483.85 602.88,469.61 617.85,443.1 632.82,424.77 647.79,424.35 662.76,423.65 677.73,422.52" fill="none" stroke="#4a90f0" stroke-width="1.25" stroke-dasharray="1.1 2.1" stroke-linejoin="round" stroke-opacity="0.85"/>
<polyline points="543,492.6 557.97,491.75 572.94,490.06 587.91,482.02 602.88,465.81 617.85,439.01 632.82,408.28 647.79,392.49 662.76,386.85 677.73,383.88" fill="none" stroke="#dc2a46" stroke-width="1.25" stroke-dasharray="1.1 2.1" stroke-linejoin="round" stroke-opacity="0.85"/>
<polyline points="543,493.02 557.97,492.1 572.94,490.76 587.91,486.25 602.88,476.1 617.85,453.54 632.82,422.24 647.79,409.55 662.76,403.62 677.73,401.37" fill="none" stroke="#111111" stroke-width="1.35" stroke-linejoin="round" stroke-linecap="round"/>
<polyline points="543,493.02 557.97,492.6 572.94,491.75 587.91,484.98 602.88,470.74 617.85,449.03 632.82,437.04 647.79,436.62 662.76,436.19 677.73,435.21" fill="none" stroke="#4a90f0" stroke-width="1.35" stroke-linejoin="round" stroke-linecap="round"/>
<polyline points="543,492.6 557.97,491.75 572.94,490.34 587.91,483.01 602.88,467.36 617.85,447.9 632.82,420.97 647.79,406.59 662.76,400.24 677.73,397.84" fill="none" stroke="#dc2a46" stroke-width="1.6" stroke-linejoin="round" stroke-linecap="round"/>
<rect x="536.3" y="379.4" width="147.2" height="119" fill="none" stroke="#6a6a6a" stroke-width="1.0"/>
<line x1="533.5" y1="493.3" x2="536.3" y2="493.3" stroke="#333" stroke-width="0.9"/>
<text x="532.5" y="496.4" font-size="8.6" text-anchor="end" fill="#1e1e1e" stroke="#1e1e1e" stroke-width="0.1">0</text>
<line x1="533.5" y1="465.1" x2="536.3" y2="465.1" stroke="#333" stroke-width="0.9"/>
<text x="532.5" y="468.2" font-size="8.6" text-anchor="end" fill="#1e1e1e" stroke="#1e1e1e" stroke-width="0.1">20</text>
<line x1="533.5" y1="436.9" x2="536.3" y2="436.9" stroke="#333" stroke-width="0.9"/>
<text x="532.5" y="440" font-size="8.6" text-anchor="end" fill="#1e1e1e" stroke="#1e1e1e" stroke-width="0.1">40</text>
<line x1="533.5" y1="408.7" x2="536.3" y2="408.7" stroke="#333" stroke-width="0.9"/>
<text x="532.5" y="411.8" font-size="8.6" text-anchor="end" fill="#1e1e1e" stroke="#1e1e1e" stroke-width="0.1">60</text>
<line x1="533.5" y1="380.5" x2="536.3" y2="380.5" stroke="#333" stroke-width="0.9"/>
<text x="532.5" y="383.6" font-size="8.6" text-anchor="end" fill="#1e1e1e" stroke="#1e1e1e" stroke-width="0.1">80</text>
<line x1="550.88" y1="498.4" x2="550.88" y2="501.2" stroke="#333" stroke-width="0.9"/>
<text transform="translate(549.88,508) rotate(-45)" font-size="9" text-anchor="end" fill="#262626">12-03</text>
<line x1="565.86" y1="498.4" x2="565.86" y2="501.2" stroke="#333" stroke-width="0.9"/>
<text transform="translate(564.86,508) rotate(-45)" font-size="9" text-anchor="end" fill="#262626">13-03</text>
<line x1="580.83" y1="498.4" x2="580.83" y2="501.2" stroke="#333" stroke-width="0.9"/>
<text transform="translate(579.83,508) rotate(-45)" font-size="9" text-anchor="end" fill="#262626">14-03</text>
<line x1="595.79" y1="498.4" x2="595.79" y2="501.2" stroke="#333" stroke-width="0.9"/>
<text transform="translate(594.79,508) rotate(-45)" font-size="9" text-anchor="end" fill="#262626">15-03</text>
<line x1="610.76" y1="498.4" x2="610.76" y2="501.2" stroke="#333" stroke-width="0.9"/>
<text transform="translate(609.76,508) rotate(-45)" font-size="9" text-anchor="end" fill="#262626">16-03</text>
<line x1="625.74" y1="498.4" x2="625.74" y2="501.2" stroke="#333" stroke-width="0.9"/>
<text transform="translate(624.74,508) rotate(-45)" font-size="9" text-anchor="end" fill="#262626">17-03</text>
<line x1="640.71" y1="498.4" x2="640.71" y2="501.2" stroke="#333" stroke-width="0.9"/>
<text transform="translate(639.71,508) rotate(-45)" font-size="9" text-anchor="end" fill="#262626">18-03</text>
<line x1="655.67" y1="498.4" x2="655.67" y2="501.2" stroke="#333" stroke-width="0.9"/>
<text transform="translate(654.67,508) rotate(-45)" font-size="9" text-anchor="end" fill="#262626">19-03</text>
<line x1="670.64" y1="498.4" x2="670.64" y2="501.2" stroke="#333" stroke-width="0.9"/>
<text transform="translate(669.64,508) rotate(-45)" font-size="9" text-anchor="end" fill="#262626">20-03</text>
<text x="609.9" y="375.9" font-size="9.6" text-anchor="middle" textLength="100.1" lengthAdjust="spacingAndGlyphs" fill="#1e1e1e" stroke="#1e1e1e" stroke-width="0.1">Acc. Precip over Am-Wil</text>
<text x="537.9" y="372.9" font-size="8" textLength="4.6" lengthAdjust="spacingAndGlyphs" fill="#1e1e1e" stroke="#1e1e1e" stroke-width="0.1">i)</text>
<text transform="translate(7.3,439.6) rotate(-90)" font-size="8.6" text-anchor="middle" textLength="8.6" lengthAdjust="spacingAndGlyphs" fill="#262626">Gt</text>
<rect x="28.2" y="382.8" width="50.8" height="66.3" rx="2" fill="#fff" fill-opacity="0.85" stroke="#dcdcdc" stroke-width="0.8"/>
<line x1="30.8" y1="388.5" x2="45.3" y2="388.5" stroke="#111111" stroke-width="1.3"/>
<text x="51.9" y="391" font-size="7.1" textLength="17.9" lengthAdjust="spacingAndGlyphs" fill="#000" stroke="#000" stroke-width="0.06">CTRL</text>
<line x1="30.8" y1="399.15" x2="45.3" y2="399.15" stroke="#4a90f0" stroke-width="1.3"/>
<text x="51.9" y="401.65" font-size="7.1" textLength="19.6" lengthAdjust="spacingAndGlyphs" fill="#000" stroke="#000" stroke-width="0.06">exICE</text>
<line x1="30.8" y1="409.8" x2="45.3" y2="409.8" stroke="#dc2a46" stroke-width="1.9"/>
<text x="51.9" y="412.3" font-size="7.1" textLength="19.9" lengthAdjust="spacingAndGlyphs" fill="#000" stroke="#000" stroke-width="0.06">noICE</text>
<line x1="30.8" y1="420.45" x2="45.3" y2="420.45" stroke="#111111" stroke-width="1.3" stroke-dasharray="1.1 2.1" stroke-opacity="0.85"/>
<text x="51.9" y="422.95" font-size="7.1" textLength="23.4" lengthAdjust="spacingAndGlyphs" fill="#000" stroke="#000" stroke-width="0.06">with IS</text>
<line x1="30.8" y1="431.1" x2="45.3" y2="431.1" stroke="#4a90f0" stroke-width="1.3" stroke-dasharray="1.1 2.1" stroke-opacity="0.85"/>
<text x="51.9" y="433.6" font-size="7.1" textLength="23.4" lengthAdjust="spacingAndGlyphs" fill="#000" stroke="#000" stroke-width="0.06">with IS</text>
<line x1="30.8" y1="441.75" x2="45.3" y2="441.75" stroke="#dc2a46" stroke-width="1.3" stroke-dasharray="1.1 2.1" stroke-opacity="0.85"/>
<text x="51.9" y="444.25" font-size="7.1" textLength="23.4" lengthAdjust="spacingAndGlyphs" fill="#000" stroke="#000" stroke-width="0.06">with IS</text>
<path d="M260 219 L262 222 L261.5 225.5 L264 227 L268 228 L273 229.8 L278 232.5 L283 235.2 L288 238 L291 240.7 L288.5 243 L287.8 247 L286.8 251.5 L285 255 L283.2 257.2 L281.5 255.5 L280.5 253.5 L279.5 251 L277 248.5 L273 247.5 L270.5 246.8 L269.3 244.5 L270.5 242.8 L268.5 241 L266 238.5 L264 235.5 L262.5 232 L261.2 228.5 L260 224 L259.3 220 Z" fill="#ecea5a"/>
<path d="M387.87 244.51 L390.3 244.6 L389.91 243.93 L391.69 243.67 L392.2 243.9 L394.12 244.75 L395.16 244.4 L395.25 245.45 L396.04 245.05 L397.9 244.39 L398.81 244.83 L400.39 245.44 L402.01 244.92 L402.33 245.72 L403.79 245.44 L404.03 247.24 L404.26 248.26 L405.89 248.9 L407.08 248.54 L407 249.57 L408.57 250.73 L408.61 250.76 L409.32 251.53 L410.36 252.51 L412.27 253.09 L411.86 254.33 L412.01 254.87 L412.97 256.39 L412.79 257.64 L413.76 257.98 L414.84 259.18 L415.43 259.89 L415.37 260.93 L415.35 262.36 L415.94 262.09 L417.83 263.63 L416.64 265.7 L417.49 266.38 L417.66 266.8 L417.66 267.05 L418.31 268.98 L419.5 271.24 L418.88 271.55 L419.4 271.98 L419.26 272.33 L419.91 273.49 L420.6 274.75 L420.91 276.16 L420.04 277.63 L419.9 278.02 L419.27 278.96 L419.54 280.39 L418.74 281.34 L417.85 282.14 L416.97 283.49 L417.29 283.85 L417.1 284.7 L415.91 286.05 L415.34 285.76 L414.74 286.13 L414.59 287.65 L413.02 289.63 L413.8 289.66 L412.77 291.25 L413.03 291.73 L411.98 293.51 L411.78 294.38 L411.68 294.53 L410.67 294.88 L410.37 297.82 L409.35 298.72 L409.8 299.02 L408.7 300.04 L407.67 300.81 L407.48 302.21 L407.3 302.48 L406.71 303.41 L405.73 304.93 L405.32 305.64 L404.98 306.37 L404.04 307.5 L404.36 308.5 L404.35 309.61 L401.24 310.11 L402.89 311.16 L401.17 311.55 L401.38 313.32 L400.38 313.86 L400.09 314.88 L398.09 315.68 L397.81 315.72 L397.13 316.26 L394.31 317.5 L395.32 317.14 L393.47 317.11 L391.88 316.95 L391.26 316.42 L389.78 316.06 L389.65 316.87 L388.55 315.38 L387.06 314.96 L387.51 312.99 L386.49 311.92 L384.93 312.39 L383.62 310.64 L383.93 310.89 L383.13 310.17 L382.51 309.43 L382.49 307.72 L382.27 306.81 L382.42 306.8 L381.45 304.56 L380.27 303.21 L380.54 302.48 L380.19 301.48 L380.14 299.75 L379.05 299.93 L379.66 298.04 L379.57 296.92 L378.47 295.29 L378.84 295.1 L378.76 294.35 L378.09 292.98 L378.46 291.72 L377.6 290.74 L377.9 290.07 L378.27 288.47 L377.98 287.13 L377.68 286.47 L378.29 285.66 L377.23 284.59 L377.66 283.09 L377.38 281.72 L378.94 281.2 L378.08 279.5 L377.08 278.95 L378.03 278.46 L378.09 277.36 L379.83 275.67 L380.01 274.68 L380.22 274.37 L381.39 272.88 L380.88 272.66 L380.48 271.05 L380.9 269.62 L381.95 269.23 L383.17 268.49 L382.8 266.63 L382.27 265.69 L381.56 265.37 L382.63 262.92 L383.01 262.8 L384.13 261.09 L383.99 260.16 L383.55 259.19 L384.33 257.25 L385.14 256.13 L384.97 255.29 L384.72 254.36 L385.75 252.98 L385.57 253.29 L385.59 251.39 L386.54 250.02 L386.78 249.03 L387.23 248.44 L386.74 248.16 L387.49 246.37 L387.41 245.32 L388.2 244.6 Z" fill="#f4525c"/>
<circle cx="336.5" cy="266.4" r="50.5" fill="none" stroke="#bbb" stroke-opacity="0.6" stroke-width="0.6"/><circle cx="336.5" cy="266.4" r="84" fill="none" stroke="#c4c4c4" stroke-opacity="0.6" stroke-width="0.6"/><line x1="336.5" y1="266.4" x2="412.71" y2="310.4" stroke="#b8b8b8" stroke-opacity="0.6" stroke-width="0.6"/><line x1="336.5" y1="266.4" x2="260.29" y2="310.4" stroke="#b8b8b8" stroke-opacity="0.6" stroke-width="0.6"/><line x1="336.5" y1="266.4" x2="260.29" y2="222.4" stroke="#b8b8b8" stroke-opacity="0.6" stroke-width="0.6"/><line x1="336.5" y1="266.4" x2="412.71" y2="222.4" stroke="#b8b8b8" stroke-opacity="0.6" stroke-width="0.6"/><line x1="336.5" y1="178.39999999999998" x2="336.5" y2="354.4" stroke="#b4b4b4" stroke-width="0.6" stroke-dasharray="1 1"/>
<polyline points="259.56,218.3 260.03,220.73 260.74,222.53 260.5,223.56 261.16,225.59 261.28,226.03 262.11,228.28 263.66,228.68 264.57,230.75 265.31,229.55 266.29,231.27 267.11,232.22 267.89,233.95 267.91,234.92 269.71,235.25 271.21,235.61 273.19,235.81 274.34,235.91 275.77,235.74 277.62,235.94 279.35,236.61 279.83,236.73 281.52,236.91 283.29,236.55 284.63,237.32 286.19,237.65 287.32,238.27 288.2,238.95 289.93,239.97 291.63,240.89 291.25,242.48 290.92,243.73 291.61,245.16 291.36,246.79 292,248.07 292.29,249.63 292.89,250.68 293.65,251.93 293.54,253.32 295.06,254.73 295.34,255.63 296.63,256.78 297.82,258.13 299.54,258.7 301.2,258.47 302.48,258.8 303.64,257.82 304.55,257.94 306.13,257.21 307.23,256.12 308.28,255.24 309.85,254.86 311.13,255.12 312.54,253.65 314.22,253.8 314.72,253.97 316.31,253.52 315.51,251.97 315.11,251.15 314.4,249.53 315.5,247.74 315.44,246.71 315.48,245.19 316.23,244.33 316.51,242.92 317.32,241.69 318.21,240.04 318.95,238.75 318.66,236.94 318.36,235.32 317.72,234.54 317.69,233.46 316.75,231.31 316.58,230.83 314.93,229.66 314.51,227.46 314.37,226.05 314.98,224.16 315.32,222.62 316.19,220.73 317.44,220.45 318.64,218.97 319.18,218.41 320.39,217.31 320.52,216.81 321.72,214.66 322.15,214.08 321.58,212.24 322.61,211.29 323.11,209.73 323.56,209.06 324.65,207.04 324.57,206.71 325.41,204.43 327.09,204.58 328.77,204.4 329.58,204.27 331.29,204.52 332.6,203.4 333.59,204.01 335.04,202.72 336.33,203.13 338.16,202.6 339.3,202.44 340.34,201.42 342.53,201.27 343.71,200.12 345.24,199.26 346.14,199.38 347.44,199.94 349.53,200.24 350.48,201.65 351.44,202.55 352.19,202.43 354.44,201.88 355.17,203.12 356.78,202.67 358.09,203.04 359.72,204.27 360.72,204.87 362.08,206.4 363.47,206.83 364.59,206.88 365.69,208.1 367.36,207.63 368.26,207.93 370.07,207.79 371.5,207.99 373.29,207.69 375.08,207.3 376.64,206.3 376.72,208.01 376.97,209.5 377.75,210.56 378.29,211.88 380.26,212.46 381.28,213.49 383.32,213.66 384.26,214.05 385.58,214.25 386.56,215.03 388.15,214.99 389.46,214.58 390.86,215.5 392.06,216.1 393.31,216.8 394.84,216.75 396.24,217.55 398.15,218.05 398.9,219.27 400.46,220.03 402.18,220.19 402.71,221.94 403.87,223.14 403.55,225.43 402.87,226.06 402.28,227.58 402.71,229.23 402.8,231.06 403.05,231.77 405.07,233.74 405.26,234.84 405.43,236.46 404.72,237.53 404.48,239.28 403.14,240.24 402.19,241.3 401.04,241.25 399.3,242.46 397.94,242.51 396.84,242.79 395.75,242.92 394.49,244.15 393.14,245.06 394.82,244.93 396.86,245.65 398.19,245.61 399.5,246.1 400.81,246.52 402.07,246.97 403.62,247.27 404.53,247.3 406.13,247.74 406.82,248.11 406.86,250.01 408.6,251.38 409.55,252.09 410.17,252.65 411.26,253.95 411.98,255.25 412.75,256.51 413.35,257.18 413.48,258.61 414.47,260.04 414.57,261.82 414.67,263.24 414.38,264.54 415.4,265.64 415.15,267.07 415.5,268.38 416.64,269.73 416.46,271.52 417.97,272.28 418.6,273.15 419.13,274.62 419.05,276.08 418.41,277.06 417.87,278.93 417.93,279.9 417.03,281.7 417.07,282.86 416.13,283.86 416.05,285.36 414.77,286.72 414.45,287.51 413.08,288.41 412.92,288.99 411.69,290.71 411.39,292.06 411.5,293.51 411.76,294.53 412.2,296.03 411.99,296.74 410.42,298.33 409.91,299.05 408.88,299.73 407.73,300.69 406.79,301.87 405.51,303.02 405.6,303.85 404.22,305.62 403.62,306.98 403.17,307.63 402.54,309.66 401.96,310.82 401.18,311.73 399.73,313.75 399.15,314.55 397.99,315.34 397.25,316.53 396.62,317.89 395.77,319.54 395.07,320.89 394.64,322.11 395.25,323.21 394.72,325.48 393.95,325.27 392.36,324.28 390.34,323.63 389.15,323.73 387.03,324.67 386.33,324.86 385.2,326.85 384.07,327.9 383.2,328.56 382.12,329.82 380.42,329.9 379.85,329.33 377.6,329.2 377.39,329.49 375.48,329.2 373.92,328.69 372.78,329.7 370.66,329.64 369.55,330.27 368.37,330.94 367.21,330.75 365.7,329.9 363.63,330.42 362.39,329.91 360.41,329.09 359.92,329.5 358.31,329.03 356.58,329.01 356.08,329.53 354.45,329.11 352.77,329.67 352.31,329.02 350.59,329.13 349.03,328.25 347.79,329.08 346.47,327.5 344.91,326.99 345.85,325.08 345.42,323.34 345.28,321.91 345.7,320.69 346.29,319.86 346.29,318.18 347.01,316.46 346.99,315.66 347.9,313.92 348.84,312.5 349.2,311.47 349.26,310.5 348.59,309.17 348.64,307.63 348.43,306.53 346.83,305.38 346.25,304.21 346.94,302.78 346.83,301.55 347.01,300.06 346.83,298.85 346.56,297.6 347.05,295.34 346.17,294.53 345.32,293.89 344.93,291.92 343.95,289.85 343.16,289.3 342,288.58 341.26,288.18 340.3,286.98 338.93,285.69 338.23,284.07 337.06,284.64 334.52,285.69 334.04,284.64 331.72,285.43 331.13,282.35 330.12,282 329.35,280.48 328.37,279.3 326.75,279.37 325.83,280.27 325.68,282.48 325.86,283.32 325.72,284.87 325.98,285.6 325.41,288.41 325.23,289.57 323.65,289.93 322.46,291.78 321.13,291.84 319.43,292.87 319.07,294.06 318.37,295.62 318.56,296.53 318.2,298.59 318.19,299.59 318.79,301.35 319.97,302.53 321.29,303.94 319.88,305.99 319.36,305.31 318,305.27 316.84,304.25 314.9,304.59 313.36,304.45 312.38,304.83 310.99,306 308.76,306.73 307.77,305.44 305.62,304.79 304.42,304.95 302.84,304.35 301.14,304.66 300.1,303.57 297.84,302.96 296.79,302.08 296.27,301.12 294.51,299.46 294.26,298.69 293.17,297.47 291.84,296.25 291.84,294.92 290.26,293.38 289.67,292.17 289.13,291.45 287.89,289.47 286.85,288.33 286.82,286.94 287.06,285.18 287.34,284.02 287,282.88 287.27,281.85 287.67,279.95 286.8,278.27 286.78,276.65 286.25,274.69 284.55,275.84 283.06,275.86 281.73,275.87 280.83,274.77 281.18,273.49 280.46,272.07 280.36,270.23 279.08,268.91 278.67,267.5 277.96,265.86 278.85,264.63 279.12,263.57 279.39,261.44 280.31,259.69 280.07,258.89 281.3,257.14 282.02,255.7 280.84,253.71 279.8,252.07 279.35,250.6 278.63,250.32 276.79,248.38 276.12,247.16 274.52,246.32 273.88,245.05 272.51,244.29 271.82,243.61 271.36,242.1 270,240.95 269.18,239.99 267.92,238.4 267.02,237.72 266.84,236.73 265.19,235.2 264.71,234.15 263.86,233.27 263.33,231.62 262.13,230.52 261.64,229.37 261.67,227.81 260.97,226.9 261.2,225.88 259.68,224.63 259.99,223.18 259.38,222.17 259.83,220.46 259.8,218.7" fill="none" stroke="#333" stroke-width="0.55" stroke-linejoin="round" stroke-linecap="round"/>
<polyline points="308.5,239 312,239.9 313.3,242.5 312.8,245.9 310.2,246.8 307.6,244.2 306.8,240.8 308.5,239" fill="none" stroke="#333" stroke-width="0.6" stroke-linejoin="round" stroke-linecap="round"/>
<polyline points="269.4,242.6 274.1,242.6 278.9,243.6 282.8,244.5 283.7,248.4 282.8,252.2" fill="none" stroke="#333" stroke-width="0.5" stroke-linejoin="round" stroke-linecap="round"/>
<ellipse cx="260.3" cy="219.5" rx="1.1" ry="2" fill="#ecea5a" stroke="#555" stroke-width="0.4"/>
<text x="244.2" y="198.6" font-size="9.3" textLength="8.6" lengthAdjust="spacingAndGlyphs" fill="#1e1e1e" stroke="#1e1e1e" stroke-width="0.1">e)</text>
<text x="277.3" y="228.5" font-size="8.7" textLength="10.4" lengthAdjust="spacingAndGlyphs" fill="#1e1e1e" stroke="#1e1e1e" stroke-width="0.1">AP</text>
<text x="348.7" y="273.9" font-size="9" textLength="29" lengthAdjust="spacingAndGlyphs" fill="#1e1e1e" stroke="#1e1e1e" stroke-width="0.1">Am-Wil</text>
</svg>
</body></html>
